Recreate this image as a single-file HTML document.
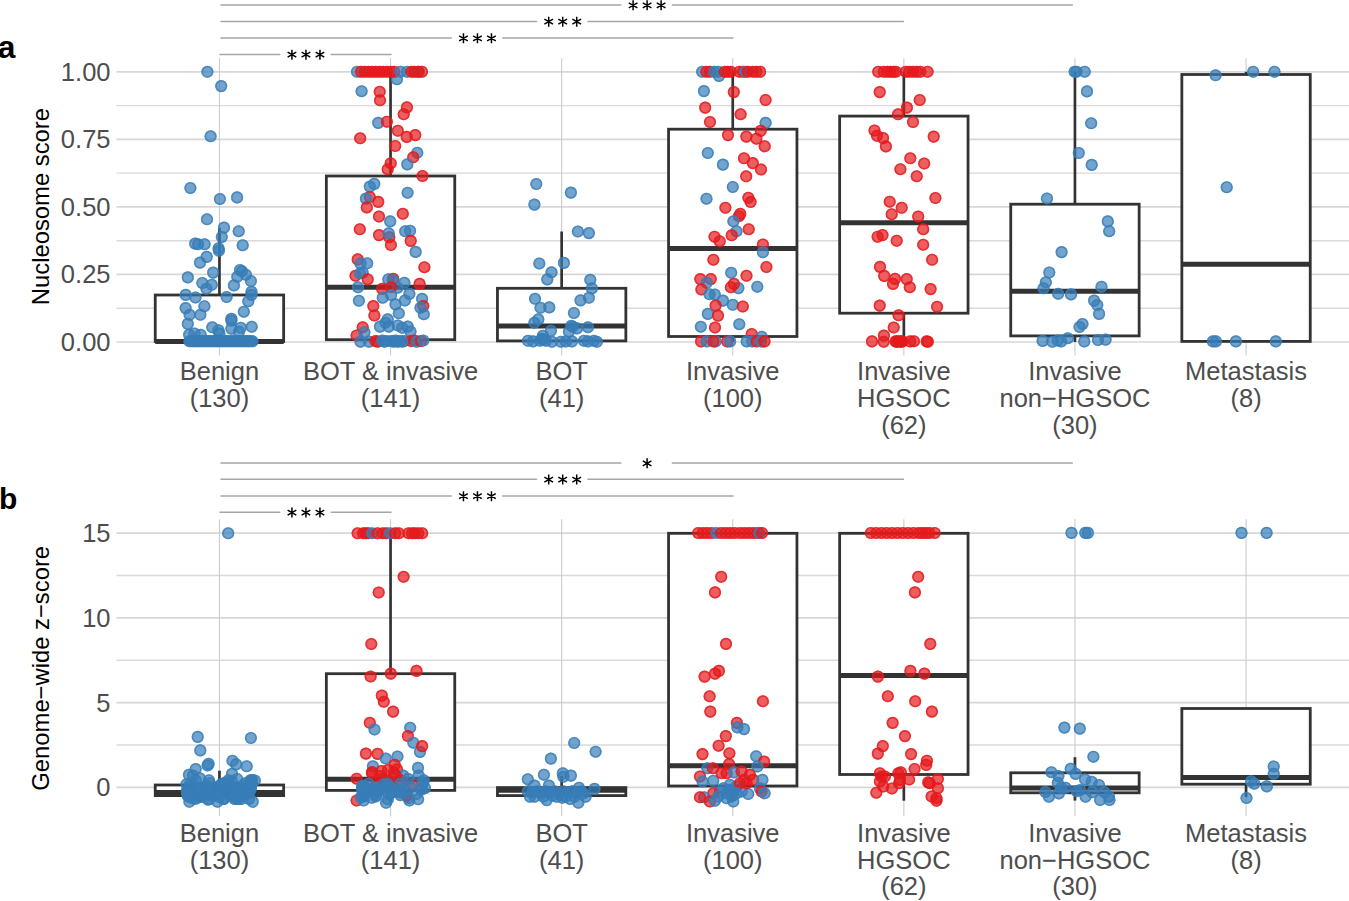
<!DOCTYPE html><html><head><meta charset="utf-8"><style>html,body{margin:0;padding:0;background:#fff;}svg{display:block;}text{font-family:"Liberation Sans",sans-serif;}</style></head><body>
<svg width="1349" height="901" viewBox="0 0 1349 901">
<rect width="1349" height="901" fill="#fff"/>
<line x1="116.5" x2="1349" y1="308.23" y2="308.23" stroke="#dadada" stroke-width="1.4"/>
<line x1="116.5" x2="1349" y1="240.68" y2="240.68" stroke="#dadada" stroke-width="1.4"/>
<line x1="116.5" x2="1349" y1="173.12" y2="173.12" stroke="#dadada" stroke-width="1.4"/>
<line x1="116.5" x2="1349" y1="105.58" y2="105.58" stroke="#dadada" stroke-width="1.4"/>
<line x1="116.5" x2="1349" y1="342.00" y2="342.00" stroke="#d7d7d7" stroke-width="1.7"/>
<line x1="116.5" x2="1349" y1="274.45" y2="274.45" stroke="#d7d7d7" stroke-width="1.7"/>
<line x1="116.5" x2="1349" y1="206.90" y2="206.90" stroke="#d7d7d7" stroke-width="1.7"/>
<line x1="116.5" x2="1349" y1="139.35" y2="139.35" stroke="#d7d7d7" stroke-width="1.7"/>
<line x1="116.5" x2="1349" y1="71.80" y2="71.80" stroke="#d7d7d7" stroke-width="1.7"/>
<line x1="219.45" x2="219.45" y1="58.3" y2="355.5" stroke="#cdcdcd" stroke-width="1.15"/>
<line x1="390.55" x2="390.55" y1="58.3" y2="355.5" stroke="#cdcdcd" stroke-width="1.15"/>
<line x1="561.65" x2="561.65" y1="58.3" y2="355.5" stroke="#cdcdcd" stroke-width="1.15"/>
<line x1="732.75" x2="732.75" y1="58.3" y2="355.5" stroke="#cdcdcd" stroke-width="1.15"/>
<line x1="903.85" x2="903.85" y1="58.3" y2="355.5" stroke="#cdcdcd" stroke-width="1.15"/>
<line x1="1074.95" x2="1074.95" y1="58.3" y2="355.5" stroke="#cdcdcd" stroke-width="1.15"/>
<line x1="1246.05" x2="1246.05" y1="58.3" y2="355.5" stroke="#cdcdcd" stroke-width="1.15"/>
<line x1="116.5" x2="1349" y1="745.03" y2="745.03" stroke="#dadada" stroke-width="1.4"/>
<line x1="116.5" x2="1349" y1="660.30" y2="660.30" stroke="#dadada" stroke-width="1.4"/>
<line x1="116.5" x2="1349" y1="575.56" y2="575.56" stroke="#dadada" stroke-width="1.4"/>
<line x1="116.5" x2="1349" y1="787.40" y2="787.40" stroke="#d7d7d7" stroke-width="1.7"/>
<line x1="116.5" x2="1349" y1="702.66" y2="702.66" stroke="#d7d7d7" stroke-width="1.7"/>
<line x1="116.5" x2="1349" y1="617.93" y2="617.93" stroke="#d7d7d7" stroke-width="1.7"/>
<line x1="116.5" x2="1349" y1="533.19" y2="533.19" stroke="#d7d7d7" stroke-width="1.7"/>
<line x1="219.45" x2="219.45" y1="519.3" y2="816.0" stroke="#cdcdcd" stroke-width="1.15"/>
<line x1="390.55" x2="390.55" y1="519.3" y2="816.0" stroke="#cdcdcd" stroke-width="1.15"/>
<line x1="561.65" x2="561.65" y1="519.3" y2="816.0" stroke="#cdcdcd" stroke-width="1.15"/>
<line x1="732.75" x2="732.75" y1="519.3" y2="816.0" stroke="#cdcdcd" stroke-width="1.15"/>
<line x1="903.85" x2="903.85" y1="519.3" y2="816.0" stroke="#cdcdcd" stroke-width="1.15"/>
<line x1="1074.95" x2="1074.95" y1="519.3" y2="816.0" stroke="#cdcdcd" stroke-width="1.15"/>
<line x1="1246.05" x2="1246.05" y1="519.3" y2="816.0" stroke="#cdcdcd" stroke-width="1.15"/>
<text x="110.5" y="351.00" text-anchor="end" fill="#4d4d4d" font-size="25.5">0.00</text>
<text x="110.5" y="283.45" text-anchor="end" fill="#4d4d4d" font-size="25.5">0.25</text>
<text x="110.5" y="215.90" text-anchor="end" fill="#4d4d4d" font-size="25.5">0.50</text>
<text x="110.5" y="148.35" text-anchor="end" fill="#4d4d4d" font-size="25.5">0.75</text>
<text x="110.5" y="80.80" text-anchor="end" fill="#4d4d4d" font-size="25.5">1.00</text>
<text x="110.5" y="796.40" text-anchor="end" fill="#4d4d4d" font-size="25.5">0</text>
<text x="110.5" y="711.66" text-anchor="end" fill="#4d4d4d" font-size="25.5">5</text>
<text x="110.5" y="626.93" text-anchor="end" fill="#4d4d4d" font-size="25.5">10</text>
<text x="110.5" y="542.19" text-anchor="end" fill="#4d4d4d" font-size="25.5">15</text>
<text x="219.45" y="380.10" text-anchor="middle" fill="#4d4d4d" font-size="25.5">Benign</text>
<text x="219.45" y="406.90" text-anchor="middle" fill="#4d4d4d" font-size="25.5">(130)</text>
<text x="390.55" y="380.10" text-anchor="middle" fill="#4d4d4d" font-size="25.5">BOT &amp; invasive</text>
<text x="390.55" y="406.90" text-anchor="middle" fill="#4d4d4d" font-size="25.5">(141)</text>
<text x="561.65" y="380.10" text-anchor="middle" fill="#4d4d4d" font-size="25.5">BOT</text>
<text x="561.65" y="406.90" text-anchor="middle" fill="#4d4d4d" font-size="25.5">(41)</text>
<text x="732.75" y="380.10" text-anchor="middle" fill="#4d4d4d" font-size="25.5">Invasive</text>
<text x="732.75" y="406.90" text-anchor="middle" fill="#4d4d4d" font-size="25.5">(100)</text>
<text x="903.85" y="380.10" text-anchor="middle" fill="#4d4d4d" font-size="25.5">Invasive</text>
<text x="903.85" y="406.90" text-anchor="middle" fill="#4d4d4d" font-size="25.5">HGSOC</text>
<text x="903.85" y="433.70" text-anchor="middle" fill="#4d4d4d" font-size="25.5">(62)</text>
<text x="1074.95" y="380.10" text-anchor="middle" fill="#4d4d4d" font-size="25.5">Invasive</text>
<text x="1074.95" y="406.90" text-anchor="middle" fill="#4d4d4d" font-size="25.5">non−HGSOC</text>
<text x="1074.95" y="433.70" text-anchor="middle" fill="#4d4d4d" font-size="25.5">(30)</text>
<text x="1246.05" y="380.10" text-anchor="middle" fill="#4d4d4d" font-size="25.5">Metastasis</text>
<text x="1246.05" y="406.90" text-anchor="middle" fill="#4d4d4d" font-size="25.5">(8)</text>
<text x="219.45" y="841.70" text-anchor="middle" fill="#4d4d4d" font-size="25.5">Benign</text>
<text x="219.45" y="868.50" text-anchor="middle" fill="#4d4d4d" font-size="25.5">(130)</text>
<text x="390.55" y="841.70" text-anchor="middle" fill="#4d4d4d" font-size="25.5">BOT &amp; invasive</text>
<text x="390.55" y="868.50" text-anchor="middle" fill="#4d4d4d" font-size="25.5">(141)</text>
<text x="561.65" y="841.70" text-anchor="middle" fill="#4d4d4d" font-size="25.5">BOT</text>
<text x="561.65" y="868.50" text-anchor="middle" fill="#4d4d4d" font-size="25.5">(41)</text>
<text x="732.75" y="841.70" text-anchor="middle" fill="#4d4d4d" font-size="25.5">Invasive</text>
<text x="732.75" y="868.50" text-anchor="middle" fill="#4d4d4d" font-size="25.5">(100)</text>
<text x="903.85" y="841.70" text-anchor="middle" fill="#4d4d4d" font-size="25.5">Invasive</text>
<text x="903.85" y="868.50" text-anchor="middle" fill="#4d4d4d" font-size="25.5">HGSOC</text>
<text x="903.85" y="895.30" text-anchor="middle" fill="#4d4d4d" font-size="25.5">(62)</text>
<text x="1074.95" y="841.70" text-anchor="middle" fill="#4d4d4d" font-size="25.5">Invasive</text>
<text x="1074.95" y="868.50" text-anchor="middle" fill="#4d4d4d" font-size="25.5">non−HGSOC</text>
<text x="1074.95" y="895.30" text-anchor="middle" fill="#4d4d4d" font-size="25.5">(30)</text>
<text x="1246.05" y="841.70" text-anchor="middle" fill="#4d4d4d" font-size="25.5">Metastasis</text>
<text x="1246.05" y="868.50" text-anchor="middle" fill="#4d4d4d" font-size="25.5">(8)</text>
<text transform="translate(48.8,206.6) rotate(-90)" text-anchor="middle" font-size="23.8" fill="#000">Nucleosome score</text>
<text transform="translate(48.8,668.3) rotate(-90)" text-anchor="middle" font-size="23.8" fill="#000">Genome−wide z−score</text>
<text x="-2.2" y="57.9" font-size="31.8" font-weight="bold" fill="#000">a</text>
<text x="-1" y="509" font-size="30" font-weight="bold" fill="#000">b</text>
<path d="M220,54.4H279.80M331.20,54.4H391" stroke="#a6a6a6" stroke-width="1.5" stroke-linecap="round" fill="none"/>
<path d="M291.95,49.70L291.95,59.70M287.62,52.20L296.28,57.20M287.62,57.20L296.28,52.20M305.95,49.70L305.95,59.70M301.62,52.20L310.28,57.20M301.62,57.20L310.28,52.20M319.95,49.70L319.95,59.70M315.62,52.20L324.28,57.20M315.62,57.20L324.28,52.20" stroke="#000" stroke-width="1.5" fill="none"/>
<path d="M221,38.0H451.30M502.70,38.0H733" stroke="#a6a6a6" stroke-width="1.5" stroke-linecap="round" fill="none"/>
<path d="M463.45,33.30L463.45,43.30M459.12,35.80L467.78,40.80M459.12,40.80L467.78,35.80M477.45,33.30L477.45,43.30M473.12,35.80L481.78,40.80M473.12,40.80L481.78,35.80M491.45,33.30L491.45,43.30M487.12,35.80L495.78,40.80M487.12,40.80L495.78,35.80" stroke="#000" stroke-width="1.5" fill="none"/>
<path d="M221,21.4H536.55M587.95,21.4H903.5" stroke="#a6a6a6" stroke-width="1.5" stroke-linecap="round" fill="none"/>
<path d="M548.70,16.70L548.70,26.70M544.37,19.20L553.03,24.20M544.37,24.20L553.03,19.20M562.70,16.70L562.70,26.70M558.37,19.20L567.03,24.20M558.37,24.20L567.03,19.20M576.70,16.70L576.70,26.70M572.37,19.20L581.03,24.20M572.37,24.20L581.03,19.20" stroke="#000" stroke-width="1.5" fill="none"/>
<path d="M221,5.0H620.95M672.35,5.0H1072.3" stroke="#a6a6a6" stroke-width="1.5" stroke-linecap="round" fill="none"/>
<path d="M633.10,0.30L633.10,10.30M628.77,2.80L637.43,7.80M628.77,7.80L637.43,2.80M647.10,0.30L647.10,10.30M642.77,2.80L651.43,7.80M642.77,7.80L651.43,2.80M661.10,0.30L661.10,10.30M656.77,2.80L665.43,7.80M656.77,7.80L665.43,2.80" stroke="#000" stroke-width="1.5" fill="none"/>
<path d="M220,512.3H279.80M331.20,512.3H391" stroke="#a6a6a6" stroke-width="1.5" stroke-linecap="round" fill="none"/>
<path d="M291.95,507.60L291.95,517.60M287.62,510.10L296.28,515.10M287.62,515.10L296.28,510.10M305.95,507.60L305.95,517.60M301.62,510.10L310.28,515.10M301.62,515.10L310.28,510.10M319.95,507.60L319.95,517.60M315.62,510.10L324.28,515.10M315.62,515.10L324.28,510.10" stroke="#000" stroke-width="1.5" fill="none"/>
<path d="M221,495.9H451.30M502.70,495.9H733" stroke="#a6a6a6" stroke-width="1.5" stroke-linecap="round" fill="none"/>
<path d="M463.45,491.20L463.45,501.20M459.12,493.70L467.78,498.70M459.12,498.70L467.78,493.70M477.45,491.20L477.45,501.20M473.12,493.70L481.78,498.70M473.12,498.70L481.78,493.70M491.45,491.20L491.45,501.20M487.12,493.70L495.78,498.70M487.12,498.70L495.78,493.70" stroke="#000" stroke-width="1.5" fill="none"/>
<path d="M221,479.3H536.55M587.95,479.3H903.5" stroke="#a6a6a6" stroke-width="1.5" stroke-linecap="round" fill="none"/>
<path d="M548.70,474.60L548.70,484.60M544.37,477.10L553.03,482.10M544.37,482.10L553.03,477.10M562.70,474.60L562.70,484.60M558.37,477.10L567.03,482.10M558.37,482.10L567.03,477.10M576.70,474.60L576.70,484.60M572.37,477.10L581.03,482.10M572.37,482.10L581.03,477.10" stroke="#000" stroke-width="1.5" fill="none"/>
<path d="M221,463.0H620.95M672.35,463.0H1072.3" stroke="#a6a6a6" stroke-width="1.5" stroke-linecap="round" fill="none"/>
<path d="M647.10,458.30L647.10,468.30M642.77,460.80L651.43,465.80M642.77,465.80L651.43,460.80" stroke="#000" stroke-width="1.5" fill="none"/>
<line x1="219.45" x2="219.45" y1="227.9" y2="295.0" stroke="#333333" fill="none" stroke-width="2.7"/>
<rect x="155.25" y="295.0" width="128.40" height="46.50" stroke="#333333" fill="#fff" stroke-width="2.8"/>
<line x1="155.25" x2="283.65" y1="341.5" y2="341.5" stroke="#333333" fill="none" stroke-width="5.0"/>
<line x1="390.55" x2="390.55" y1="71.8" y2="176" stroke="#333333" fill="none" stroke-width="2.7"/>
<line x1="390.55" x2="390.55" y1="339.7" y2="342" stroke="#333333" fill="none" stroke-width="2.7"/>
<rect x="326.35" y="176" width="128.40" height="163.70" stroke="#333333" fill="#fff" stroke-width="2.8"/>
<line x1="326.35" x2="454.75" y1="287.2" y2="287.2" stroke="#333333" fill="none" stroke-width="5.0"/>
<line x1="561.65" x2="561.65" y1="231.5" y2="288.3" stroke="#333333" fill="none" stroke-width="2.7"/>
<line x1="561.65" x2="561.65" y1="340.9" y2="342" stroke="#333333" fill="none" stroke-width="2.7"/>
<rect x="497.45" y="288.3" width="128.40" height="52.60" stroke="#333333" fill="#fff" stroke-width="2.8"/>
<line x1="497.45" x2="625.85" y1="326" y2="326" stroke="#333333" fill="none" stroke-width="5.0"/>
<line x1="732.75" x2="732.75" y1="71.8" y2="129.2" stroke="#333333" fill="none" stroke-width="2.7"/>
<line x1="732.75" x2="732.75" y1="336.5" y2="342" stroke="#333333" fill="none" stroke-width="2.7"/>
<rect x="668.55" y="129.2" width="128.40" height="207.30" stroke="#333333" fill="#fff" stroke-width="2.8"/>
<line x1="668.55" x2="796.95" y1="248.4" y2="248.4" stroke="#333333" fill="none" stroke-width="5.0"/>
<line x1="903.85" x2="903.85" y1="71.8" y2="116.1" stroke="#333333" fill="none" stroke-width="2.7"/>
<line x1="903.85" x2="903.85" y1="313.2" y2="342" stroke="#333333" fill="none" stroke-width="2.7"/>
<rect x="839.65" y="116.1" width="128.40" height="197.10" stroke="#333333" fill="#fff" stroke-width="2.8"/>
<line x1="839.65" x2="968.05" y1="222.8" y2="222.8" stroke="#333333" fill="none" stroke-width="5.0"/>
<line x1="1074.95" x2="1074.95" y1="71.8" y2="204.2" stroke="#333333" fill="none" stroke-width="2.7"/>
<line x1="1074.95" x2="1074.95" y1="335.9" y2="342" stroke="#333333" fill="none" stroke-width="2.7"/>
<rect x="1010.75" y="204.2" width="128.40" height="131.70" stroke="#333333" fill="#fff" stroke-width="2.8"/>
<line x1="1010.75" x2="1139.15" y1="291.2" y2="291.2" stroke="#333333" fill="none" stroke-width="5.0"/>
<line x1="1246.05" x2="1246.05" y1="71.8" y2="74.5" stroke="#333333" fill="none" stroke-width="2.7"/>
<rect x="1181.85" y="74.5" width="128.40" height="266.90" stroke="#333333" fill="#fff" stroke-width="2.8"/>
<line x1="1181.85" x2="1310.25" y1="264.3" y2="264.3" stroke="#333333" fill="none" stroke-width="5.0"/>
<line x1="219.45" x2="219.45" y1="770.7" y2="785.0" stroke="#333333" fill="none" stroke-width="2.7"/>
<line x1="219.45" x2="219.45" y1="795.6" y2="801" stroke="#333333" fill="none" stroke-width="2.7"/>
<rect x="155.25" y="785.0" width="128.40" height="10.60" stroke="#333333" fill="#fff" stroke-width="2.8"/>
<line x1="155.25" x2="283.65" y1="792.5" y2="792.5" stroke="#333333" fill="none" stroke-width="5.0"/>
<line x1="390.55" x2="390.55" y1="533.3" y2="673.7" stroke="#333333" fill="none" stroke-width="2.7"/>
<line x1="390.55" x2="390.55" y1="790.4" y2="802" stroke="#333333" fill="none" stroke-width="2.7"/>
<rect x="326.35" y="673.7" width="128.40" height="116.70" stroke="#333333" fill="#fff" stroke-width="2.8"/>
<line x1="326.35" x2="454.75" y1="779.2" y2="779.2" stroke="#333333" fill="none" stroke-width="5.0"/>
<line x1="561.65" x2="561.65" y1="776" y2="787.6" stroke="#333333" fill="none" stroke-width="2.7"/>
<line x1="561.65" x2="561.65" y1="795.6" y2="801" stroke="#333333" fill="none" stroke-width="2.7"/>
<rect x="497.45" y="787.6" width="128.40" height="8.00" stroke="#333333" fill="#fff" stroke-width="2.8"/>
<line x1="497.45" x2="625.85" y1="790.3" y2="790.3" stroke="#333333" fill="none" stroke-width="5.0"/>
<line x1="732.75" x2="732.75" y1="786.0" y2="801" stroke="#333333" fill="none" stroke-width="2.7"/>
<rect x="668.55" y="533.3" width="128.40" height="252.70" stroke="#333333" fill="#fff" stroke-width="2.8"/>
<line x1="668.55" x2="796.95" y1="765.7" y2="765.7" stroke="#333333" fill="none" stroke-width="5.0"/>
<line x1="903.85" x2="903.85" y1="774.5" y2="800.7" stroke="#333333" fill="none" stroke-width="2.7"/>
<rect x="839.65" y="533.3" width="128.40" height="241.20" stroke="#333333" fill="#fff" stroke-width="2.8"/>
<line x1="839.65" x2="968.05" y1="675.4" y2="675.4" stroke="#333333" fill="none" stroke-width="5.0"/>
<line x1="1074.95" x2="1074.95" y1="757.2" y2="772.8" stroke="#333333" fill="none" stroke-width="2.7"/>
<line x1="1074.95" x2="1074.95" y1="792.8" y2="800.6" stroke="#333333" fill="none" stroke-width="2.7"/>
<rect x="1010.75" y="772.8" width="128.40" height="20.00" stroke="#333333" fill="#fff" stroke-width="2.8"/>
<line x1="1010.75" x2="1139.15" y1="788.0" y2="788.0" stroke="#333333" fill="none" stroke-width="5.0"/>
<line x1="1246.05" x2="1246.05" y1="784.2" y2="797" stroke="#333333" fill="none" stroke-width="2.7"/>
<rect x="1181.85" y="708.5" width="128.40" height="75.70" stroke="#333333" fill="#fff" stroke-width="2.8"/>
<line x1="1181.85" x2="1310.25" y1="777.5" y2="777.5" stroke="#333333" fill="none" stroke-width="5.0"/>
<circle cx="207.0" cy="219.3" r="6.05" fill="#377EB8" fill-opacity="0.7"/><circle cx="207.0" cy="219.3" r="5.25" fill="none" stroke="#377EB8" stroke-opacity="0.7" stroke-width="1.6"/>
<circle cx="224.0" cy="227.6" r="6.05" fill="#377EB8" fill-opacity="0.7"/><circle cx="224.0" cy="227.6" r="5.25" fill="none" stroke="#377EB8" stroke-opacity="0.7" stroke-width="1.6"/>
<circle cx="238.7" cy="231.2" r="6.05" fill="#377EB8" fill-opacity="0.7"/><circle cx="238.7" cy="231.2" r="5.25" fill="none" stroke="#377EB8" stroke-opacity="0.7" stroke-width="1.6"/>
<circle cx="221.8" cy="237.0" r="6.05" fill="#377EB8" fill-opacity="0.7"/><circle cx="221.8" cy="237.0" r="5.25" fill="none" stroke="#377EB8" stroke-opacity="0.7" stroke-width="1.6"/>
<circle cx="195.2" cy="243.6" r="6.05" fill="#377EB8" fill-opacity="0.7"/><circle cx="195.2" cy="243.6" r="5.25" fill="none" stroke="#377EB8" stroke-opacity="0.7" stroke-width="1.6"/>
<circle cx="198.1" cy="244.2" r="6.05" fill="#377EB8" fill-opacity="0.7"/><circle cx="198.1" cy="244.2" r="5.25" fill="none" stroke="#377EB8" stroke-opacity="0.7" stroke-width="1.6"/>
<circle cx="204.6" cy="244.2" r="6.05" fill="#377EB8" fill-opacity="0.7"/><circle cx="204.6" cy="244.2" r="5.25" fill="none" stroke="#377EB8" stroke-opacity="0.7" stroke-width="1.6"/>
<circle cx="242.7" cy="245.3" r="6.05" fill="#377EB8" fill-opacity="0.7"/><circle cx="242.7" cy="245.3" r="5.25" fill="none" stroke="#377EB8" stroke-opacity="0.7" stroke-width="1.6"/>
<circle cx="218.6" cy="248.4" r="6.05" fill="#377EB8" fill-opacity="0.7"/><circle cx="218.6" cy="248.4" r="5.25" fill="none" stroke="#377EB8" stroke-opacity="0.7" stroke-width="1.6"/>
<circle cx="218.9" cy="250.8" r="6.05" fill="#377EB8" fill-opacity="0.7"/><circle cx="218.9" cy="250.8" r="5.25" fill="none" stroke="#377EB8" stroke-opacity="0.7" stroke-width="1.6"/>
<circle cx="206.7" cy="256.9" r="6.05" fill="#377EB8" fill-opacity="0.7"/><circle cx="206.7" cy="256.9" r="5.25" fill="none" stroke="#377EB8" stroke-opacity="0.7" stroke-width="1.6"/>
<circle cx="200.0" cy="262.6" r="6.05" fill="#377EB8" fill-opacity="0.7"/><circle cx="200.0" cy="262.6" r="5.25" fill="none" stroke="#377EB8" stroke-opacity="0.7" stroke-width="1.6"/>
<circle cx="213.2" cy="272.6" r="6.05" fill="#377EB8" fill-opacity="0.7"/><circle cx="213.2" cy="272.6" r="5.25" fill="none" stroke="#377EB8" stroke-opacity="0.7" stroke-width="1.6"/>
<circle cx="187.8" cy="277.4" r="6.05" fill="#377EB8" fill-opacity="0.7"/><circle cx="187.8" cy="277.4" r="5.25" fill="none" stroke="#377EB8" stroke-opacity="0.7" stroke-width="1.6"/>
<circle cx="240.0" cy="270.0" r="6.05" fill="#377EB8" fill-opacity="0.7"/><circle cx="240.0" cy="270.0" r="5.25" fill="none" stroke="#377EB8" stroke-opacity="0.7" stroke-width="1.6"/>
<circle cx="242.0" cy="271.2" r="6.05" fill="#377EB8" fill-opacity="0.7"/><circle cx="242.0" cy="271.2" r="5.25" fill="none" stroke="#377EB8" stroke-opacity="0.7" stroke-width="1.6"/>
<circle cx="245.9" cy="274.7" r="6.05" fill="#377EB8" fill-opacity="0.7"/><circle cx="245.9" cy="274.7" r="5.25" fill="none" stroke="#377EB8" stroke-opacity="0.7" stroke-width="1.6"/>
<circle cx="237.3" cy="276.7" r="6.05" fill="#377EB8" fill-opacity="0.7"/><circle cx="237.3" cy="276.7" r="5.25" fill="none" stroke="#377EB8" stroke-opacity="0.7" stroke-width="1.6"/>
<circle cx="250.9" cy="281.0" r="6.05" fill="#377EB8" fill-opacity="0.7"/><circle cx="250.9" cy="281.0" r="5.25" fill="none" stroke="#377EB8" stroke-opacity="0.7" stroke-width="1.6"/>
<circle cx="202.3" cy="283.0" r="6.05" fill="#377EB8" fill-opacity="0.7"/><circle cx="202.3" cy="283.0" r="5.25" fill="none" stroke="#377EB8" stroke-opacity="0.7" stroke-width="1.6"/>
<circle cx="211.8" cy="284.8" r="6.05" fill="#377EB8" fill-opacity="0.7"/><circle cx="211.8" cy="284.8" r="5.25" fill="none" stroke="#377EB8" stroke-opacity="0.7" stroke-width="1.6"/>
<circle cx="206.4" cy="288.7" r="6.05" fill="#377EB8" fill-opacity="0.7"/><circle cx="206.4" cy="288.7" r="5.25" fill="none" stroke="#377EB8" stroke-opacity="0.7" stroke-width="1.6"/>
<circle cx="233.9" cy="285.4" r="6.05" fill="#377EB8" fill-opacity="0.7"/><circle cx="233.9" cy="285.4" r="5.25" fill="none" stroke="#377EB8" stroke-opacity="0.7" stroke-width="1.6"/>
<circle cx="251.5" cy="291.9" r="6.05" fill="#377EB8" fill-opacity="0.7"/><circle cx="251.5" cy="291.9" r="5.25" fill="none" stroke="#377EB8" stroke-opacity="0.7" stroke-width="1.6"/>
<circle cx="185.7" cy="294.9" r="6.05" fill="#377EB8" fill-opacity="0.7"/><circle cx="185.7" cy="294.9" r="5.25" fill="none" stroke="#377EB8" stroke-opacity="0.7" stroke-width="1.6"/>
<circle cx="195.5" cy="297.5" r="6.05" fill="#377EB8" fill-opacity="0.7"/><circle cx="195.5" cy="297.5" r="5.25" fill="none" stroke="#377EB8" stroke-opacity="0.7" stroke-width="1.6"/>
<circle cx="226.6" cy="297.0" r="6.05" fill="#377EB8" fill-opacity="0.7"/><circle cx="226.6" cy="297.0" r="5.25" fill="none" stroke="#377EB8" stroke-opacity="0.7" stroke-width="1.6"/>
<circle cx="251.5" cy="294.9" r="6.05" fill="#377EB8" fill-opacity="0.7"/><circle cx="251.5" cy="294.9" r="5.25" fill="none" stroke="#377EB8" stroke-opacity="0.7" stroke-width="1.6"/>
<circle cx="207.4" cy="71.8" r="6.05" fill="#377EB8" fill-opacity="0.7"/><circle cx="207.4" cy="71.8" r="5.25" fill="none" stroke="#377EB8" stroke-opacity="0.7" stroke-width="1.6"/>
<circle cx="221.2" cy="86.1" r="6.05" fill="#377EB8" fill-opacity="0.7"/><circle cx="221.2" cy="86.1" r="5.25" fill="none" stroke="#377EB8" stroke-opacity="0.7" stroke-width="1.6"/>
<circle cx="210.6" cy="136.3" r="6.05" fill="#377EB8" fill-opacity="0.7"/><circle cx="210.6" cy="136.3" r="5.25" fill="none" stroke="#377EB8" stroke-opacity="0.7" stroke-width="1.6"/>
<circle cx="190.4" cy="188.0" r="6.05" fill="#377EB8" fill-opacity="0.7"/><circle cx="190.4" cy="188.0" r="5.25" fill="none" stroke="#377EB8" stroke-opacity="0.7" stroke-width="1.6"/>
<circle cx="219.9" cy="199.0" r="6.05" fill="#377EB8" fill-opacity="0.7"/><circle cx="219.9" cy="199.0" r="5.25" fill="none" stroke="#377EB8" stroke-opacity="0.7" stroke-width="1.6"/>
<circle cx="237.1" cy="197.4" r="6.05" fill="#377EB8" fill-opacity="0.7"/><circle cx="237.1" cy="197.4" r="5.25" fill="none" stroke="#377EB8" stroke-opacity="0.7" stroke-width="1.6"/>
<circle cx="185.6" cy="308.1" r="6.05" fill="#377EB8" fill-opacity="0.7"/><circle cx="185.6" cy="308.1" r="5.25" fill="none" stroke="#377EB8" stroke-opacity="0.7" stroke-width="1.6"/>
<circle cx="204.4" cy="306.2" r="6.05" fill="#377EB8" fill-opacity="0.7"/><circle cx="204.4" cy="306.2" r="5.25" fill="none" stroke="#377EB8" stroke-opacity="0.7" stroke-width="1.6"/>
<circle cx="189.6" cy="314.8" r="6.05" fill="#377EB8" fill-opacity="0.7"/><circle cx="189.6" cy="314.8" r="5.25" fill="none" stroke="#377EB8" stroke-opacity="0.7" stroke-width="1.6"/>
<circle cx="200.4" cy="314.8" r="6.05" fill="#377EB8" fill-opacity="0.7"/><circle cx="200.4" cy="314.8" r="5.25" fill="none" stroke="#377EB8" stroke-opacity="0.7" stroke-width="1.6"/>
<circle cx="187.8" cy="323.9" r="6.05" fill="#377EB8" fill-opacity="0.7"/><circle cx="187.8" cy="323.9" r="5.25" fill="none" stroke="#377EB8" stroke-opacity="0.7" stroke-width="1.6"/>
<circle cx="248.3" cy="301.2" r="6.05" fill="#377EB8" fill-opacity="0.7"/><circle cx="248.3" cy="301.2" r="5.25" fill="none" stroke="#377EB8" stroke-opacity="0.7" stroke-width="1.6"/>
<circle cx="243.8" cy="311.7" r="6.05" fill="#377EB8" fill-opacity="0.7"/><circle cx="243.8" cy="311.7" r="5.25" fill="none" stroke="#377EB8" stroke-opacity="0.7" stroke-width="1.6"/>
<circle cx="231.4" cy="318.8" r="6.05" fill="#377EB8" fill-opacity="0.7"/><circle cx="231.4" cy="318.8" r="5.25" fill="none" stroke="#377EB8" stroke-opacity="0.7" stroke-width="1.6"/>
<circle cx="231.4" cy="320.6" r="6.05" fill="#377EB8" fill-opacity="0.7"/><circle cx="231.4" cy="320.6" r="5.25" fill="none" stroke="#377EB8" stroke-opacity="0.7" stroke-width="1.6"/>
<circle cx="231.4" cy="328.6" r="6.05" fill="#377EB8" fill-opacity="0.7"/><circle cx="231.4" cy="328.6" r="5.25" fill="none" stroke="#377EB8" stroke-opacity="0.7" stroke-width="1.6"/>
<circle cx="240.7" cy="327.7" r="6.05" fill="#377EB8" fill-opacity="0.7"/><circle cx="240.7" cy="327.7" r="5.25" fill="none" stroke="#377EB8" stroke-opacity="0.7" stroke-width="1.6"/>
<circle cx="251.7" cy="326.8" r="6.05" fill="#377EB8" fill-opacity="0.7"/><circle cx="251.7" cy="326.8" r="5.25" fill="none" stroke="#377EB8" stroke-opacity="0.7" stroke-width="1.6"/>
<circle cx="212.3" cy="327.3" r="6.05" fill="#377EB8" fill-opacity="0.7"/><circle cx="212.3" cy="327.3" r="5.25" fill="none" stroke="#377EB8" stroke-opacity="0.7" stroke-width="1.6"/>
<circle cx="218.5" cy="330.4" r="6.05" fill="#377EB8" fill-opacity="0.7"/><circle cx="218.5" cy="330.4" r="5.25" fill="none" stroke="#377EB8" stroke-opacity="0.7" stroke-width="1.6"/>
<circle cx="219.4" cy="333.5" r="6.05" fill="#377EB8" fill-opacity="0.7"/><circle cx="219.4" cy="333.5" r="5.25" fill="none" stroke="#377EB8" stroke-opacity="0.7" stroke-width="1.6"/>
<circle cx="189.1" cy="334.8" r="6.05" fill="#377EB8" fill-opacity="0.7"/><circle cx="189.1" cy="334.8" r="5.25" fill="none" stroke="#377EB8" stroke-opacity="0.7" stroke-width="1.6"/>
<circle cx="194.5" cy="333.5" r="6.05" fill="#377EB8" fill-opacity="0.7"/><circle cx="194.5" cy="333.5" r="5.25" fill="none" stroke="#377EB8" stroke-opacity="0.7" stroke-width="1.6"/>
<circle cx="200.7" cy="334.8" r="6.05" fill="#377EB8" fill-opacity="0.7"/><circle cx="200.7" cy="334.8" r="5.25" fill="none" stroke="#377EB8" stroke-opacity="0.7" stroke-width="1.6"/>
<circle cx="239.0" cy="331.7" r="6.05" fill="#377EB8" fill-opacity="0.7"/><circle cx="239.0" cy="331.7" r="5.25" fill="none" stroke="#377EB8" stroke-opacity="0.7" stroke-width="1.6"/>
<circle cx="361.6" cy="91.2" r="6.05" fill="#377EB8" fill-opacity="0.7"/><circle cx="361.6" cy="91.2" r="5.25" fill="none" stroke="#377EB8" stroke-opacity="0.7" stroke-width="1.6"/>
<circle cx="379.7" cy="91.8" r="6.05" fill="#E41A1C" fill-opacity="0.7"/><circle cx="379.7" cy="91.8" r="5.25" fill="none" stroke="#E41A1C" stroke-opacity="0.7" stroke-width="1.6"/>
<circle cx="380.0" cy="100.3" r="6.05" fill="#E41A1C" fill-opacity="0.7"/><circle cx="380.0" cy="100.3" r="5.25" fill="none" stroke="#E41A1C" stroke-opacity="0.7" stroke-width="1.6"/>
<circle cx="406.9" cy="107.4" r="6.05" fill="#E41A1C" fill-opacity="0.7"/><circle cx="406.9" cy="107.4" r="5.25" fill="none" stroke="#E41A1C" stroke-opacity="0.7" stroke-width="1.6"/>
<circle cx="403.7" cy="114.3" r="6.05" fill="#E41A1C" fill-opacity="0.7"/><circle cx="403.7" cy="114.3" r="5.25" fill="none" stroke="#E41A1C" stroke-opacity="0.7" stroke-width="1.6"/>
<circle cx="378.2" cy="122.9" r="6.05" fill="#377EB8" fill-opacity="0.7"/><circle cx="378.2" cy="122.9" r="5.25" fill="none" stroke="#377EB8" stroke-opacity="0.7" stroke-width="1.6"/>
<circle cx="386.9" cy="121.7" r="6.05" fill="#E41A1C" fill-opacity="0.7"/><circle cx="386.9" cy="121.7" r="5.25" fill="none" stroke="#E41A1C" stroke-opacity="0.7" stroke-width="1.6"/>
<circle cx="397.8" cy="130.8" r="6.05" fill="#E41A1C" fill-opacity="0.7"/><circle cx="397.8" cy="130.8" r="5.25" fill="none" stroke="#E41A1C" stroke-opacity="0.7" stroke-width="1.6"/>
<circle cx="406.7" cy="136.9" r="6.05" fill="#E41A1C" fill-opacity="0.7"/><circle cx="406.7" cy="136.9" r="5.25" fill="none" stroke="#E41A1C" stroke-opacity="0.7" stroke-width="1.6"/>
<circle cx="415.3" cy="135.1" r="6.05" fill="#E41A1C" fill-opacity="0.7"/><circle cx="415.3" cy="135.1" r="5.25" fill="none" stroke="#E41A1C" stroke-opacity="0.7" stroke-width="1.6"/>
<circle cx="360.2" cy="138.3" r="6.05" fill="#E41A1C" fill-opacity="0.7"/><circle cx="360.2" cy="138.3" r="5.25" fill="none" stroke="#E41A1C" stroke-opacity="0.7" stroke-width="1.6"/>
<circle cx="395.2" cy="146.0" r="6.05" fill="#E41A1C" fill-opacity="0.7"/><circle cx="395.2" cy="146.0" r="5.25" fill="none" stroke="#E41A1C" stroke-opacity="0.7" stroke-width="1.6"/>
<circle cx="417.3" cy="152.8" r="6.05" fill="#377EB8" fill-opacity="0.7"/><circle cx="417.3" cy="152.8" r="5.25" fill="none" stroke="#377EB8" stroke-opacity="0.7" stroke-width="1.6"/>
<circle cx="413.2" cy="157.3" r="6.05" fill="#E41A1C" fill-opacity="0.7"/><circle cx="413.2" cy="157.3" r="5.25" fill="none" stroke="#E41A1C" stroke-opacity="0.7" stroke-width="1.6"/>
<circle cx="390.7" cy="163.2" r="6.05" fill="#E41A1C" fill-opacity="0.7"/><circle cx="390.7" cy="163.2" r="5.25" fill="none" stroke="#E41A1C" stroke-opacity="0.7" stroke-width="1.6"/>
<circle cx="407.3" cy="164.4" r="6.05" fill="#377EB8" fill-opacity="0.7"/><circle cx="407.3" cy="164.4" r="5.25" fill="none" stroke="#377EB8" stroke-opacity="0.7" stroke-width="1.6"/>
<circle cx="387.7" cy="169.3" r="6.05" fill="#E41A1C" fill-opacity="0.7"/><circle cx="387.7" cy="169.3" r="5.25" fill="none" stroke="#E41A1C" stroke-opacity="0.7" stroke-width="1.6"/>
<circle cx="422.5" cy="176.0" r="6.05" fill="#E41A1C" fill-opacity="0.7"/><circle cx="422.5" cy="176.0" r="5.25" fill="none" stroke="#E41A1C" stroke-opacity="0.7" stroke-width="1.6"/>
<circle cx="374.3" cy="183.9" r="6.05" fill="#377EB8" fill-opacity="0.7"/><circle cx="374.3" cy="183.9" r="5.25" fill="none" stroke="#377EB8" stroke-opacity="0.7" stroke-width="1.6"/>
<circle cx="369.8" cy="186.6" r="6.05" fill="#377EB8" fill-opacity="0.7"/><circle cx="369.8" cy="186.6" r="5.25" fill="none" stroke="#377EB8" stroke-opacity="0.7" stroke-width="1.6"/>
<circle cx="407.6" cy="192.7" r="6.05" fill="#377EB8" fill-opacity="0.7"/><circle cx="407.6" cy="192.7" r="5.25" fill="none" stroke="#377EB8" stroke-opacity="0.7" stroke-width="1.6"/>
<circle cx="369.8" cy="197.0" r="6.05" fill="#E41A1C" fill-opacity="0.7"/><circle cx="369.8" cy="197.0" r="5.25" fill="none" stroke="#E41A1C" stroke-opacity="0.7" stroke-width="1.6"/>
<circle cx="365.9" cy="198.6" r="6.05" fill="#377EB8" fill-opacity="0.7"/><circle cx="365.9" cy="198.6" r="5.25" fill="none" stroke="#377EB8" stroke-opacity="0.7" stroke-width="1.6"/>
<circle cx="378.3" cy="201.9" r="6.05" fill="#E41A1C" fill-opacity="0.7"/><circle cx="378.3" cy="201.9" r="5.25" fill="none" stroke="#E41A1C" stroke-opacity="0.7" stroke-width="1.6"/>
<circle cx="366.8" cy="207.4" r="6.05" fill="#E41A1C" fill-opacity="0.7"/><circle cx="366.8" cy="207.4" r="5.25" fill="none" stroke="#E41A1C" stroke-opacity="0.7" stroke-width="1.6"/>
<circle cx="379.0" cy="216.5" r="6.05" fill="#E41A1C" fill-opacity="0.7"/><circle cx="379.0" cy="216.5" r="5.25" fill="none" stroke="#E41A1C" stroke-opacity="0.7" stroke-width="1.6"/>
<circle cx="402.8" cy="213.8" r="6.05" fill="#E41A1C" fill-opacity="0.7"/><circle cx="402.8" cy="213.8" r="5.25" fill="none" stroke="#E41A1C" stroke-opacity="0.7" stroke-width="1.6"/>
<circle cx="390.2" cy="221.4" r="6.05" fill="#377EB8" fill-opacity="0.7"/><circle cx="390.2" cy="221.4" r="5.25" fill="none" stroke="#377EB8" stroke-opacity="0.7" stroke-width="1.6"/>
<circle cx="359.8" cy="229.3" r="6.05" fill="#E41A1C" fill-opacity="0.7"/><circle cx="359.8" cy="229.3" r="5.25" fill="none" stroke="#E41A1C" stroke-opacity="0.7" stroke-width="1.6"/>
<circle cx="379.0" cy="235.1" r="6.05" fill="#E41A1C" fill-opacity="0.7"/><circle cx="379.0" cy="235.1" r="5.25" fill="none" stroke="#E41A1C" stroke-opacity="0.7" stroke-width="1.6"/>
<circle cx="389.3" cy="237.3" r="6.05" fill="#E41A1C" fill-opacity="0.7"/><circle cx="389.3" cy="237.3" r="5.25" fill="none" stroke="#E41A1C" stroke-opacity="0.7" stroke-width="1.6"/>
<circle cx="388.7" cy="233.4" r="6.05" fill="#377EB8" fill-opacity="0.7"/><circle cx="388.7" cy="233.4" r="5.25" fill="none" stroke="#377EB8" stroke-opacity="0.7" stroke-width="1.6"/>
<circle cx="390.9" cy="245.0" r="6.05" fill="#E41A1C" fill-opacity="0.7"/><circle cx="390.9" cy="245.0" r="5.25" fill="none" stroke="#E41A1C" stroke-opacity="0.7" stroke-width="1.6"/>
<circle cx="405.2" cy="231.2" r="6.05" fill="#377EB8" fill-opacity="0.7"/><circle cx="405.2" cy="231.2" r="5.25" fill="none" stroke="#377EB8" stroke-opacity="0.7" stroke-width="1.6"/>
<circle cx="410.1" cy="230.8" r="6.05" fill="#377EB8" fill-opacity="0.7"/><circle cx="410.1" cy="230.8" r="5.25" fill="none" stroke="#377EB8" stroke-opacity="0.7" stroke-width="1.6"/>
<circle cx="410.7" cy="240.9" r="6.05" fill="#E41A1C" fill-opacity="0.7"/><circle cx="410.7" cy="240.9" r="5.25" fill="none" stroke="#E41A1C" stroke-opacity="0.7" stroke-width="1.6"/>
<circle cx="415.6" cy="251.9" r="6.05" fill="#377EB8" fill-opacity="0.7"/><circle cx="415.6" cy="251.9" r="5.25" fill="none" stroke="#377EB8" stroke-opacity="0.7" stroke-width="1.6"/>
<circle cx="357.7" cy="259.4" r="6.05" fill="#E41A1C" fill-opacity="0.7"/><circle cx="357.7" cy="259.4" r="5.25" fill="none" stroke="#E41A1C" stroke-opacity="0.7" stroke-width="1.6"/>
<circle cx="360.5" cy="263.5" r="6.05" fill="#377EB8" fill-opacity="0.7"/><circle cx="360.5" cy="263.5" r="5.25" fill="none" stroke="#377EB8" stroke-opacity="0.7" stroke-width="1.6"/>
<circle cx="367.2" cy="263.3" r="6.05" fill="#377EB8" fill-opacity="0.7"/><circle cx="367.2" cy="263.3" r="5.25" fill="none" stroke="#377EB8" stroke-opacity="0.7" stroke-width="1.6"/>
<circle cx="355.5" cy="275.8" r="6.05" fill="#E41A1C" fill-opacity="0.7"/><circle cx="355.5" cy="275.8" r="5.25" fill="none" stroke="#E41A1C" stroke-opacity="0.7" stroke-width="1.6"/>
<circle cx="360.0" cy="273.3" r="6.05" fill="#377EB8" fill-opacity="0.7"/><circle cx="360.0" cy="273.3" r="5.25" fill="none" stroke="#377EB8" stroke-opacity="0.7" stroke-width="1.6"/>
<circle cx="362.7" cy="272.8" r="6.05" fill="#377EB8" fill-opacity="0.7"/><circle cx="362.7" cy="272.8" r="5.25" fill="none" stroke="#377EB8" stroke-opacity="0.7" stroke-width="1.6"/>
<circle cx="367.7" cy="279.4" r="6.05" fill="#E41A1C" fill-opacity="0.7"/><circle cx="367.7" cy="279.4" r="5.25" fill="none" stroke="#E41A1C" stroke-opacity="0.7" stroke-width="1.6"/>
<circle cx="358.0" cy="287.2" r="6.05" fill="#377EB8" fill-opacity="0.7"/><circle cx="358.0" cy="287.2" r="5.25" fill="none" stroke="#377EB8" stroke-opacity="0.7" stroke-width="1.6"/>
<circle cx="358.9" cy="300.8" r="6.05" fill="#377EB8" fill-opacity="0.7"/><circle cx="358.9" cy="300.8" r="5.25" fill="none" stroke="#377EB8" stroke-opacity="0.7" stroke-width="1.6"/>
<circle cx="388.3" cy="279.4" r="6.05" fill="#377EB8" fill-opacity="0.7"/><circle cx="388.3" cy="279.4" r="5.25" fill="none" stroke="#377EB8" stroke-opacity="0.7" stroke-width="1.6"/>
<circle cx="393.3" cy="278.9" r="6.05" fill="#E41A1C" fill-opacity="0.7"/><circle cx="393.3" cy="278.9" r="5.25" fill="none" stroke="#E41A1C" stroke-opacity="0.7" stroke-width="1.6"/>
<circle cx="392.7" cy="280.0" r="6.05" fill="#377EB8" fill-opacity="0.7"/><circle cx="392.7" cy="280.0" r="5.25" fill="none" stroke="#377EB8" stroke-opacity="0.7" stroke-width="1.6"/>
<circle cx="382.2" cy="288.9" r="6.05" fill="#E41A1C" fill-opacity="0.7"/><circle cx="382.2" cy="288.9" r="5.25" fill="none" stroke="#E41A1C" stroke-opacity="0.7" stroke-width="1.6"/>
<circle cx="397.7" cy="287.7" r="6.05" fill="#377EB8" fill-opacity="0.7"/><circle cx="397.7" cy="287.7" r="5.25" fill="none" stroke="#377EB8" stroke-opacity="0.7" stroke-width="1.6"/>
<circle cx="404.4" cy="282.8" r="6.05" fill="#377EB8" fill-opacity="0.7"/><circle cx="404.4" cy="282.8" r="5.25" fill="none" stroke="#377EB8" stroke-opacity="0.7" stroke-width="1.6"/>
<circle cx="391.1" cy="287.2" r="6.05" fill="#E41A1C" fill-opacity="0.7"/><circle cx="391.1" cy="287.2" r="5.25" fill="none" stroke="#E41A1C" stroke-opacity="0.7" stroke-width="1.6"/>
<circle cx="419.6" cy="283.9" r="6.05" fill="#E41A1C" fill-opacity="0.7"/><circle cx="419.6" cy="283.9" r="5.25" fill="none" stroke="#E41A1C" stroke-opacity="0.7" stroke-width="1.6"/>
<circle cx="424.4" cy="267.2" r="6.05" fill="#E41A1C" fill-opacity="0.7"/><circle cx="424.4" cy="267.2" r="5.25" fill="none" stroke="#E41A1C" stroke-opacity="0.7" stroke-width="1.6"/>
<circle cx="409.4" cy="293.9" r="6.05" fill="#377EB8" fill-opacity="0.7"/><circle cx="409.4" cy="293.9" r="5.25" fill="none" stroke="#377EB8" stroke-opacity="0.7" stroke-width="1.6"/>
<circle cx="404.9" cy="300.5" r="6.05" fill="#377EB8" fill-opacity="0.7"/><circle cx="404.9" cy="300.5" r="5.25" fill="none" stroke="#377EB8" stroke-opacity="0.7" stroke-width="1.6"/>
<circle cx="391.1" cy="295.0" r="6.05" fill="#377EB8" fill-opacity="0.7"/><circle cx="391.1" cy="295.0" r="5.25" fill="none" stroke="#377EB8" stroke-opacity="0.7" stroke-width="1.6"/>
<circle cx="382.7" cy="297.7" r="6.05" fill="#377EB8" fill-opacity="0.7"/><circle cx="382.7" cy="297.7" r="5.25" fill="none" stroke="#377EB8" stroke-opacity="0.7" stroke-width="1.6"/>
<circle cx="395.5" cy="304.4" r="6.05" fill="#377EB8" fill-opacity="0.7"/><circle cx="395.5" cy="304.4" r="5.25" fill="none" stroke="#377EB8" stroke-opacity="0.7" stroke-width="1.6"/>
<circle cx="422.1" cy="298.9" r="6.05" fill="#377EB8" fill-opacity="0.7"/><circle cx="422.1" cy="298.9" r="5.25" fill="none" stroke="#377EB8" stroke-opacity="0.7" stroke-width="1.6"/>
<circle cx="423.3" cy="306.1" r="6.05" fill="#E41A1C" fill-opacity="0.7"/><circle cx="423.3" cy="306.1" r="5.25" fill="none" stroke="#E41A1C" stroke-opacity="0.7" stroke-width="1.6"/>
<circle cx="420.5" cy="307.7" r="6.05" fill="#377EB8" fill-opacity="0.7"/><circle cx="420.5" cy="307.7" r="5.25" fill="none" stroke="#377EB8" stroke-opacity="0.7" stroke-width="1.6"/>
<circle cx="423.8" cy="314.2" r="6.05" fill="#377EB8" fill-opacity="0.7"/><circle cx="423.8" cy="314.2" r="5.25" fill="none" stroke="#377EB8" stroke-opacity="0.7" stroke-width="1.6"/>
<circle cx="398.8" cy="313.3" r="6.05" fill="#377EB8" fill-opacity="0.7"/><circle cx="398.8" cy="313.3" r="5.25" fill="none" stroke="#377EB8" stroke-opacity="0.7" stroke-width="1.6"/>
<circle cx="373.3" cy="306.1" r="6.05" fill="#E41A1C" fill-opacity="0.7"/><circle cx="373.3" cy="306.1" r="5.25" fill="none" stroke="#E41A1C" stroke-opacity="0.7" stroke-width="1.6"/>
<circle cx="374.4" cy="315.5" r="6.05" fill="#E41A1C" fill-opacity="0.7"/><circle cx="374.4" cy="315.5" r="5.25" fill="none" stroke="#E41A1C" stroke-opacity="0.7" stroke-width="1.6"/>
<circle cx="387.7" cy="319.4" r="6.05" fill="#377EB8" fill-opacity="0.7"/><circle cx="387.7" cy="319.4" r="5.25" fill="none" stroke="#377EB8" stroke-opacity="0.7" stroke-width="1.6"/>
<circle cx="385.5" cy="322.7" r="6.05" fill="#377EB8" fill-opacity="0.7"/><circle cx="385.5" cy="322.7" r="5.25" fill="none" stroke="#377EB8" stroke-opacity="0.7" stroke-width="1.6"/>
<circle cx="380.0" cy="326.6" r="6.05" fill="#377EB8" fill-opacity="0.7"/><circle cx="380.0" cy="326.6" r="5.25" fill="none" stroke="#377EB8" stroke-opacity="0.7" stroke-width="1.6"/>
<circle cx="388.8" cy="326.6" r="6.05" fill="#377EB8" fill-opacity="0.7"/><circle cx="388.8" cy="326.6" r="5.25" fill="none" stroke="#377EB8" stroke-opacity="0.7" stroke-width="1.6"/>
<circle cx="397.7" cy="325.5" r="6.05" fill="#377EB8" fill-opacity="0.7"/><circle cx="397.7" cy="325.5" r="5.25" fill="none" stroke="#377EB8" stroke-opacity="0.7" stroke-width="1.6"/>
<circle cx="402.2" cy="327.7" r="6.05" fill="#377EB8" fill-opacity="0.7"/><circle cx="402.2" cy="327.7" r="5.25" fill="none" stroke="#377EB8" stroke-opacity="0.7" stroke-width="1.6"/>
<circle cx="407.7" cy="326.6" r="6.05" fill="#377EB8" fill-opacity="0.7"/><circle cx="407.7" cy="326.6" r="5.25" fill="none" stroke="#377EB8" stroke-opacity="0.7" stroke-width="1.6"/>
<circle cx="410.5" cy="331.6" r="6.05" fill="#377EB8" fill-opacity="0.7"/><circle cx="410.5" cy="331.6" r="5.25" fill="none" stroke="#377EB8" stroke-opacity="0.7" stroke-width="1.6"/>
<circle cx="362.7" cy="327.2" r="6.05" fill="#E41A1C" fill-opacity="0.7"/><circle cx="362.7" cy="327.2" r="5.25" fill="none" stroke="#E41A1C" stroke-opacity="0.7" stroke-width="1.6"/>
<circle cx="356.6" cy="335.5" r="6.05" fill="#E41A1C" fill-opacity="0.7"/><circle cx="356.6" cy="335.5" r="5.25" fill="none" stroke="#E41A1C" stroke-opacity="0.7" stroke-width="1.6"/>
<circle cx="364.4" cy="332.2" r="6.05" fill="#377EB8" fill-opacity="0.7"/><circle cx="364.4" cy="332.2" r="5.25" fill="none" stroke="#377EB8" stroke-opacity="0.7" stroke-width="1.6"/>
<circle cx="360.5" cy="341.6" r="6.05" fill="#377EB8" fill-opacity="0.7"/><circle cx="360.5" cy="341.6" r="5.25" fill="none" stroke="#377EB8" stroke-opacity="0.7" stroke-width="1.6"/>
<circle cx="368.9" cy="341.6" r="6.05" fill="#377EB8" fill-opacity="0.7"/><circle cx="368.9" cy="341.6" r="5.25" fill="none" stroke="#377EB8" stroke-opacity="0.7" stroke-width="1.6"/>
<circle cx="375.5" cy="341.0" r="6.05" fill="#E41A1C" fill-opacity="0.7"/><circle cx="375.5" cy="341.0" r="5.25" fill="none" stroke="#E41A1C" stroke-opacity="0.7" stroke-width="1.6"/>
<circle cx="377.7" cy="341.6" r="6.05" fill="#E41A1C" fill-opacity="0.7"/><circle cx="377.7" cy="341.6" r="5.25" fill="none" stroke="#E41A1C" stroke-opacity="0.7" stroke-width="1.6"/>
<circle cx="382.2" cy="340.5" r="6.05" fill="#377EB8" fill-opacity="0.7"/><circle cx="382.2" cy="340.5" r="5.25" fill="none" stroke="#377EB8" stroke-opacity="0.7" stroke-width="1.6"/>
<circle cx="386.6" cy="341.0" r="6.05" fill="#377EB8" fill-opacity="0.7"/><circle cx="386.6" cy="341.0" r="5.25" fill="none" stroke="#377EB8" stroke-opacity="0.7" stroke-width="1.6"/>
<circle cx="391.1" cy="341.0" r="6.05" fill="#377EB8" fill-opacity="0.7"/><circle cx="391.1" cy="341.0" r="5.25" fill="none" stroke="#377EB8" stroke-opacity="0.7" stroke-width="1.6"/>
<circle cx="395.5" cy="340.5" r="6.05" fill="#377EB8" fill-opacity="0.7"/><circle cx="395.5" cy="340.5" r="5.25" fill="none" stroke="#377EB8" stroke-opacity="0.7" stroke-width="1.6"/>
<circle cx="399.9" cy="341.0" r="6.05" fill="#377EB8" fill-opacity="0.7"/><circle cx="399.9" cy="341.0" r="5.25" fill="none" stroke="#377EB8" stroke-opacity="0.7" stroke-width="1.6"/>
<circle cx="404.4" cy="341.0" r="6.05" fill="#377EB8" fill-opacity="0.7"/><circle cx="404.4" cy="341.0" r="5.25" fill="none" stroke="#377EB8" stroke-opacity="0.7" stroke-width="1.6"/>
<circle cx="411.0" cy="341.0" r="6.05" fill="#E41A1C" fill-opacity="0.7"/><circle cx="411.0" cy="341.0" r="5.25" fill="none" stroke="#E41A1C" stroke-opacity="0.7" stroke-width="1.6"/>
<circle cx="414.4" cy="340.5" r="6.05" fill="#E41A1C" fill-opacity="0.7"/><circle cx="414.4" cy="340.5" r="5.25" fill="none" stroke="#E41A1C" stroke-opacity="0.7" stroke-width="1.6"/>
<circle cx="416.6" cy="341.6" r="6.05" fill="#377EB8" fill-opacity="0.7"/><circle cx="416.6" cy="341.6" r="5.25" fill="none" stroke="#377EB8" stroke-opacity="0.7" stroke-width="1.6"/>
<circle cx="421.0" cy="341.0" r="6.05" fill="#E41A1C" fill-opacity="0.7"/><circle cx="421.0" cy="341.0" r="5.25" fill="none" stroke="#E41A1C" stroke-opacity="0.7" stroke-width="1.6"/>
<circle cx="423.3" cy="340.5" r="6.05" fill="#377EB8" fill-opacity="0.7"/><circle cx="423.3" cy="340.5" r="5.25" fill="none" stroke="#377EB8" stroke-opacity="0.7" stroke-width="1.6"/>
<circle cx="384.4" cy="341.6" r="6.05" fill="#377EB8" fill-opacity="0.7"/><circle cx="384.4" cy="341.6" r="5.25" fill="none" stroke="#377EB8" stroke-opacity="0.7" stroke-width="1.6"/>
<circle cx="393.3" cy="341.6" r="6.05" fill="#377EB8" fill-opacity="0.7"/><circle cx="393.3" cy="341.6" r="5.25" fill="none" stroke="#377EB8" stroke-opacity="0.7" stroke-width="1.6"/>
<circle cx="397.7" cy="341.6" r="6.05" fill="#377EB8" fill-opacity="0.7"/><circle cx="397.7" cy="341.6" r="5.25" fill="none" stroke="#377EB8" stroke-opacity="0.7" stroke-width="1.6"/>
<circle cx="402.2" cy="341.6" r="6.05" fill="#377EB8" fill-opacity="0.7"/><circle cx="402.2" cy="341.6" r="5.25" fill="none" stroke="#377EB8" stroke-opacity="0.7" stroke-width="1.6"/>
<circle cx="536.3" cy="184.0" r="6.05" fill="#377EB8" fill-opacity="0.7"/><circle cx="536.3" cy="184.0" r="5.25" fill="none" stroke="#377EB8" stroke-opacity="0.7" stroke-width="1.6"/>
<circle cx="570.9" cy="192.6" r="6.05" fill="#377EB8" fill-opacity="0.7"/><circle cx="570.9" cy="192.6" r="5.25" fill="none" stroke="#377EB8" stroke-opacity="0.7" stroke-width="1.6"/>
<circle cx="534.4" cy="204.6" r="6.05" fill="#377EB8" fill-opacity="0.7"/><circle cx="534.4" cy="204.6" r="5.25" fill="none" stroke="#377EB8" stroke-opacity="0.7" stroke-width="1.6"/>
<circle cx="577.9" cy="231.5" r="6.05" fill="#377EB8" fill-opacity="0.7"/><circle cx="577.9" cy="231.5" r="5.25" fill="none" stroke="#377EB8" stroke-opacity="0.7" stroke-width="1.6"/>
<circle cx="588.9" cy="233.1" r="6.05" fill="#377EB8" fill-opacity="0.7"/><circle cx="588.9" cy="233.1" r="5.25" fill="none" stroke="#377EB8" stroke-opacity="0.7" stroke-width="1.6"/>
<circle cx="539.3" cy="263.5" r="6.05" fill="#377EB8" fill-opacity="0.7"/><circle cx="539.3" cy="263.5" r="5.25" fill="none" stroke="#377EB8" stroke-opacity="0.7" stroke-width="1.6"/>
<circle cx="563.9" cy="262.9" r="6.05" fill="#377EB8" fill-opacity="0.7"/><circle cx="563.9" cy="262.9" r="5.25" fill="none" stroke="#377EB8" stroke-opacity="0.7" stroke-width="1.6"/>
<circle cx="551.5" cy="272.3" r="6.05" fill="#377EB8" fill-opacity="0.7"/><circle cx="551.5" cy="272.3" r="5.25" fill="none" stroke="#377EB8" stroke-opacity="0.7" stroke-width="1.6"/>
<circle cx="547.3" cy="279.4" r="6.05" fill="#377EB8" fill-opacity="0.7"/><circle cx="547.3" cy="279.4" r="5.25" fill="none" stroke="#377EB8" stroke-opacity="0.7" stroke-width="1.6"/>
<circle cx="590.3" cy="279.8" r="6.05" fill="#377EB8" fill-opacity="0.7"/><circle cx="590.3" cy="279.8" r="5.25" fill="none" stroke="#377EB8" stroke-opacity="0.7" stroke-width="1.6"/>
<circle cx="591.9" cy="288.4" r="6.05" fill="#377EB8" fill-opacity="0.7"/><circle cx="591.9" cy="288.4" r="5.25" fill="none" stroke="#377EB8" stroke-opacity="0.7" stroke-width="1.6"/>
<circle cx="535.0" cy="298.8" r="6.05" fill="#377EB8" fill-opacity="0.7"/><circle cx="535.0" cy="298.8" r="5.25" fill="none" stroke="#377EB8" stroke-opacity="0.7" stroke-width="1.6"/>
<circle cx="588.9" cy="297.8" r="6.05" fill="#377EB8" fill-opacity="0.7"/><circle cx="588.9" cy="297.8" r="5.25" fill="none" stroke="#377EB8" stroke-opacity="0.7" stroke-width="1.6"/>
<circle cx="580.5" cy="300.4" r="6.05" fill="#377EB8" fill-opacity="0.7"/><circle cx="580.5" cy="300.4" r="5.25" fill="none" stroke="#377EB8" stroke-opacity="0.7" stroke-width="1.6"/>
<circle cx="540.5" cy="307.8" r="6.05" fill="#377EB8" fill-opacity="0.7"/><circle cx="540.5" cy="307.8" r="5.25" fill="none" stroke="#377EB8" stroke-opacity="0.7" stroke-width="1.6"/>
<circle cx="549.3" cy="307.4" r="6.05" fill="#377EB8" fill-opacity="0.7"/><circle cx="549.3" cy="307.4" r="5.25" fill="none" stroke="#377EB8" stroke-opacity="0.7" stroke-width="1.6"/>
<circle cx="573.9" cy="313.0" r="6.05" fill="#377EB8" fill-opacity="0.7"/><circle cx="573.9" cy="313.0" r="5.25" fill="none" stroke="#377EB8" stroke-opacity="0.7" stroke-width="1.6"/>
<circle cx="538.3" cy="319.4" r="6.05" fill="#377EB8" fill-opacity="0.7"/><circle cx="538.3" cy="319.4" r="5.25" fill="none" stroke="#377EB8" stroke-opacity="0.7" stroke-width="1.6"/>
<circle cx="534.4" cy="322.8" r="6.05" fill="#377EB8" fill-opacity="0.7"/><circle cx="534.4" cy="322.8" r="5.25" fill="none" stroke="#377EB8" stroke-opacity="0.7" stroke-width="1.6"/>
<circle cx="550.9" cy="330.8" r="6.05" fill="#377EB8" fill-opacity="0.7"/><circle cx="550.9" cy="330.8" r="5.25" fill="none" stroke="#377EB8" stroke-opacity="0.7" stroke-width="1.6"/>
<circle cx="568.9" cy="331.8" r="6.05" fill="#377EB8" fill-opacity="0.7"/><circle cx="568.9" cy="331.8" r="5.25" fill="none" stroke="#377EB8" stroke-opacity="0.7" stroke-width="1.6"/>
<circle cx="571.3" cy="325.8" r="6.05" fill="#377EB8" fill-opacity="0.7"/><circle cx="571.3" cy="325.8" r="5.25" fill="none" stroke="#377EB8" stroke-opacity="0.7" stroke-width="1.6"/>
<circle cx="576.9" cy="328.4" r="6.05" fill="#377EB8" fill-opacity="0.7"/><circle cx="576.9" cy="328.4" r="5.25" fill="none" stroke="#377EB8" stroke-opacity="0.7" stroke-width="1.6"/>
<circle cx="587.9" cy="327.2" r="6.05" fill="#377EB8" fill-opacity="0.7"/><circle cx="587.9" cy="327.2" r="5.25" fill="none" stroke="#377EB8" stroke-opacity="0.7" stroke-width="1.6"/>
<circle cx="542.9" cy="335.8" r="6.05" fill="#377EB8" fill-opacity="0.7"/><circle cx="542.9" cy="335.8" r="5.25" fill="none" stroke="#377EB8" stroke-opacity="0.7" stroke-width="1.6"/>
<circle cx="541.9" cy="338.8" r="6.05" fill="#377EB8" fill-opacity="0.7"/><circle cx="541.9" cy="338.8" r="5.25" fill="none" stroke="#377EB8" stroke-opacity="0.7" stroke-width="1.6"/>
<circle cx="572.9" cy="326.8" r="6.05" fill="#377EB8" fill-opacity="0.7"/><circle cx="572.9" cy="326.8" r="5.25" fill="none" stroke="#377EB8" stroke-opacity="0.7" stroke-width="1.6"/>
<circle cx="528.0" cy="340.8" r="6.05" fill="#377EB8" fill-opacity="0.7"/><circle cx="528.0" cy="340.8" r="5.25" fill="none" stroke="#377EB8" stroke-opacity="0.7" stroke-width="1.6"/>
<circle cx="533.0" cy="341.4" r="6.05" fill="#377EB8" fill-opacity="0.7"/><circle cx="533.0" cy="341.4" r="5.25" fill="none" stroke="#377EB8" stroke-opacity="0.7" stroke-width="1.6"/>
<circle cx="539.9" cy="340.8" r="6.05" fill="#377EB8" fill-opacity="0.7"/><circle cx="539.9" cy="340.8" r="5.25" fill="none" stroke="#377EB8" stroke-opacity="0.7" stroke-width="1.6"/>
<circle cx="542.9" cy="339.8" r="6.05" fill="#377EB8" fill-opacity="0.7"/><circle cx="542.9" cy="339.8" r="5.25" fill="none" stroke="#377EB8" stroke-opacity="0.7" stroke-width="1.6"/>
<circle cx="545.9" cy="340.8" r="6.05" fill="#377EB8" fill-opacity="0.7"/><circle cx="545.9" cy="340.8" r="5.25" fill="none" stroke="#377EB8" stroke-opacity="0.7" stroke-width="1.6"/>
<circle cx="551.9" cy="341.8" r="6.05" fill="#377EB8" fill-opacity="0.7"/><circle cx="551.9" cy="341.8" r="5.25" fill="none" stroke="#377EB8" stroke-opacity="0.7" stroke-width="1.6"/>
<circle cx="560.9" cy="341.8" r="6.05" fill="#377EB8" fill-opacity="0.7"/><circle cx="560.9" cy="341.8" r="5.25" fill="none" stroke="#377EB8" stroke-opacity="0.7" stroke-width="1.6"/>
<circle cx="565.9" cy="341.4" r="6.05" fill="#377EB8" fill-opacity="0.7"/><circle cx="565.9" cy="341.4" r="5.25" fill="none" stroke="#377EB8" stroke-opacity="0.7" stroke-width="1.6"/>
<circle cx="571.9" cy="341.4" r="6.05" fill="#377EB8" fill-opacity="0.7"/><circle cx="571.9" cy="341.4" r="5.25" fill="none" stroke="#377EB8" stroke-opacity="0.7" stroke-width="1.6"/>
<circle cx="583.9" cy="340.8" r="6.05" fill="#377EB8" fill-opacity="0.7"/><circle cx="583.9" cy="340.8" r="5.25" fill="none" stroke="#377EB8" stroke-opacity="0.7" stroke-width="1.6"/>
<circle cx="587.9" cy="341.4" r="6.05" fill="#377EB8" fill-opacity="0.7"/><circle cx="587.9" cy="341.4" r="5.25" fill="none" stroke="#377EB8" stroke-opacity="0.7" stroke-width="1.6"/>
<circle cx="593.9" cy="340.8" r="6.05" fill="#377EB8" fill-opacity="0.7"/><circle cx="593.9" cy="340.8" r="5.25" fill="none" stroke="#377EB8" stroke-opacity="0.7" stroke-width="1.6"/>
<circle cx="596.9" cy="341.8" r="6.05" fill="#377EB8" fill-opacity="0.7"/><circle cx="596.9" cy="341.8" r="5.25" fill="none" stroke="#377EB8" stroke-opacity="0.7" stroke-width="1.6"/>
<circle cx="702.1" cy="71.8" r="6.05" fill="#377EB8" fill-opacity="0.7"/><circle cx="702.1" cy="71.8" r="5.25" fill="none" stroke="#377EB8" stroke-opacity="0.7" stroke-width="1.6"/>
<circle cx="706.4" cy="71.8" r="6.05" fill="#E41A1C" fill-opacity="0.7"/><circle cx="706.4" cy="71.8" r="5.25" fill="none" stroke="#E41A1C" stroke-opacity="0.7" stroke-width="1.6"/>
<circle cx="710.0" cy="71.8" r="6.05" fill="#E41A1C" fill-opacity="0.7"/><circle cx="710.0" cy="71.8" r="5.25" fill="none" stroke="#E41A1C" stroke-opacity="0.7" stroke-width="1.6"/>
<circle cx="714.3" cy="71.8" r="6.05" fill="#377EB8" fill-opacity="0.7"/><circle cx="714.3" cy="71.8" r="5.25" fill="none" stroke="#377EB8" stroke-opacity="0.7" stroke-width="1.6"/>
<circle cx="718.3" cy="71.8" r="6.05" fill="#377EB8" fill-opacity="0.7"/><circle cx="718.3" cy="71.8" r="5.25" fill="none" stroke="#377EB8" stroke-opacity="0.7" stroke-width="1.6"/>
<circle cx="719.0" cy="75.9" r="6.05" fill="#377EB8" fill-opacity="0.7"/><circle cx="719.0" cy="75.9" r="5.25" fill="none" stroke="#377EB8" stroke-opacity="0.7" stroke-width="1.6"/>
<circle cx="724.7" cy="71.8" r="6.05" fill="#E41A1C" fill-opacity="0.7"/><circle cx="724.7" cy="71.8" r="5.25" fill="none" stroke="#E41A1C" stroke-opacity="0.7" stroke-width="1.6"/>
<circle cx="727.7" cy="71.8" r="6.05" fill="#E41A1C" fill-opacity="0.7"/><circle cx="727.7" cy="71.8" r="5.25" fill="none" stroke="#E41A1C" stroke-opacity="0.7" stroke-width="1.6"/>
<circle cx="730.8" cy="71.8" r="6.05" fill="#E41A1C" fill-opacity="0.7"/><circle cx="730.8" cy="71.8" r="5.25" fill="none" stroke="#E41A1C" stroke-opacity="0.7" stroke-width="1.6"/>
<circle cx="739.3" cy="71.8" r="6.05" fill="#E41A1C" fill-opacity="0.7"/><circle cx="739.3" cy="71.8" r="5.25" fill="none" stroke="#E41A1C" stroke-opacity="0.7" stroke-width="1.6"/>
<circle cx="743.0" cy="71.8" r="6.05" fill="#E41A1C" fill-opacity="0.7"/><circle cx="743.0" cy="71.8" r="5.25" fill="none" stroke="#E41A1C" stroke-opacity="0.7" stroke-width="1.6"/>
<circle cx="745.4" cy="71.8" r="6.05" fill="#377EB8" fill-opacity="0.7"/><circle cx="745.4" cy="71.8" r="5.25" fill="none" stroke="#377EB8" stroke-opacity="0.7" stroke-width="1.6"/>
<circle cx="747.9" cy="71.8" r="6.05" fill="#E41A1C" fill-opacity="0.7"/><circle cx="747.9" cy="71.8" r="5.25" fill="none" stroke="#E41A1C" stroke-opacity="0.7" stroke-width="1.6"/>
<circle cx="752.8" cy="71.8" r="6.05" fill="#E41A1C" fill-opacity="0.7"/><circle cx="752.8" cy="71.8" r="5.25" fill="none" stroke="#E41A1C" stroke-opacity="0.7" stroke-width="1.6"/>
<circle cx="756.4" cy="71.8" r="6.05" fill="#E41A1C" fill-opacity="0.7"/><circle cx="756.4" cy="71.8" r="5.25" fill="none" stroke="#E41A1C" stroke-opacity="0.7" stroke-width="1.6"/>
<circle cx="760.1" cy="71.8" r="6.05" fill="#E41A1C" fill-opacity="0.7"/><circle cx="760.1" cy="71.8" r="5.25" fill="none" stroke="#E41A1C" stroke-opacity="0.7" stroke-width="1.6"/>
<circle cx="703.9" cy="91.1" r="6.05" fill="#377EB8" fill-opacity="0.7"/><circle cx="703.9" cy="91.1" r="5.25" fill="none" stroke="#377EB8" stroke-opacity="0.7" stroke-width="1.6"/>
<circle cx="733.8" cy="92.1" r="6.05" fill="#E41A1C" fill-opacity="0.7"/><circle cx="733.8" cy="92.1" r="5.25" fill="none" stroke="#E41A1C" stroke-opacity="0.7" stroke-width="1.6"/>
<circle cx="765.6" cy="100.0" r="6.05" fill="#E41A1C" fill-opacity="0.7"/><circle cx="765.6" cy="100.0" r="5.25" fill="none" stroke="#E41A1C" stroke-opacity="0.7" stroke-width="1.6"/>
<circle cx="705.2" cy="107.6" r="6.05" fill="#E41A1C" fill-opacity="0.7"/><circle cx="705.2" cy="107.6" r="5.25" fill="none" stroke="#E41A1C" stroke-opacity="0.7" stroke-width="1.6"/>
<circle cx="740.6" cy="114.3" r="6.05" fill="#E41A1C" fill-opacity="0.7"/><circle cx="740.6" cy="114.3" r="5.25" fill="none" stroke="#E41A1C" stroke-opacity="0.7" stroke-width="1.6"/>
<circle cx="710.0" cy="122.0" r="6.05" fill="#E41A1C" fill-opacity="0.7"/><circle cx="710.0" cy="122.0" r="5.25" fill="none" stroke="#E41A1C" stroke-opacity="0.7" stroke-width="1.6"/>
<circle cx="765.6" cy="122.9" r="6.05" fill="#377EB8" fill-opacity="0.7"/><circle cx="765.6" cy="122.9" r="5.25" fill="none" stroke="#377EB8" stroke-opacity="0.7" stroke-width="1.6"/>
<circle cx="760.7" cy="130.8" r="6.05" fill="#E41A1C" fill-opacity="0.7"/><circle cx="760.7" cy="130.8" r="5.25" fill="none" stroke="#E41A1C" stroke-opacity="0.7" stroke-width="1.6"/>
<circle cx="728.0" cy="135.1" r="6.05" fill="#E41A1C" fill-opacity="0.7"/><circle cx="728.0" cy="135.1" r="5.25" fill="none" stroke="#E41A1C" stroke-opacity="0.7" stroke-width="1.6"/>
<circle cx="746.3" cy="136.6" r="6.05" fill="#E41A1C" fill-opacity="0.7"/><circle cx="746.3" cy="136.6" r="5.25" fill="none" stroke="#E41A1C" stroke-opacity="0.7" stroke-width="1.6"/>
<circle cx="756.4" cy="138.7" r="6.05" fill="#E41A1C" fill-opacity="0.7"/><circle cx="756.4" cy="138.7" r="5.25" fill="none" stroke="#E41A1C" stroke-opacity="0.7" stroke-width="1.6"/>
<circle cx="764.7" cy="146.3" r="6.05" fill="#E41A1C" fill-opacity="0.7"/><circle cx="764.7" cy="146.3" r="5.25" fill="none" stroke="#E41A1C" stroke-opacity="0.7" stroke-width="1.6"/>
<circle cx="707.8" cy="153.0" r="6.05" fill="#377EB8" fill-opacity="0.7"/><circle cx="707.8" cy="153.0" r="5.25" fill="none" stroke="#377EB8" stroke-opacity="0.7" stroke-width="1.6"/>
<circle cx="744.0" cy="158.3" r="6.05" fill="#E41A1C" fill-opacity="0.7"/><circle cx="744.0" cy="158.3" r="5.25" fill="none" stroke="#E41A1C" stroke-opacity="0.7" stroke-width="1.6"/>
<circle cx="752.8" cy="163.1" r="6.05" fill="#E41A1C" fill-opacity="0.7"/><circle cx="752.8" cy="163.1" r="5.25" fill="none" stroke="#E41A1C" stroke-opacity="0.7" stroke-width="1.6"/>
<circle cx="722.9" cy="164.6" r="6.05" fill="#377EB8" fill-opacity="0.7"/><circle cx="722.9" cy="164.6" r="5.25" fill="none" stroke="#377EB8" stroke-opacity="0.7" stroke-width="1.6"/>
<circle cx="761.0" cy="169.5" r="6.05" fill="#E41A1C" fill-opacity="0.7"/><circle cx="761.0" cy="169.5" r="5.25" fill="none" stroke="#E41A1C" stroke-opacity="0.7" stroke-width="1.6"/>
<circle cx="746.2" cy="176.3" r="6.05" fill="#E41A1C" fill-opacity="0.7"/><circle cx="746.2" cy="176.3" r="5.25" fill="none" stroke="#E41A1C" stroke-opacity="0.7" stroke-width="1.6"/>
<circle cx="732.8" cy="187.0" r="6.05" fill="#377EB8" fill-opacity="0.7"/><circle cx="732.8" cy="187.0" r="5.25" fill="none" stroke="#377EB8" stroke-opacity="0.7" stroke-width="1.6"/>
<circle cx="706.5" cy="198.7" r="6.05" fill="#377EB8" fill-opacity="0.7"/><circle cx="706.5" cy="198.7" r="5.25" fill="none" stroke="#377EB8" stroke-opacity="0.7" stroke-width="1.6"/>
<circle cx="748.4" cy="197.8" r="6.05" fill="#E41A1C" fill-opacity="0.7"/><circle cx="748.4" cy="197.8" r="5.25" fill="none" stroke="#E41A1C" stroke-opacity="0.7" stroke-width="1.6"/>
<circle cx="750.6" cy="202.0" r="6.05" fill="#E41A1C" fill-opacity="0.7"/><circle cx="750.6" cy="202.0" r="5.25" fill="none" stroke="#E41A1C" stroke-opacity="0.7" stroke-width="1.6"/>
<circle cx="725.4" cy="207.8" r="6.05" fill="#E41A1C" fill-opacity="0.7"/><circle cx="725.4" cy="207.8" r="5.25" fill="none" stroke="#E41A1C" stroke-opacity="0.7" stroke-width="1.6"/>
<circle cx="740.3" cy="213.9" r="6.05" fill="#E41A1C" fill-opacity="0.7"/><circle cx="740.3" cy="213.9" r="5.25" fill="none" stroke="#E41A1C" stroke-opacity="0.7" stroke-width="1.6"/>
<circle cx="738.9" cy="216.2" r="6.05" fill="#E41A1C" fill-opacity="0.7"/><circle cx="738.9" cy="216.2" r="5.25" fill="none" stroke="#E41A1C" stroke-opacity="0.7" stroke-width="1.6"/>
<circle cx="733.4" cy="221.2" r="6.05" fill="#377EB8" fill-opacity="0.7"/><circle cx="733.4" cy="221.2" r="5.25" fill="none" stroke="#377EB8" stroke-opacity="0.7" stroke-width="1.6"/>
<circle cx="748.7" cy="229.2" r="6.05" fill="#E41A1C" fill-opacity="0.7"/><circle cx="748.7" cy="229.2" r="5.25" fill="none" stroke="#E41A1C" stroke-opacity="0.7" stroke-width="1.6"/>
<circle cx="736.5" cy="231.2" r="6.05" fill="#377EB8" fill-opacity="0.7"/><circle cx="736.5" cy="231.2" r="5.25" fill="none" stroke="#377EB8" stroke-opacity="0.7" stroke-width="1.6"/>
<circle cx="731.7" cy="235.3" r="6.05" fill="#E41A1C" fill-opacity="0.7"/><circle cx="731.7" cy="235.3" r="5.25" fill="none" stroke="#E41A1C" stroke-opacity="0.7" stroke-width="1.6"/>
<circle cx="714.5" cy="236.7" r="6.05" fill="#E41A1C" fill-opacity="0.7"/><circle cx="714.5" cy="236.7" r="5.25" fill="none" stroke="#E41A1C" stroke-opacity="0.7" stroke-width="1.6"/>
<circle cx="719.7" cy="241.2" r="6.05" fill="#E41A1C" fill-opacity="0.7"/><circle cx="719.7" cy="241.2" r="5.25" fill="none" stroke="#E41A1C" stroke-opacity="0.7" stroke-width="1.6"/>
<circle cx="762.9" cy="244.5" r="6.05" fill="#E41A1C" fill-opacity="0.7"/><circle cx="762.9" cy="244.5" r="5.25" fill="none" stroke="#E41A1C" stroke-opacity="0.7" stroke-width="1.6"/>
<circle cx="762.9" cy="252.3" r="6.05" fill="#377EB8" fill-opacity="0.7"/><circle cx="762.9" cy="252.3" r="5.25" fill="none" stroke="#377EB8" stroke-opacity="0.7" stroke-width="1.6"/>
<circle cx="713.4" cy="259.7" r="6.05" fill="#E41A1C" fill-opacity="0.7"/><circle cx="713.4" cy="259.7" r="5.25" fill="none" stroke="#E41A1C" stroke-opacity="0.7" stroke-width="1.6"/>
<circle cx="766.4" cy="267.0" r="6.05" fill="#E41A1C" fill-opacity="0.7"/><circle cx="766.4" cy="267.0" r="5.25" fill="none" stroke="#E41A1C" stroke-opacity="0.7" stroke-width="1.6"/>
<circle cx="731.2" cy="272.8" r="6.05" fill="#377EB8" fill-opacity="0.7"/><circle cx="731.2" cy="272.8" r="5.25" fill="none" stroke="#377EB8" stroke-opacity="0.7" stroke-width="1.6"/>
<circle cx="746.5" cy="275.8" r="6.05" fill="#E41A1C" fill-opacity="0.7"/><circle cx="746.5" cy="275.8" r="5.25" fill="none" stroke="#E41A1C" stroke-opacity="0.7" stroke-width="1.6"/>
<circle cx="700.3" cy="279.1" r="6.05" fill="#E41A1C" fill-opacity="0.7"/><circle cx="700.3" cy="279.1" r="5.25" fill="none" stroke="#E41A1C" stroke-opacity="0.7" stroke-width="1.6"/>
<circle cx="710.8" cy="279.1" r="6.05" fill="#E41A1C" fill-opacity="0.7"/><circle cx="710.8" cy="279.1" r="5.25" fill="none" stroke="#E41A1C" stroke-opacity="0.7" stroke-width="1.6"/>
<circle cx="706.7" cy="282.8" r="6.05" fill="#377EB8" fill-opacity="0.7"/><circle cx="706.7" cy="282.8" r="5.25" fill="none" stroke="#377EB8" stroke-opacity="0.7" stroke-width="1.6"/>
<circle cx="701.4" cy="289.5" r="6.05" fill="#E41A1C" fill-opacity="0.7"/><circle cx="701.4" cy="289.5" r="5.25" fill="none" stroke="#E41A1C" stroke-opacity="0.7" stroke-width="1.6"/>
<circle cx="738.4" cy="288.1" r="6.05" fill="#377EB8" fill-opacity="0.7"/><circle cx="738.4" cy="288.1" r="5.25" fill="none" stroke="#377EB8" stroke-opacity="0.7" stroke-width="1.6"/>
<circle cx="730.9" cy="287.2" r="6.05" fill="#E41A1C" fill-opacity="0.7"/><circle cx="730.9" cy="287.2" r="5.25" fill="none" stroke="#E41A1C" stroke-opacity="0.7" stroke-width="1.6"/>
<circle cx="733.9" cy="283.9" r="6.05" fill="#E41A1C" fill-opacity="0.7"/><circle cx="733.9" cy="283.9" r="5.25" fill="none" stroke="#E41A1C" stroke-opacity="0.7" stroke-width="1.6"/>
<circle cx="757.3" cy="286.7" r="6.05" fill="#377EB8" fill-opacity="0.7"/><circle cx="757.3" cy="286.7" r="5.25" fill="none" stroke="#377EB8" stroke-opacity="0.7" stroke-width="1.6"/>
<circle cx="709.5" cy="294.3" r="6.05" fill="#377EB8" fill-opacity="0.7"/><circle cx="709.5" cy="294.3" r="5.25" fill="none" stroke="#377EB8" stroke-opacity="0.7" stroke-width="1.6"/>
<circle cx="714.8" cy="294.5" r="6.05" fill="#377EB8" fill-opacity="0.7"/><circle cx="714.8" cy="294.5" r="5.25" fill="none" stroke="#377EB8" stroke-opacity="0.7" stroke-width="1.6"/>
<circle cx="723.0" cy="300.6" r="6.05" fill="#377EB8" fill-opacity="0.7"/><circle cx="723.0" cy="300.6" r="5.25" fill="none" stroke="#377EB8" stroke-opacity="0.7" stroke-width="1.6"/>
<circle cx="732.8" cy="304.8" r="6.05" fill="#377EB8" fill-opacity="0.7"/><circle cx="732.8" cy="304.8" r="5.25" fill="none" stroke="#377EB8" stroke-opacity="0.7" stroke-width="1.6"/>
<circle cx="715.6" cy="305.6" r="6.05" fill="#E41A1C" fill-opacity="0.7"/><circle cx="715.6" cy="305.6" r="5.25" fill="none" stroke="#E41A1C" stroke-opacity="0.7" stroke-width="1.6"/>
<circle cx="742.8" cy="306.5" r="6.05" fill="#E41A1C" fill-opacity="0.7"/><circle cx="742.8" cy="306.5" r="5.25" fill="none" stroke="#E41A1C" stroke-opacity="0.7" stroke-width="1.6"/>
<circle cx="707.8" cy="313.9" r="6.05" fill="#377EB8" fill-opacity="0.7"/><circle cx="707.8" cy="313.9" r="5.25" fill="none" stroke="#377EB8" stroke-opacity="0.7" stroke-width="1.6"/>
<circle cx="718.0" cy="315.6" r="6.05" fill="#E41A1C" fill-opacity="0.7"/><circle cx="718.0" cy="315.6" r="5.25" fill="none" stroke="#E41A1C" stroke-opacity="0.7" stroke-width="1.6"/>
<circle cx="739.3" cy="324.2" r="6.05" fill="#377EB8" fill-opacity="0.7"/><circle cx="739.3" cy="324.2" r="5.25" fill="none" stroke="#377EB8" stroke-opacity="0.7" stroke-width="1.6"/>
<circle cx="700.8" cy="326.7" r="6.05" fill="#377EB8" fill-opacity="0.7"/><circle cx="700.8" cy="326.7" r="5.25" fill="none" stroke="#377EB8" stroke-opacity="0.7" stroke-width="1.6"/>
<circle cx="715.0" cy="327.5" r="6.05" fill="#E41A1C" fill-opacity="0.7"/><circle cx="715.0" cy="327.5" r="5.25" fill="none" stroke="#E41A1C" stroke-opacity="0.7" stroke-width="1.6"/>
<circle cx="751.7" cy="334.0" r="6.05" fill="#E41A1C" fill-opacity="0.7"/><circle cx="751.7" cy="334.0" r="5.25" fill="none" stroke="#E41A1C" stroke-opacity="0.7" stroke-width="1.6"/>
<circle cx="761.7" cy="336.7" r="6.05" fill="#377EB8" fill-opacity="0.7"/><circle cx="761.7" cy="336.7" r="5.25" fill="none" stroke="#377EB8" stroke-opacity="0.7" stroke-width="1.6"/>
<circle cx="701.1" cy="341.4" r="6.05" fill="#E41A1C" fill-opacity="0.7"/><circle cx="701.1" cy="341.4" r="5.25" fill="none" stroke="#E41A1C" stroke-opacity="0.7" stroke-width="1.6"/>
<circle cx="706.7" cy="341.4" r="6.05" fill="#377EB8" fill-opacity="0.7"/><circle cx="706.7" cy="341.4" r="5.25" fill="none" stroke="#377EB8" stroke-opacity="0.7" stroke-width="1.6"/>
<circle cx="715.6" cy="341.4" r="6.05" fill="#377EB8" fill-opacity="0.7"/><circle cx="715.6" cy="341.4" r="5.25" fill="none" stroke="#377EB8" stroke-opacity="0.7" stroke-width="1.6"/>
<circle cx="713.4" cy="341.4" r="6.05" fill="#E41A1C" fill-opacity="0.7"/><circle cx="713.4" cy="341.4" r="5.25" fill="none" stroke="#E41A1C" stroke-opacity="0.7" stroke-width="1.6"/>
<circle cx="727.3" cy="341.4" r="6.05" fill="#E41A1C" fill-opacity="0.7"/><circle cx="727.3" cy="341.4" r="5.25" fill="none" stroke="#E41A1C" stroke-opacity="0.7" stroke-width="1.6"/>
<circle cx="730.1" cy="341.4" r="6.05" fill="#377EB8" fill-opacity="0.7"/><circle cx="730.1" cy="341.4" r="5.25" fill="none" stroke="#377EB8" stroke-opacity="0.7" stroke-width="1.6"/>
<circle cx="746.7" cy="341.4" r="6.05" fill="#377EB8" fill-opacity="0.7"/><circle cx="746.7" cy="341.4" r="5.25" fill="none" stroke="#377EB8" stroke-opacity="0.7" stroke-width="1.6"/>
<circle cx="752.3" cy="341.4" r="6.05" fill="#377EB8" fill-opacity="0.7"/><circle cx="752.3" cy="341.4" r="5.25" fill="none" stroke="#377EB8" stroke-opacity="0.7" stroke-width="1.6"/>
<circle cx="756.7" cy="341.4" r="6.05" fill="#E41A1C" fill-opacity="0.7"/><circle cx="756.7" cy="341.4" r="5.25" fill="none" stroke="#E41A1C" stroke-opacity="0.7" stroke-width="1.6"/>
<circle cx="761.2" cy="341.4" r="6.05" fill="#377EB8" fill-opacity="0.7"/><circle cx="761.2" cy="341.4" r="5.25" fill="none" stroke="#377EB8" stroke-opacity="0.7" stroke-width="1.6"/>
<circle cx="764.5" cy="341.4" r="6.05" fill="#E41A1C" fill-opacity="0.7"/><circle cx="764.5" cy="341.4" r="5.25" fill="none" stroke="#E41A1C" stroke-opacity="0.7" stroke-width="1.6"/>
<circle cx="878.2" cy="71.8" r="6.05" fill="#E41A1C" fill-opacity="0.7"/><circle cx="878.2" cy="71.8" r="5.25" fill="none" stroke="#E41A1C" stroke-opacity="0.7" stroke-width="1.6"/>
<circle cx="883.7" cy="71.8" r="6.05" fill="#E41A1C" fill-opacity="0.7"/><circle cx="883.7" cy="71.8" r="5.25" fill="none" stroke="#E41A1C" stroke-opacity="0.7" stroke-width="1.6"/>
<circle cx="887.4" cy="71.8" r="6.05" fill="#E41A1C" fill-opacity="0.7"/><circle cx="887.4" cy="71.8" r="5.25" fill="none" stroke="#E41A1C" stroke-opacity="0.7" stroke-width="1.6"/>
<circle cx="890.4" cy="71.8" r="6.05" fill="#E41A1C" fill-opacity="0.7"/><circle cx="890.4" cy="71.8" r="5.25" fill="none" stroke="#E41A1C" stroke-opacity="0.7" stroke-width="1.6"/>
<circle cx="893.5" cy="71.8" r="6.05" fill="#E41A1C" fill-opacity="0.7"/><circle cx="893.5" cy="71.8" r="5.25" fill="none" stroke="#E41A1C" stroke-opacity="0.7" stroke-width="1.6"/>
<circle cx="895.9" cy="71.8" r="6.05" fill="#E41A1C" fill-opacity="0.7"/><circle cx="895.9" cy="71.8" r="5.25" fill="none" stroke="#E41A1C" stroke-opacity="0.7" stroke-width="1.6"/>
<circle cx="905.7" cy="71.8" r="6.05" fill="#E41A1C" fill-opacity="0.7"/><circle cx="905.7" cy="71.8" r="5.25" fill="none" stroke="#E41A1C" stroke-opacity="0.7" stroke-width="1.6"/>
<circle cx="909.3" cy="71.8" r="6.05" fill="#E41A1C" fill-opacity="0.7"/><circle cx="909.3" cy="71.8" r="5.25" fill="none" stroke="#E41A1C" stroke-opacity="0.7" stroke-width="1.6"/>
<circle cx="913.0" cy="71.8" r="6.05" fill="#E41A1C" fill-opacity="0.7"/><circle cx="913.0" cy="71.8" r="5.25" fill="none" stroke="#E41A1C" stroke-opacity="0.7" stroke-width="1.6"/>
<circle cx="916.7" cy="71.8" r="6.05" fill="#E41A1C" fill-opacity="0.7"/><circle cx="916.7" cy="71.8" r="5.25" fill="none" stroke="#E41A1C" stroke-opacity="0.7" stroke-width="1.6"/>
<circle cx="920.3" cy="71.8" r="6.05" fill="#E41A1C" fill-opacity="0.7"/><circle cx="920.3" cy="71.8" r="5.25" fill="none" stroke="#E41A1C" stroke-opacity="0.7" stroke-width="1.6"/>
<circle cx="927.6" cy="71.8" r="6.05" fill="#E41A1C" fill-opacity="0.7"/><circle cx="927.6" cy="71.8" r="5.25" fill="none" stroke="#E41A1C" stroke-opacity="0.7" stroke-width="1.6"/>
<circle cx="879.7" cy="92.1" r="6.05" fill="#E41A1C" fill-opacity="0.7"/><circle cx="879.7" cy="92.1" r="5.25" fill="none" stroke="#E41A1C" stroke-opacity="0.7" stroke-width="1.6"/>
<circle cx="919.7" cy="100.0" r="6.05" fill="#E41A1C" fill-opacity="0.7"/><circle cx="919.7" cy="100.0" r="5.25" fill="none" stroke="#E41A1C" stroke-opacity="0.7" stroke-width="1.6"/>
<circle cx="906.9" cy="107.6" r="6.05" fill="#E41A1C" fill-opacity="0.7"/><circle cx="906.9" cy="107.6" r="5.25" fill="none" stroke="#E41A1C" stroke-opacity="0.7" stroke-width="1.6"/>
<circle cx="898.1" cy="114.3" r="6.05" fill="#E41A1C" fill-opacity="0.7"/><circle cx="898.1" cy="114.3" r="5.25" fill="none" stroke="#E41A1C" stroke-opacity="0.7" stroke-width="1.6"/>
<circle cx="913.0" cy="122.0" r="6.05" fill="#E41A1C" fill-opacity="0.7"/><circle cx="913.0" cy="122.0" r="5.25" fill="none" stroke="#E41A1C" stroke-opacity="0.7" stroke-width="1.6"/>
<circle cx="874.5" cy="130.5" r="6.05" fill="#E41A1C" fill-opacity="0.7"/><circle cx="874.5" cy="130.5" r="5.25" fill="none" stroke="#E41A1C" stroke-opacity="0.7" stroke-width="1.6"/>
<circle cx="877.0" cy="135.7" r="6.05" fill="#E41A1C" fill-opacity="0.7"/><circle cx="877.0" cy="135.7" r="5.25" fill="none" stroke="#E41A1C" stroke-opacity="0.7" stroke-width="1.6"/>
<circle cx="883.1" cy="138.1" r="6.05" fill="#E41A1C" fill-opacity="0.7"/><circle cx="883.1" cy="138.1" r="5.25" fill="none" stroke="#E41A1C" stroke-opacity="0.7" stroke-width="1.6"/>
<circle cx="885.9" cy="146.4" r="6.05" fill="#E41A1C" fill-opacity="0.7"/><circle cx="885.9" cy="146.4" r="5.25" fill="none" stroke="#E41A1C" stroke-opacity="0.7" stroke-width="1.6"/>
<circle cx="933.7" cy="136.6" r="6.05" fill="#E41A1C" fill-opacity="0.7"/><circle cx="933.7" cy="136.6" r="5.25" fill="none" stroke="#E41A1C" stroke-opacity="0.7" stroke-width="1.6"/>
<circle cx="910.3" cy="158.3" r="6.05" fill="#E41A1C" fill-opacity="0.7"/><circle cx="910.3" cy="158.3" r="5.25" fill="none" stroke="#E41A1C" stroke-opacity="0.7" stroke-width="1.6"/>
<circle cx="924.2" cy="163.5" r="6.05" fill="#E41A1C" fill-opacity="0.7"/><circle cx="924.2" cy="163.5" r="5.25" fill="none" stroke="#E41A1C" stroke-opacity="0.7" stroke-width="1.6"/>
<circle cx="900.4" cy="169.2" r="6.05" fill="#E41A1C" fill-opacity="0.7"/><circle cx="900.4" cy="169.2" r="5.25" fill="none" stroke="#E41A1C" stroke-opacity="0.7" stroke-width="1.6"/>
<circle cx="916.7" cy="176.3" r="6.05" fill="#E41A1C" fill-opacity="0.7"/><circle cx="916.7" cy="176.3" r="5.25" fill="none" stroke="#E41A1C" stroke-opacity="0.7" stroke-width="1.6"/>
<circle cx="935.4" cy="198.0" r="6.05" fill="#E41A1C" fill-opacity="0.7"/><circle cx="935.4" cy="198.0" r="5.25" fill="none" stroke="#E41A1C" stroke-opacity="0.7" stroke-width="1.6"/>
<circle cx="889.7" cy="201.7" r="6.05" fill="#E41A1C" fill-opacity="0.7"/><circle cx="889.7" cy="201.7" r="5.25" fill="none" stroke="#E41A1C" stroke-opacity="0.7" stroke-width="1.6"/>
<circle cx="901.7" cy="207.8" r="6.05" fill="#E41A1C" fill-opacity="0.7"/><circle cx="901.7" cy="207.8" r="5.25" fill="none" stroke="#E41A1C" stroke-opacity="0.7" stroke-width="1.6"/>
<circle cx="891.7" cy="214.2" r="6.05" fill="#E41A1C" fill-opacity="0.7"/><circle cx="891.7" cy="214.2" r="5.25" fill="none" stroke="#E41A1C" stroke-opacity="0.7" stroke-width="1.6"/>
<circle cx="918.2" cy="216.5" r="6.05" fill="#E41A1C" fill-opacity="0.7"/><circle cx="918.2" cy="216.5" r="5.25" fill="none" stroke="#E41A1C" stroke-opacity="0.7" stroke-width="1.6"/>
<circle cx="923.2" cy="229.2" r="6.05" fill="#E41A1C" fill-opacity="0.7"/><circle cx="923.2" cy="229.2" r="5.25" fill="none" stroke="#E41A1C" stroke-opacity="0.7" stroke-width="1.6"/>
<circle cx="882.5" cy="235.1" r="6.05" fill="#E41A1C" fill-opacity="0.7"/><circle cx="882.5" cy="235.1" r="5.25" fill="none" stroke="#E41A1C" stroke-opacity="0.7" stroke-width="1.6"/>
<circle cx="877.6" cy="236.7" r="6.05" fill="#E41A1C" fill-opacity="0.7"/><circle cx="877.6" cy="236.7" r="5.25" fill="none" stroke="#E41A1C" stroke-opacity="0.7" stroke-width="1.6"/>
<circle cx="896.7" cy="240.8" r="6.05" fill="#E41A1C" fill-opacity="0.7"/><circle cx="896.7" cy="240.8" r="5.25" fill="none" stroke="#E41A1C" stroke-opacity="0.7" stroke-width="1.6"/>
<circle cx="923.2" cy="244.7" r="6.05" fill="#E41A1C" fill-opacity="0.7"/><circle cx="923.2" cy="244.7" r="5.25" fill="none" stroke="#E41A1C" stroke-opacity="0.7" stroke-width="1.6"/>
<circle cx="932.1" cy="259.8" r="6.05" fill="#E41A1C" fill-opacity="0.7"/><circle cx="932.1" cy="259.8" r="5.25" fill="none" stroke="#E41A1C" stroke-opacity="0.7" stroke-width="1.6"/>
<circle cx="880.0" cy="266.9" r="6.05" fill="#E41A1C" fill-opacity="0.7"/><circle cx="880.0" cy="266.9" r="5.25" fill="none" stroke="#E41A1C" stroke-opacity="0.7" stroke-width="1.6"/>
<circle cx="884.2" cy="275.9" r="6.05" fill="#E41A1C" fill-opacity="0.7"/><circle cx="884.2" cy="275.9" r="5.25" fill="none" stroke="#E41A1C" stroke-opacity="0.7" stroke-width="1.6"/>
<circle cx="895.0" cy="278.9" r="6.05" fill="#E41A1C" fill-opacity="0.7"/><circle cx="895.0" cy="278.9" r="5.25" fill="none" stroke="#E41A1C" stroke-opacity="0.7" stroke-width="1.6"/>
<circle cx="893.0" cy="283.9" r="6.05" fill="#E41A1C" fill-opacity="0.7"/><circle cx="893.0" cy="283.9" r="5.25" fill="none" stroke="#E41A1C" stroke-opacity="0.7" stroke-width="1.6"/>
<circle cx="906.7" cy="279.1" r="6.05" fill="#E41A1C" fill-opacity="0.7"/><circle cx="906.7" cy="279.1" r="5.25" fill="none" stroke="#E41A1C" stroke-opacity="0.7" stroke-width="1.6"/>
<circle cx="909.8" cy="287.2" r="6.05" fill="#E41A1C" fill-opacity="0.7"/><circle cx="909.8" cy="287.2" r="5.25" fill="none" stroke="#E41A1C" stroke-opacity="0.7" stroke-width="1.6"/>
<circle cx="930.6" cy="289.1" r="6.05" fill="#E41A1C" fill-opacity="0.7"/><circle cx="930.6" cy="289.1" r="5.25" fill="none" stroke="#E41A1C" stroke-opacity="0.7" stroke-width="1.6"/>
<circle cx="879.7" cy="305.6" r="6.05" fill="#E41A1C" fill-opacity="0.7"/><circle cx="879.7" cy="305.6" r="5.25" fill="none" stroke="#E41A1C" stroke-opacity="0.7" stroke-width="1.6"/>
<circle cx="937.1" cy="306.7" r="6.05" fill="#E41A1C" fill-opacity="0.7"/><circle cx="937.1" cy="306.7" r="5.25" fill="none" stroke="#E41A1C" stroke-opacity="0.7" stroke-width="1.6"/>
<circle cx="898.6" cy="315.3" r="6.05" fill="#E41A1C" fill-opacity="0.7"/><circle cx="898.6" cy="315.3" r="5.25" fill="none" stroke="#E41A1C" stroke-opacity="0.7" stroke-width="1.6"/>
<circle cx="893.7" cy="327.5" r="6.05" fill="#E41A1C" fill-opacity="0.7"/><circle cx="893.7" cy="327.5" r="5.25" fill="none" stroke="#E41A1C" stroke-opacity="0.7" stroke-width="1.6"/>
<circle cx="883.9" cy="335.6" r="6.05" fill="#E41A1C" fill-opacity="0.7"/><circle cx="883.9" cy="335.6" r="5.25" fill="none" stroke="#E41A1C" stroke-opacity="0.7" stroke-width="1.6"/>
<circle cx="872.0" cy="341.4" r="6.05" fill="#E41A1C" fill-opacity="0.7"/><circle cx="872.0" cy="341.4" r="5.25" fill="none" stroke="#E41A1C" stroke-opacity="0.7" stroke-width="1.6"/>
<circle cx="883.7" cy="341.7" r="6.05" fill="#E41A1C" fill-opacity="0.7"/><circle cx="883.7" cy="341.7" r="5.25" fill="none" stroke="#E41A1C" stroke-opacity="0.7" stroke-width="1.6"/>
<circle cx="895.6" cy="341.4" r="6.05" fill="#E41A1C" fill-opacity="0.7"/><circle cx="895.6" cy="341.4" r="5.25" fill="none" stroke="#E41A1C" stroke-opacity="0.7" stroke-width="1.6"/>
<circle cx="897.8" cy="341.4" r="6.05" fill="#E41A1C" fill-opacity="0.7"/><circle cx="897.8" cy="341.4" r="5.25" fill="none" stroke="#E41A1C" stroke-opacity="0.7" stroke-width="1.6"/>
<circle cx="900.1" cy="341.4" r="6.05" fill="#E41A1C" fill-opacity="0.7"/><circle cx="900.1" cy="341.4" r="5.25" fill="none" stroke="#E41A1C" stroke-opacity="0.7" stroke-width="1.6"/>
<circle cx="902.3" cy="341.4" r="6.05" fill="#E41A1C" fill-opacity="0.7"/><circle cx="902.3" cy="341.4" r="5.25" fill="none" stroke="#E41A1C" stroke-opacity="0.7" stroke-width="1.6"/>
<circle cx="896.7" cy="341.7" r="6.05" fill="#E41A1C" fill-opacity="0.7"/><circle cx="896.7" cy="341.7" r="5.25" fill="none" stroke="#E41A1C" stroke-opacity="0.7" stroke-width="1.6"/>
<circle cx="901.2" cy="341.7" r="6.05" fill="#E41A1C" fill-opacity="0.7"/><circle cx="901.2" cy="341.7" r="5.25" fill="none" stroke="#E41A1C" stroke-opacity="0.7" stroke-width="1.6"/>
<circle cx="910.1" cy="341.4" r="6.05" fill="#E41A1C" fill-opacity="0.7"/><circle cx="910.1" cy="341.4" r="5.25" fill="none" stroke="#E41A1C" stroke-opacity="0.7" stroke-width="1.6"/>
<circle cx="914.0" cy="341.2" r="6.05" fill="#E41A1C" fill-opacity="0.7"/><circle cx="914.0" cy="341.2" r="5.25" fill="none" stroke="#E41A1C" stroke-opacity="0.7" stroke-width="1.6"/>
<circle cx="926.7" cy="341.4" r="6.05" fill="#E41A1C" fill-opacity="0.7"/><circle cx="926.7" cy="341.4" r="5.25" fill="none" stroke="#E41A1C" stroke-opacity="0.7" stroke-width="1.6"/>
<circle cx="927.9" cy="341.7" r="6.05" fill="#E41A1C" fill-opacity="0.7"/><circle cx="927.9" cy="341.7" r="5.25" fill="none" stroke="#E41A1C" stroke-opacity="0.7" stroke-width="1.6"/>
<circle cx="1074.6" cy="71.7" r="6.05" fill="#377EB8" fill-opacity="0.7"/><circle cx="1074.6" cy="71.7" r="5.25" fill="none" stroke="#377EB8" stroke-opacity="0.7" stroke-width="1.6"/>
<circle cx="1076.5" cy="71.7" r="6.05" fill="#377EB8" fill-opacity="0.7"/><circle cx="1076.5" cy="71.7" r="5.25" fill="none" stroke="#377EB8" stroke-opacity="0.7" stroke-width="1.6"/>
<circle cx="1084.7" cy="71.7" r="6.05" fill="#377EB8" fill-opacity="0.7"/><circle cx="1084.7" cy="71.7" r="5.25" fill="none" stroke="#377EB8" stroke-opacity="0.7" stroke-width="1.6"/>
<circle cx="1087.0" cy="91.4" r="6.05" fill="#377EB8" fill-opacity="0.7"/><circle cx="1087.0" cy="91.4" r="5.25" fill="none" stroke="#377EB8" stroke-opacity="0.7" stroke-width="1.6"/>
<circle cx="1091.2" cy="123.3" r="6.05" fill="#377EB8" fill-opacity="0.7"/><circle cx="1091.2" cy="123.3" r="5.25" fill="none" stroke="#377EB8" stroke-opacity="0.7" stroke-width="1.6"/>
<circle cx="1078.8" cy="153.0" r="6.05" fill="#377EB8" fill-opacity="0.7"/><circle cx="1078.8" cy="153.0" r="5.25" fill="none" stroke="#377EB8" stroke-opacity="0.7" stroke-width="1.6"/>
<circle cx="1091.7" cy="164.9" r="6.05" fill="#377EB8" fill-opacity="0.7"/><circle cx="1091.7" cy="164.9" r="5.25" fill="none" stroke="#377EB8" stroke-opacity="0.7" stroke-width="1.6"/>
<circle cx="1047.0" cy="198.5" r="6.05" fill="#377EB8" fill-opacity="0.7"/><circle cx="1047.0" cy="198.5" r="5.25" fill="none" stroke="#377EB8" stroke-opacity="0.7" stroke-width="1.6"/>
<circle cx="1107.8" cy="221.4" r="6.05" fill="#377EB8" fill-opacity="0.7"/><circle cx="1107.8" cy="221.4" r="5.25" fill="none" stroke="#377EB8" stroke-opacity="0.7" stroke-width="1.6"/>
<circle cx="1109.2" cy="231.2" r="6.05" fill="#377EB8" fill-opacity="0.7"/><circle cx="1109.2" cy="231.2" r="5.25" fill="none" stroke="#377EB8" stroke-opacity="0.7" stroke-width="1.6"/>
<circle cx="1061.6" cy="252.1" r="6.05" fill="#377EB8" fill-opacity="0.7"/><circle cx="1061.6" cy="252.1" r="5.25" fill="none" stroke="#377EB8" stroke-opacity="0.7" stroke-width="1.6"/>
<circle cx="1049.3" cy="272.5" r="6.05" fill="#377EB8" fill-opacity="0.7"/><circle cx="1049.3" cy="272.5" r="5.25" fill="none" stroke="#377EB8" stroke-opacity="0.7" stroke-width="1.6"/>
<circle cx="1045.8" cy="282.3" r="6.05" fill="#377EB8" fill-opacity="0.7"/><circle cx="1045.8" cy="282.3" r="5.25" fill="none" stroke="#377EB8" stroke-opacity="0.7" stroke-width="1.6"/>
<circle cx="1043.5" cy="288.2" r="6.05" fill="#377EB8" fill-opacity="0.7"/><circle cx="1043.5" cy="288.2" r="5.25" fill="none" stroke="#377EB8" stroke-opacity="0.7" stroke-width="1.6"/>
<circle cx="1058.2" cy="293.8" r="6.05" fill="#377EB8" fill-opacity="0.7"/><circle cx="1058.2" cy="293.8" r="5.25" fill="none" stroke="#377EB8" stroke-opacity="0.7" stroke-width="1.6"/>
<circle cx="1071.0" cy="294.4" r="6.05" fill="#377EB8" fill-opacity="0.7"/><circle cx="1071.0" cy="294.4" r="5.25" fill="none" stroke="#377EB8" stroke-opacity="0.7" stroke-width="1.6"/>
<circle cx="1101.5" cy="286.7" r="6.05" fill="#377EB8" fill-opacity="0.7"/><circle cx="1101.5" cy="286.7" r="5.25" fill="none" stroke="#377EB8" stroke-opacity="0.7" stroke-width="1.6"/>
<circle cx="1094.1" cy="300.6" r="6.05" fill="#377EB8" fill-opacity="0.7"/><circle cx="1094.1" cy="300.6" r="5.25" fill="none" stroke="#377EB8" stroke-opacity="0.7" stroke-width="1.6"/>
<circle cx="1097.3" cy="305.0" r="6.05" fill="#377EB8" fill-opacity="0.7"/><circle cx="1097.3" cy="305.0" r="5.25" fill="none" stroke="#377EB8" stroke-opacity="0.7" stroke-width="1.6"/>
<circle cx="1099.1" cy="313.9" r="6.05" fill="#377EB8" fill-opacity="0.7"/><circle cx="1099.1" cy="313.9" r="5.25" fill="none" stroke="#377EB8" stroke-opacity="0.7" stroke-width="1.6"/>
<circle cx="1082.5" cy="324.0" r="6.05" fill="#377EB8" fill-opacity="0.7"/><circle cx="1082.5" cy="324.0" r="5.25" fill="none" stroke="#377EB8" stroke-opacity="0.7" stroke-width="1.6"/>
<circle cx="1079.5" cy="327.0" r="6.05" fill="#377EB8" fill-opacity="0.7"/><circle cx="1079.5" cy="327.0" r="5.25" fill="none" stroke="#377EB8" stroke-opacity="0.7" stroke-width="1.6"/>
<circle cx="1042.6" cy="340.9" r="6.05" fill="#377EB8" fill-opacity="0.7"/><circle cx="1042.6" cy="340.9" r="5.25" fill="none" stroke="#377EB8" stroke-opacity="0.7" stroke-width="1.6"/>
<circle cx="1052.4" cy="341.8" r="6.05" fill="#377EB8" fill-opacity="0.7"/><circle cx="1052.4" cy="341.8" r="5.25" fill="none" stroke="#377EB8" stroke-opacity="0.7" stroke-width="1.6"/>
<circle cx="1057.7" cy="340.5" r="6.05" fill="#377EB8" fill-opacity="0.7"/><circle cx="1057.7" cy="340.5" r="5.25" fill="none" stroke="#377EB8" stroke-opacity="0.7" stroke-width="1.6"/>
<circle cx="1061.2" cy="341.4" r="6.05" fill="#377EB8" fill-opacity="0.7"/><circle cx="1061.2" cy="341.4" r="5.25" fill="none" stroke="#377EB8" stroke-opacity="0.7" stroke-width="1.6"/>
<circle cx="1067.8" cy="338.2" r="6.05" fill="#377EB8" fill-opacity="0.7"/><circle cx="1067.8" cy="338.2" r="5.25" fill="none" stroke="#377EB8" stroke-opacity="0.7" stroke-width="1.6"/>
<circle cx="1084.3" cy="341.4" r="6.05" fill="#377EB8" fill-opacity="0.7"/><circle cx="1084.3" cy="341.4" r="5.25" fill="none" stroke="#377EB8" stroke-opacity="0.7" stroke-width="1.6"/>
<circle cx="1098.0" cy="340.0" r="6.05" fill="#377EB8" fill-opacity="0.7"/><circle cx="1098.0" cy="340.0" r="5.25" fill="none" stroke="#377EB8" stroke-opacity="0.7" stroke-width="1.6"/>
<circle cx="1105.6" cy="339.6" r="6.05" fill="#377EB8" fill-opacity="0.7"/><circle cx="1105.6" cy="339.6" r="5.25" fill="none" stroke="#377EB8" stroke-opacity="0.7" stroke-width="1.6"/>
<circle cx="197.7" cy="736.9" r="6.05" fill="#377EB8" fill-opacity="0.7"/><circle cx="197.7" cy="736.9" r="5.25" fill="none" stroke="#377EB8" stroke-opacity="0.7" stroke-width="1.6"/>
<circle cx="200.3" cy="750.4" r="6.05" fill="#377EB8" fill-opacity="0.7"/><circle cx="200.3" cy="750.4" r="5.25" fill="none" stroke="#377EB8" stroke-opacity="0.7" stroke-width="1.6"/>
<circle cx="250.9" cy="738.0" r="6.05" fill="#377EB8" fill-opacity="0.7"/><circle cx="250.9" cy="738.0" r="5.25" fill="none" stroke="#377EB8" stroke-opacity="0.7" stroke-width="1.6"/>
<circle cx="232.5" cy="760.8" r="6.05" fill="#377EB8" fill-opacity="0.7"/><circle cx="232.5" cy="760.8" r="5.25" fill="none" stroke="#377EB8" stroke-opacity="0.7" stroke-width="1.6"/>
<circle cx="236.1" cy="764.4" r="6.05" fill="#377EB8" fill-opacity="0.7"/><circle cx="236.1" cy="764.4" r="5.25" fill="none" stroke="#377EB8" stroke-opacity="0.7" stroke-width="1.6"/>
<circle cx="246.7" cy="766.3" r="6.05" fill="#377EB8" fill-opacity="0.7"/><circle cx="246.7" cy="766.3" r="5.25" fill="none" stroke="#377EB8" stroke-opacity="0.7" stroke-width="1.6"/>
<circle cx="208.6" cy="763.9" r="6.05" fill="#377EB8" fill-opacity="0.7"/><circle cx="208.6" cy="763.9" r="5.25" fill="none" stroke="#377EB8" stroke-opacity="0.7" stroke-width="1.6"/>
<circle cx="207.6" cy="765.5" r="6.05" fill="#377EB8" fill-opacity="0.7"/><circle cx="207.6" cy="765.5" r="5.25" fill="none" stroke="#377EB8" stroke-opacity="0.7" stroke-width="1.6"/>
<circle cx="195.7" cy="769.1" r="6.05" fill="#377EB8" fill-opacity="0.7"/><circle cx="195.7" cy="769.1" r="5.25" fill="none" stroke="#377EB8" stroke-opacity="0.7" stroke-width="1.6"/>
<circle cx="188.9" cy="774.8" r="6.05" fill="#377EB8" fill-opacity="0.7"/><circle cx="188.9" cy="774.8" r="5.25" fill="none" stroke="#377EB8" stroke-opacity="0.7" stroke-width="1.6"/>
<circle cx="232.0" cy="773.8" r="6.05" fill="#377EB8" fill-opacity="0.7"/><circle cx="232.0" cy="773.8" r="5.25" fill="none" stroke="#377EB8" stroke-opacity="0.7" stroke-width="1.6"/>
<circle cx="237.2" cy="779.0" r="6.05" fill="#377EB8" fill-opacity="0.7"/><circle cx="237.2" cy="779.0" r="5.25" fill="none" stroke="#377EB8" stroke-opacity="0.7" stroke-width="1.6"/>
<circle cx="252.2" cy="780.0" r="6.05" fill="#377EB8" fill-opacity="0.7"/><circle cx="252.2" cy="780.0" r="5.25" fill="none" stroke="#377EB8" stroke-opacity="0.7" stroke-width="1.6"/>
<circle cx="254.8" cy="780.5" r="6.05" fill="#377EB8" fill-opacity="0.7"/><circle cx="254.8" cy="780.5" r="5.25" fill="none" stroke="#377EB8" stroke-opacity="0.7" stroke-width="1.6"/>
<circle cx="199.8" cy="778.4" r="6.05" fill="#377EB8" fill-opacity="0.7"/><circle cx="199.8" cy="778.4" r="5.25" fill="none" stroke="#377EB8" stroke-opacity="0.7" stroke-width="1.6"/>
<circle cx="189.4" cy="801.8" r="6.05" fill="#377EB8" fill-opacity="0.7"/><circle cx="189.4" cy="801.8" r="5.25" fill="none" stroke="#377EB8" stroke-opacity="0.7" stroke-width="1.6"/>
<circle cx="252.7" cy="801.8" r="6.05" fill="#377EB8" fill-opacity="0.7"/><circle cx="252.7" cy="801.8" r="5.25" fill="none" stroke="#377EB8" stroke-opacity="0.7" stroke-width="1.6"/>
<circle cx="217.5" cy="801.8" r="6.05" fill="#377EB8" fill-opacity="0.7"/><circle cx="217.5" cy="801.8" r="5.25" fill="none" stroke="#377EB8" stroke-opacity="0.7" stroke-width="1.6"/>
<circle cx="208.1" cy="799.7" r="6.05" fill="#377EB8" fill-opacity="0.7"/><circle cx="208.1" cy="799.7" r="5.25" fill="none" stroke="#377EB8" stroke-opacity="0.7" stroke-width="1.6"/>
<circle cx="357.6" cy="533.3" r="6.05" fill="#E41A1C" fill-opacity="0.7"/><circle cx="357.6" cy="533.3" r="5.25" fill="none" stroke="#E41A1C" stroke-opacity="0.7" stroke-width="1.6"/>
<circle cx="363.3" cy="533.3" r="6.05" fill="#E41A1C" fill-opacity="0.7"/><circle cx="363.3" cy="533.3" r="5.25" fill="none" stroke="#E41A1C" stroke-opacity="0.7" stroke-width="1.6"/>
<circle cx="365.9" cy="533.3" r="6.05" fill="#E41A1C" fill-opacity="0.7"/><circle cx="365.9" cy="533.3" r="5.25" fill="none" stroke="#E41A1C" stroke-opacity="0.7" stroke-width="1.6"/>
<circle cx="368.6" cy="533.3" r="6.05" fill="#E41A1C" fill-opacity="0.7"/><circle cx="368.6" cy="533.3" r="5.25" fill="none" stroke="#E41A1C" stroke-opacity="0.7" stroke-width="1.6"/>
<circle cx="372.2" cy="533.3" r="6.05" fill="#377EB8" fill-opacity="0.7"/><circle cx="372.2" cy="533.3" r="5.25" fill="none" stroke="#377EB8" stroke-opacity="0.7" stroke-width="1.6"/>
<circle cx="377.5" cy="533.3" r="6.05" fill="#E41A1C" fill-opacity="0.7"/><circle cx="377.5" cy="533.3" r="5.25" fill="none" stroke="#E41A1C" stroke-opacity="0.7" stroke-width="1.6"/>
<circle cx="382.8" cy="533.3" r="6.05" fill="#E41A1C" fill-opacity="0.7"/><circle cx="382.8" cy="533.3" r="5.25" fill="none" stroke="#E41A1C" stroke-opacity="0.7" stroke-width="1.6"/>
<circle cx="386.4" cy="533.3" r="6.05" fill="#E41A1C" fill-opacity="0.7"/><circle cx="386.4" cy="533.3" r="5.25" fill="none" stroke="#E41A1C" stroke-opacity="0.7" stroke-width="1.6"/>
<circle cx="390.3" cy="533.3" r="6.05" fill="#377EB8" fill-opacity="0.7"/><circle cx="390.3" cy="533.3" r="5.25" fill="none" stroke="#377EB8" stroke-opacity="0.7" stroke-width="1.6"/>
<circle cx="395.2" cy="533.3" r="6.05" fill="#E41A1C" fill-opacity="0.7"/><circle cx="395.2" cy="533.3" r="5.25" fill="none" stroke="#E41A1C" stroke-opacity="0.7" stroke-width="1.6"/>
<circle cx="398.8" cy="533.3" r="6.05" fill="#E41A1C" fill-opacity="0.7"/><circle cx="398.8" cy="533.3" r="5.25" fill="none" stroke="#E41A1C" stroke-opacity="0.7" stroke-width="1.6"/>
<circle cx="408.6" cy="533.3" r="6.05" fill="#E41A1C" fill-opacity="0.7"/><circle cx="408.6" cy="533.3" r="5.25" fill="none" stroke="#E41A1C" stroke-opacity="0.7" stroke-width="1.6"/>
<circle cx="412.1" cy="533.3" r="6.05" fill="#E41A1C" fill-opacity="0.7"/><circle cx="412.1" cy="533.3" r="5.25" fill="none" stroke="#E41A1C" stroke-opacity="0.7" stroke-width="1.6"/>
<circle cx="414.8" cy="533.3" r="6.05" fill="#E41A1C" fill-opacity="0.7"/><circle cx="414.8" cy="533.3" r="5.25" fill="none" stroke="#E41A1C" stroke-opacity="0.7" stroke-width="1.6"/>
<circle cx="418.3" cy="533.3" r="6.05" fill="#E41A1C" fill-opacity="0.7"/><circle cx="418.3" cy="533.3" r="5.25" fill="none" stroke="#E41A1C" stroke-opacity="0.7" stroke-width="1.6"/>
<circle cx="422.2" cy="533.3" r="6.05" fill="#E41A1C" fill-opacity="0.7"/><circle cx="422.2" cy="533.3" r="5.25" fill="none" stroke="#E41A1C" stroke-opacity="0.7" stroke-width="1.6"/>
<circle cx="403.6" cy="576.8" r="6.05" fill="#E41A1C" fill-opacity="0.7"/><circle cx="403.6" cy="576.8" r="5.25" fill="none" stroke="#E41A1C" stroke-opacity="0.7" stroke-width="1.6"/>
<circle cx="378.7" cy="592.5" r="6.05" fill="#E41A1C" fill-opacity="0.7"/><circle cx="378.7" cy="592.5" r="5.25" fill="none" stroke="#E41A1C" stroke-opacity="0.7" stroke-width="1.6"/>
<circle cx="371.3" cy="644.0" r="6.05" fill="#E41A1C" fill-opacity="0.7"/><circle cx="371.3" cy="644.0" r="5.25" fill="none" stroke="#E41A1C" stroke-opacity="0.7" stroke-width="1.6"/>
<circle cx="390.8" cy="673.6" r="6.05" fill="#E41A1C" fill-opacity="0.7"/><circle cx="390.8" cy="673.6" r="5.25" fill="none" stroke="#E41A1C" stroke-opacity="0.7" stroke-width="1.6"/>
<circle cx="416.5" cy="670.9" r="6.05" fill="#E41A1C" fill-opacity="0.7"/><circle cx="416.5" cy="670.9" r="5.25" fill="none" stroke="#E41A1C" stroke-opacity="0.7" stroke-width="1.6"/>
<circle cx="370.6" cy="676.5" r="6.05" fill="#E41A1C" fill-opacity="0.7"/><circle cx="370.6" cy="676.5" r="5.25" fill="none" stroke="#E41A1C" stroke-opacity="0.7" stroke-width="1.6"/>
<circle cx="381.8" cy="695.6" r="6.05" fill="#E41A1C" fill-opacity="0.7"/><circle cx="381.8" cy="695.6" r="5.25" fill="none" stroke="#E41A1C" stroke-opacity="0.7" stroke-width="1.6"/>
<circle cx="383.8" cy="701.8" r="6.05" fill="#E41A1C" fill-opacity="0.7"/><circle cx="383.8" cy="701.8" r="5.25" fill="none" stroke="#E41A1C" stroke-opacity="0.7" stroke-width="1.6"/>
<circle cx="393.1" cy="711.6" r="6.05" fill="#E41A1C" fill-opacity="0.7"/><circle cx="393.1" cy="711.6" r="5.25" fill="none" stroke="#E41A1C" stroke-opacity="0.7" stroke-width="1.6"/>
<circle cx="369.8" cy="722.8" r="6.05" fill="#E41A1C" fill-opacity="0.7"/><circle cx="369.8" cy="722.8" r="5.25" fill="none" stroke="#E41A1C" stroke-opacity="0.7" stroke-width="1.6"/>
<circle cx="374.5" cy="729.5" r="6.05" fill="#377EB8" fill-opacity="0.7"/><circle cx="374.5" cy="729.5" r="5.25" fill="none" stroke="#377EB8" stroke-opacity="0.7" stroke-width="1.6"/>
<circle cx="410.2" cy="727.8" r="6.05" fill="#377EB8" fill-opacity="0.7"/><circle cx="410.2" cy="727.8" r="5.25" fill="none" stroke="#377EB8" stroke-opacity="0.7" stroke-width="1.6"/>
<circle cx="407.9" cy="736.0" r="6.05" fill="#E41A1C" fill-opacity="0.7"/><circle cx="407.9" cy="736.0" r="5.25" fill="none" stroke="#E41A1C" stroke-opacity="0.7" stroke-width="1.6"/>
<circle cx="413.3" cy="742.7" r="6.05" fill="#377EB8" fill-opacity="0.7"/><circle cx="413.3" cy="742.7" r="5.25" fill="none" stroke="#377EB8" stroke-opacity="0.7" stroke-width="1.6"/>
<circle cx="420.0" cy="751.9" r="6.05" fill="#377EB8" fill-opacity="0.7"/><circle cx="420.0" cy="751.9" r="5.25" fill="none" stroke="#377EB8" stroke-opacity="0.7" stroke-width="1.6"/>
<circle cx="422.2" cy="746.1" r="6.05" fill="#E41A1C" fill-opacity="0.7"/><circle cx="422.2" cy="746.1" r="5.25" fill="none" stroke="#E41A1C" stroke-opacity="0.7" stroke-width="1.6"/>
<circle cx="365.9" cy="753.6" r="6.05" fill="#E41A1C" fill-opacity="0.7"/><circle cx="365.9" cy="753.6" r="5.25" fill="none" stroke="#E41A1C" stroke-opacity="0.7" stroke-width="1.6"/>
<circle cx="377.6" cy="753.9" r="6.05" fill="#E41A1C" fill-opacity="0.7"/><circle cx="377.6" cy="753.9" r="5.25" fill="none" stroke="#E41A1C" stroke-opacity="0.7" stroke-width="1.6"/>
<circle cx="385.7" cy="758.5" r="6.05" fill="#377EB8" fill-opacity="0.7"/><circle cx="385.7" cy="758.5" r="5.25" fill="none" stroke="#377EB8" stroke-opacity="0.7" stroke-width="1.6"/>
<circle cx="397.5" cy="756.5" r="6.05" fill="#377EB8" fill-opacity="0.7"/><circle cx="397.5" cy="756.5" r="5.25" fill="none" stroke="#377EB8" stroke-opacity="0.7" stroke-width="1.6"/>
<circle cx="372.9" cy="766.3" r="6.05" fill="#377EB8" fill-opacity="0.7"/><circle cx="372.9" cy="766.3" r="5.25" fill="none" stroke="#377EB8" stroke-opacity="0.7" stroke-width="1.6"/>
<circle cx="394.7" cy="764.8" r="6.05" fill="#E41A1C" fill-opacity="0.7"/><circle cx="394.7" cy="764.8" r="5.25" fill="none" stroke="#E41A1C" stroke-opacity="0.7" stroke-width="1.6"/>
<circle cx="397.0" cy="769.4" r="6.05" fill="#E41A1C" fill-opacity="0.7"/><circle cx="397.0" cy="769.4" r="5.25" fill="none" stroke="#E41A1C" stroke-opacity="0.7" stroke-width="1.6"/>
<circle cx="381.5" cy="771.0" r="6.05" fill="#E41A1C" fill-opacity="0.7"/><circle cx="381.5" cy="771.0" r="5.25" fill="none" stroke="#E41A1C" stroke-opacity="0.7" stroke-width="1.6"/>
<circle cx="356.6" cy="778.7" r="6.05" fill="#E41A1C" fill-opacity="0.7"/><circle cx="356.6" cy="778.7" r="5.25" fill="none" stroke="#E41A1C" stroke-opacity="0.7" stroke-width="1.6"/>
<circle cx="418.0" cy="767.9" r="6.05" fill="#377EB8" fill-opacity="0.7"/><circle cx="418.0" cy="767.9" r="5.25" fill="none" stroke="#377EB8" stroke-opacity="0.7" stroke-width="1.6"/>
<circle cx="403.2" cy="775.6" r="6.05" fill="#377EB8" fill-opacity="0.7"/><circle cx="403.2" cy="775.6" r="5.25" fill="none" stroke="#377EB8" stroke-opacity="0.7" stroke-width="1.6"/>
<circle cx="418.7" cy="775.6" r="6.05" fill="#377EB8" fill-opacity="0.7"/><circle cx="418.7" cy="775.6" r="5.25" fill="none" stroke="#377EB8" stroke-opacity="0.7" stroke-width="1.6"/>
<circle cx="372.1" cy="773.3" r="6.05" fill="#E41A1C" fill-opacity="0.7"/><circle cx="372.1" cy="773.3" r="5.25" fill="none" stroke="#E41A1C" stroke-opacity="0.7" stroke-width="1.6"/>
<circle cx="389.2" cy="781.1" r="6.05" fill="#377EB8" fill-opacity="0.7"/><circle cx="389.2" cy="781.1" r="5.25" fill="none" stroke="#377EB8" stroke-opacity="0.7" stroke-width="1.6"/>
<circle cx="383.0" cy="778.7" r="6.05" fill="#E41A1C" fill-opacity="0.7"/><circle cx="383.0" cy="778.7" r="5.25" fill="none" stroke="#E41A1C" stroke-opacity="0.7" stroke-width="1.6"/>
<circle cx="393.9" cy="772.5" r="6.05" fill="#E41A1C" fill-opacity="0.7"/><circle cx="393.9" cy="772.5" r="5.25" fill="none" stroke="#E41A1C" stroke-opacity="0.7" stroke-width="1.6"/>
<circle cx="356.6" cy="800.5" r="6.05" fill="#E41A1C" fill-opacity="0.7"/><circle cx="356.6" cy="800.5" r="5.25" fill="none" stroke="#E41A1C" stroke-opacity="0.7" stroke-width="1.6"/>
<circle cx="363.6" cy="800.5" r="6.05" fill="#377EB8" fill-opacity="0.7"/><circle cx="363.6" cy="800.5" r="5.25" fill="none" stroke="#377EB8" stroke-opacity="0.7" stroke-width="1.6"/>
<circle cx="386.1" cy="802.8" r="6.05" fill="#377EB8" fill-opacity="0.7"/><circle cx="386.1" cy="802.8" r="5.25" fill="none" stroke="#377EB8" stroke-opacity="0.7" stroke-width="1.6"/>
<circle cx="409.4" cy="800.5" r="6.05" fill="#377EB8" fill-opacity="0.7"/><circle cx="409.4" cy="800.5" r="5.25" fill="none" stroke="#377EB8" stroke-opacity="0.7" stroke-width="1.6"/>
<circle cx="425.0" cy="788.1" r="6.05" fill="#377EB8" fill-opacity="0.7"/><circle cx="425.0" cy="788.1" r="5.25" fill="none" stroke="#377EB8" stroke-opacity="0.7" stroke-width="1.6"/>
<circle cx="574.2" cy="743.0" r="6.05" fill="#377EB8" fill-opacity="0.7"/><circle cx="574.2" cy="743.0" r="5.25" fill="none" stroke="#377EB8" stroke-opacity="0.7" stroke-width="1.6"/>
<circle cx="595.6" cy="751.7" r="6.05" fill="#377EB8" fill-opacity="0.7"/><circle cx="595.6" cy="751.7" r="5.25" fill="none" stroke="#377EB8" stroke-opacity="0.7" stroke-width="1.6"/>
<circle cx="550.9" cy="758.6" r="6.05" fill="#377EB8" fill-opacity="0.7"/><circle cx="550.9" cy="758.6" r="5.25" fill="none" stroke="#377EB8" stroke-opacity="0.7" stroke-width="1.6"/>
<circle cx="543.9" cy="774.7" r="6.05" fill="#377EB8" fill-opacity="0.7"/><circle cx="543.9" cy="774.7" r="5.25" fill="none" stroke="#377EB8" stroke-opacity="0.7" stroke-width="1.6"/>
<circle cx="527.8" cy="779.2" r="6.05" fill="#377EB8" fill-opacity="0.7"/><circle cx="527.8" cy="779.2" r="5.25" fill="none" stroke="#377EB8" stroke-opacity="0.7" stroke-width="1.6"/>
<circle cx="562.8" cy="773.4" r="6.05" fill="#377EB8" fill-opacity="0.7"/><circle cx="562.8" cy="773.4" r="5.25" fill="none" stroke="#377EB8" stroke-opacity="0.7" stroke-width="1.6"/>
<circle cx="563.4" cy="776.7" r="6.05" fill="#377EB8" fill-opacity="0.7"/><circle cx="563.4" cy="776.7" r="5.25" fill="none" stroke="#377EB8" stroke-opacity="0.7" stroke-width="1.6"/>
<circle cx="570.9" cy="775.6" r="6.05" fill="#377EB8" fill-opacity="0.7"/><circle cx="570.9" cy="775.6" r="5.25" fill="none" stroke="#377EB8" stroke-opacity="0.7" stroke-width="1.6"/>
<circle cx="534.5" cy="785.6" r="6.05" fill="#377EB8" fill-opacity="0.7"/><circle cx="534.5" cy="785.6" r="5.25" fill="none" stroke="#377EB8" stroke-opacity="0.7" stroke-width="1.6"/>
<circle cx="548.9" cy="785.6" r="6.05" fill="#377EB8" fill-opacity="0.7"/><circle cx="548.9" cy="785.6" r="5.25" fill="none" stroke="#377EB8" stroke-opacity="0.7" stroke-width="1.6"/>
<circle cx="594.5" cy="788.9" r="6.05" fill="#377EB8" fill-opacity="0.7"/><circle cx="594.5" cy="788.9" r="5.25" fill="none" stroke="#377EB8" stroke-opacity="0.7" stroke-width="1.6"/>
<circle cx="579.0" cy="787.8" r="6.05" fill="#377EB8" fill-opacity="0.7"/><circle cx="579.0" cy="787.8" r="5.25" fill="none" stroke="#377EB8" stroke-opacity="0.7" stroke-width="1.6"/>
<circle cx="530.0" cy="796.7" r="6.05" fill="#377EB8" fill-opacity="0.7"/><circle cx="530.0" cy="796.7" r="5.25" fill="none" stroke="#377EB8" stroke-opacity="0.7" stroke-width="1.6"/>
<circle cx="546.7" cy="800.1" r="6.05" fill="#377EB8" fill-opacity="0.7"/><circle cx="546.7" cy="800.1" r="5.25" fill="none" stroke="#377EB8" stroke-opacity="0.7" stroke-width="1.6"/>
<circle cx="578.4" cy="802.8" r="6.05" fill="#377EB8" fill-opacity="0.7"/><circle cx="578.4" cy="802.8" r="5.25" fill="none" stroke="#377EB8" stroke-opacity="0.7" stroke-width="1.6"/>
<circle cx="562.3" cy="797.8" r="6.05" fill="#377EB8" fill-opacity="0.7"/><circle cx="562.3" cy="797.8" r="5.25" fill="none" stroke="#377EB8" stroke-opacity="0.7" stroke-width="1.6"/>
<circle cx="570.1" cy="798.9" r="6.05" fill="#377EB8" fill-opacity="0.7"/><circle cx="570.1" cy="798.9" r="5.25" fill="none" stroke="#377EB8" stroke-opacity="0.7" stroke-width="1.6"/>
<circle cx="585.6" cy="796.7" r="6.05" fill="#377EB8" fill-opacity="0.7"/><circle cx="585.6" cy="796.7" r="5.25" fill="none" stroke="#377EB8" stroke-opacity="0.7" stroke-width="1.6"/>
<circle cx="527.8" cy="791.2" r="6.05" fill="#377EB8" fill-opacity="0.7"/><circle cx="527.8" cy="791.2" r="5.25" fill="none" stroke="#377EB8" stroke-opacity="0.7" stroke-width="1.6"/>
<circle cx="532.3" cy="792.3" r="6.05" fill="#377EB8" fill-opacity="0.7"/><circle cx="532.3" cy="792.3" r="5.25" fill="none" stroke="#377EB8" stroke-opacity="0.7" stroke-width="1.6"/>
<circle cx="536.7" cy="791.2" r="6.05" fill="#377EB8" fill-opacity="0.7"/><circle cx="536.7" cy="791.2" r="5.25" fill="none" stroke="#377EB8" stroke-opacity="0.7" stroke-width="1.6"/>
<circle cx="541.1" cy="793.4" r="6.05" fill="#377EB8" fill-opacity="0.7"/><circle cx="541.1" cy="793.4" r="5.25" fill="none" stroke="#377EB8" stroke-opacity="0.7" stroke-width="1.6"/>
<circle cx="545.6" cy="791.2" r="6.05" fill="#377EB8" fill-opacity="0.7"/><circle cx="545.6" cy="791.2" r="5.25" fill="none" stroke="#377EB8" stroke-opacity="0.7" stroke-width="1.6"/>
<circle cx="550.0" cy="792.3" r="6.05" fill="#377EB8" fill-opacity="0.7"/><circle cx="550.0" cy="792.3" r="5.25" fill="none" stroke="#377EB8" stroke-opacity="0.7" stroke-width="1.6"/>
<circle cx="554.5" cy="791.2" r="6.05" fill="#377EB8" fill-opacity="0.7"/><circle cx="554.5" cy="791.2" r="5.25" fill="none" stroke="#377EB8" stroke-opacity="0.7" stroke-width="1.6"/>
<circle cx="558.9" cy="793.4" r="6.05" fill="#377EB8" fill-opacity="0.7"/><circle cx="558.9" cy="793.4" r="5.25" fill="none" stroke="#377EB8" stroke-opacity="0.7" stroke-width="1.6"/>
<circle cx="563.4" cy="791.2" r="6.05" fill="#377EB8" fill-opacity="0.7"/><circle cx="563.4" cy="791.2" r="5.25" fill="none" stroke="#377EB8" stroke-opacity="0.7" stroke-width="1.6"/>
<circle cx="567.8" cy="792.3" r="6.05" fill="#377EB8" fill-opacity="0.7"/><circle cx="567.8" cy="792.3" r="5.25" fill="none" stroke="#377EB8" stroke-opacity="0.7" stroke-width="1.6"/>
<circle cx="572.3" cy="791.2" r="6.05" fill="#377EB8" fill-opacity="0.7"/><circle cx="572.3" cy="791.2" r="5.25" fill="none" stroke="#377EB8" stroke-opacity="0.7" stroke-width="1.6"/>
<circle cx="576.7" cy="793.4" r="6.05" fill="#377EB8" fill-opacity="0.7"/><circle cx="576.7" cy="793.4" r="5.25" fill="none" stroke="#377EB8" stroke-opacity="0.7" stroke-width="1.6"/>
<circle cx="581.2" cy="791.2" r="6.05" fill="#377EB8" fill-opacity="0.7"/><circle cx="581.2" cy="791.2" r="5.25" fill="none" stroke="#377EB8" stroke-opacity="0.7" stroke-width="1.6"/>
<circle cx="534.5" cy="796.7" r="6.05" fill="#377EB8" fill-opacity="0.7"/><circle cx="534.5" cy="796.7" r="5.25" fill="none" stroke="#377EB8" stroke-opacity="0.7" stroke-width="1.6"/>
<circle cx="556.7" cy="796.7" r="6.05" fill="#377EB8" fill-opacity="0.7"/><circle cx="556.7" cy="796.7" r="5.25" fill="none" stroke="#377EB8" stroke-opacity="0.7" stroke-width="1.6"/>
<circle cx="574.5" cy="796.7" r="6.05" fill="#377EB8" fill-opacity="0.7"/><circle cx="574.5" cy="796.7" r="5.25" fill="none" stroke="#377EB8" stroke-opacity="0.7" stroke-width="1.6"/>
<circle cx="543.4" cy="796.7" r="6.05" fill="#377EB8" fill-opacity="0.7"/><circle cx="543.4" cy="796.7" r="5.25" fill="none" stroke="#377EB8" stroke-opacity="0.7" stroke-width="1.6"/>
<circle cx="552.3" cy="795.6" r="6.05" fill="#377EB8" fill-opacity="0.7"/><circle cx="552.3" cy="795.6" r="5.25" fill="none" stroke="#377EB8" stroke-opacity="0.7" stroke-width="1.6"/>
<circle cx="565.6" cy="796.7" r="6.05" fill="#377EB8" fill-opacity="0.7"/><circle cx="565.6" cy="796.7" r="5.25" fill="none" stroke="#377EB8" stroke-opacity="0.7" stroke-width="1.6"/>
<circle cx="583.4" cy="793.4" r="6.05" fill="#377EB8" fill-opacity="0.7"/><circle cx="583.4" cy="793.4" r="5.25" fill="none" stroke="#377EB8" stroke-opacity="0.7" stroke-width="1.6"/>
<circle cx="698.2" cy="533.0" r="6.05" fill="#E41A1C" fill-opacity="0.7"/><circle cx="698.2" cy="533.0" r="5.25" fill="none" stroke="#E41A1C" stroke-opacity="0.7" stroke-width="1.6"/>
<circle cx="702.6" cy="533.0" r="6.05" fill="#E41A1C" fill-opacity="0.7"/><circle cx="702.6" cy="533.0" r="5.25" fill="none" stroke="#E41A1C" stroke-opacity="0.7" stroke-width="1.6"/>
<circle cx="707.0" cy="533.0" r="6.05" fill="#E41A1C" fill-opacity="0.7"/><circle cx="707.0" cy="533.0" r="5.25" fill="none" stroke="#E41A1C" stroke-opacity="0.7" stroke-width="1.6"/>
<circle cx="711.5" cy="533.0" r="6.05" fill="#E41A1C" fill-opacity="0.7"/><circle cx="711.5" cy="533.0" r="5.25" fill="none" stroke="#E41A1C" stroke-opacity="0.7" stroke-width="1.6"/>
<circle cx="716.4" cy="533.0" r="6.05" fill="#377EB8" fill-opacity="0.7"/><circle cx="716.4" cy="533.0" r="5.25" fill="none" stroke="#377EB8" stroke-opacity="0.7" stroke-width="1.6"/>
<circle cx="721.2" cy="533.0" r="6.05" fill="#E41A1C" fill-opacity="0.7"/><circle cx="721.2" cy="533.0" r="5.25" fill="none" stroke="#E41A1C" stroke-opacity="0.7" stroke-width="1.6"/>
<circle cx="725.7" cy="533.0" r="6.05" fill="#E41A1C" fill-opacity="0.7"/><circle cx="725.7" cy="533.0" r="5.25" fill="none" stroke="#E41A1C" stroke-opacity="0.7" stroke-width="1.6"/>
<circle cx="730.1" cy="533.0" r="6.05" fill="#E41A1C" fill-opacity="0.7"/><circle cx="730.1" cy="533.0" r="5.25" fill="none" stroke="#E41A1C" stroke-opacity="0.7" stroke-width="1.6"/>
<circle cx="734.6" cy="533.0" r="6.05" fill="#E41A1C" fill-opacity="0.7"/><circle cx="734.6" cy="533.0" r="5.25" fill="none" stroke="#E41A1C" stroke-opacity="0.7" stroke-width="1.6"/>
<circle cx="739.9" cy="533.0" r="6.05" fill="#E41A1C" fill-opacity="0.7"/><circle cx="739.9" cy="533.0" r="5.25" fill="none" stroke="#E41A1C" stroke-opacity="0.7" stroke-width="1.6"/>
<circle cx="744.3" cy="533.0" r="6.05" fill="#E41A1C" fill-opacity="0.7"/><circle cx="744.3" cy="533.0" r="5.25" fill="none" stroke="#E41A1C" stroke-opacity="0.7" stroke-width="1.6"/>
<circle cx="748.8" cy="533.0" r="6.05" fill="#E41A1C" fill-opacity="0.7"/><circle cx="748.8" cy="533.0" r="5.25" fill="none" stroke="#E41A1C" stroke-opacity="0.7" stroke-width="1.6"/>
<circle cx="753.2" cy="533.0" r="6.05" fill="#E41A1C" fill-opacity="0.7"/><circle cx="753.2" cy="533.0" r="5.25" fill="none" stroke="#E41A1C" stroke-opacity="0.7" stroke-width="1.6"/>
<circle cx="757.6" cy="533.0" r="6.05" fill="#E41A1C" fill-opacity="0.7"/><circle cx="757.6" cy="533.0" r="5.25" fill="none" stroke="#E41A1C" stroke-opacity="0.7" stroke-width="1.6"/>
<circle cx="759.4" cy="533.0" r="6.05" fill="#377EB8" fill-opacity="0.7"/><circle cx="759.4" cy="533.0" r="5.25" fill="none" stroke="#377EB8" stroke-opacity="0.7" stroke-width="1.6"/>
<circle cx="762.1" cy="533.0" r="6.05" fill="#E41A1C" fill-opacity="0.7"/><circle cx="762.1" cy="533.0" r="5.25" fill="none" stroke="#E41A1C" stroke-opacity="0.7" stroke-width="1.6"/>
<circle cx="721.2" cy="576.8" r="6.05" fill="#E41A1C" fill-opacity="0.7"/><circle cx="721.2" cy="576.8" r="5.25" fill="none" stroke="#E41A1C" stroke-opacity="0.7" stroke-width="1.6"/>
<circle cx="715.0" cy="592.4" r="6.05" fill="#E41A1C" fill-opacity="0.7"/><circle cx="715.0" cy="592.4" r="5.25" fill="none" stroke="#E41A1C" stroke-opacity="0.7" stroke-width="1.6"/>
<circle cx="726.0" cy="643.9" r="6.05" fill="#E41A1C" fill-opacity="0.7"/><circle cx="726.0" cy="643.9" r="5.25" fill="none" stroke="#E41A1C" stroke-opacity="0.7" stroke-width="1.6"/>
<circle cx="718.9" cy="670.9" r="6.05" fill="#E41A1C" fill-opacity="0.7"/><circle cx="718.9" cy="670.9" r="5.25" fill="none" stroke="#E41A1C" stroke-opacity="0.7" stroke-width="1.6"/>
<circle cx="715.0" cy="673.6" r="6.05" fill="#E41A1C" fill-opacity="0.7"/><circle cx="715.0" cy="673.6" r="5.25" fill="none" stroke="#E41A1C" stroke-opacity="0.7" stroke-width="1.6"/>
<circle cx="704.6" cy="676.6" r="6.05" fill="#E41A1C" fill-opacity="0.7"/><circle cx="704.6" cy="676.6" r="5.25" fill="none" stroke="#E41A1C" stroke-opacity="0.7" stroke-width="1.6"/>
<circle cx="709.6" cy="696.3" r="6.05" fill="#E41A1C" fill-opacity="0.7"/><circle cx="709.6" cy="696.3" r="5.25" fill="none" stroke="#E41A1C" stroke-opacity="0.7" stroke-width="1.6"/>
<circle cx="710.3" cy="711.6" r="6.05" fill="#E41A1C" fill-opacity="0.7"/><circle cx="710.3" cy="711.6" r="5.25" fill="none" stroke="#E41A1C" stroke-opacity="0.7" stroke-width="1.6"/>
<circle cx="762.9" cy="701.3" r="6.05" fill="#E41A1C" fill-opacity="0.7"/><circle cx="762.9" cy="701.3" r="5.25" fill="none" stroke="#E41A1C" stroke-opacity="0.7" stroke-width="1.6"/>
<circle cx="736.9" cy="722.9" r="6.05" fill="#E41A1C" fill-opacity="0.7"/><circle cx="736.9" cy="722.9" r="5.25" fill="none" stroke="#E41A1C" stroke-opacity="0.7" stroke-width="1.6"/>
<circle cx="737.4" cy="727.4" r="6.05" fill="#377EB8" fill-opacity="0.7"/><circle cx="737.4" cy="727.4" r="5.25" fill="none" stroke="#377EB8" stroke-opacity="0.7" stroke-width="1.6"/>
<circle cx="744.1" cy="729.1" r="6.05" fill="#377EB8" fill-opacity="0.7"/><circle cx="744.1" cy="729.1" r="5.25" fill="none" stroke="#377EB8" stroke-opacity="0.7" stroke-width="1.6"/>
<circle cx="725.8" cy="736.1" r="6.05" fill="#E41A1C" fill-opacity="0.7"/><circle cx="725.8" cy="736.1" r="5.25" fill="none" stroke="#E41A1C" stroke-opacity="0.7" stroke-width="1.6"/>
<circle cx="718.6" cy="745.7" r="6.05" fill="#E41A1C" fill-opacity="0.7"/><circle cx="718.6" cy="745.7" r="5.25" fill="none" stroke="#E41A1C" stroke-opacity="0.7" stroke-width="1.6"/>
<circle cx="702.5" cy="754.1" r="6.05" fill="#E41A1C" fill-opacity="0.7"/><circle cx="702.5" cy="754.1" r="5.25" fill="none" stroke="#E41A1C" stroke-opacity="0.7" stroke-width="1.6"/>
<circle cx="729.4" cy="753.2" r="6.05" fill="#E41A1C" fill-opacity="0.7"/><circle cx="729.4" cy="753.2" r="5.25" fill="none" stroke="#E41A1C" stroke-opacity="0.7" stroke-width="1.6"/>
<circle cx="756.2" cy="756.2" r="6.05" fill="#377EB8" fill-opacity="0.7"/><circle cx="756.2" cy="756.2" r="5.25" fill="none" stroke="#377EB8" stroke-opacity="0.7" stroke-width="1.6"/>
<circle cx="764.1" cy="761.6" r="6.05" fill="#E41A1C" fill-opacity="0.7"/><circle cx="764.1" cy="761.6" r="5.25" fill="none" stroke="#E41A1C" stroke-opacity="0.7" stroke-width="1.6"/>
<circle cx="757.4" cy="766.5" r="6.05" fill="#377EB8" fill-opacity="0.7"/><circle cx="757.4" cy="766.5" r="5.25" fill="none" stroke="#377EB8" stroke-opacity="0.7" stroke-width="1.6"/>
<circle cx="729.1" cy="764.1" r="6.05" fill="#E41A1C" fill-opacity="0.7"/><circle cx="729.1" cy="764.1" r="5.25" fill="none" stroke="#E41A1C" stroke-opacity="0.7" stroke-width="1.6"/>
<circle cx="707.4" cy="768.2" r="6.05" fill="#377EB8" fill-opacity="0.7"/><circle cx="707.4" cy="768.2" r="5.25" fill="none" stroke="#377EB8" stroke-opacity="0.7" stroke-width="1.6"/>
<circle cx="712.9" cy="768.2" r="6.05" fill="#E41A1C" fill-opacity="0.7"/><circle cx="712.9" cy="768.2" r="5.25" fill="none" stroke="#E41A1C" stroke-opacity="0.7" stroke-width="1.6"/>
<circle cx="700.0" cy="776.5" r="6.05" fill="#E41A1C" fill-opacity="0.7"/><circle cx="700.0" cy="776.5" r="5.25" fill="none" stroke="#E41A1C" stroke-opacity="0.7" stroke-width="1.6"/>
<circle cx="702.5" cy="781.5" r="6.05" fill="#377EB8" fill-opacity="0.7"/><circle cx="702.5" cy="781.5" r="5.25" fill="none" stroke="#377EB8" stroke-opacity="0.7" stroke-width="1.6"/>
<circle cx="713.3" cy="780.7" r="6.05" fill="#377EB8" fill-opacity="0.7"/><circle cx="713.3" cy="780.7" r="5.25" fill="none" stroke="#377EB8" stroke-opacity="0.7" stroke-width="1.6"/>
<circle cx="721.6" cy="773.2" r="6.05" fill="#E41A1C" fill-opacity="0.7"/><circle cx="721.6" cy="773.2" r="5.25" fill="none" stroke="#E41A1C" stroke-opacity="0.7" stroke-width="1.6"/>
<circle cx="726.6" cy="773.2" r="6.05" fill="#E41A1C" fill-opacity="0.7"/><circle cx="726.6" cy="773.2" r="5.25" fill="none" stroke="#E41A1C" stroke-opacity="0.7" stroke-width="1.6"/>
<circle cx="734.1" cy="772.4" r="6.05" fill="#377EB8" fill-opacity="0.7"/><circle cx="734.1" cy="772.4" r="5.25" fill="none" stroke="#377EB8" stroke-opacity="0.7" stroke-width="1.6"/>
<circle cx="741.6" cy="771.5" r="6.05" fill="#E41A1C" fill-opacity="0.7"/><circle cx="741.6" cy="771.5" r="5.25" fill="none" stroke="#E41A1C" stroke-opacity="0.7" stroke-width="1.6"/>
<circle cx="744.1" cy="779.9" r="6.05" fill="#E41A1C" fill-opacity="0.7"/><circle cx="744.1" cy="779.9" r="5.25" fill="none" stroke="#E41A1C" stroke-opacity="0.7" stroke-width="1.6"/>
<circle cx="749.9" cy="774.9" r="6.05" fill="#E41A1C" fill-opacity="0.7"/><circle cx="749.9" cy="774.9" r="5.25" fill="none" stroke="#E41A1C" stroke-opacity="0.7" stroke-width="1.6"/>
<circle cx="753.2" cy="779.9" r="6.05" fill="#E41A1C" fill-opacity="0.7"/><circle cx="753.2" cy="779.9" r="5.25" fill="none" stroke="#E41A1C" stroke-opacity="0.7" stroke-width="1.6"/>
<circle cx="762.4" cy="779.9" r="6.05" fill="#377EB8" fill-opacity="0.7"/><circle cx="762.4" cy="779.9" r="5.25" fill="none" stroke="#377EB8" stroke-opacity="0.7" stroke-width="1.6"/>
<circle cx="759.9" cy="788.2" r="6.05" fill="#377EB8" fill-opacity="0.7"/><circle cx="759.9" cy="788.2" r="5.25" fill="none" stroke="#377EB8" stroke-opacity="0.7" stroke-width="1.6"/>
<circle cx="761.6" cy="791.5" r="6.05" fill="#E41A1C" fill-opacity="0.7"/><circle cx="761.6" cy="791.5" r="5.25" fill="none" stroke="#E41A1C" stroke-opacity="0.7" stroke-width="1.6"/>
<circle cx="764.6" cy="793.2" r="6.05" fill="#377EB8" fill-opacity="0.7"/><circle cx="764.6" cy="793.2" r="5.25" fill="none" stroke="#377EB8" stroke-opacity="0.7" stroke-width="1.6"/>
<circle cx="748.2" cy="794.0" r="6.05" fill="#377EB8" fill-opacity="0.7"/><circle cx="748.2" cy="794.0" r="5.25" fill="none" stroke="#377EB8" stroke-opacity="0.7" stroke-width="1.6"/>
<circle cx="741.6" cy="791.5" r="6.05" fill="#377EB8" fill-opacity="0.7"/><circle cx="741.6" cy="791.5" r="5.25" fill="none" stroke="#377EB8" stroke-opacity="0.7" stroke-width="1.6"/>
<circle cx="733.3" cy="791.5" r="6.05" fill="#377EB8" fill-opacity="0.7"/><circle cx="733.3" cy="791.5" r="5.25" fill="none" stroke="#377EB8" stroke-opacity="0.7" stroke-width="1.6"/>
<circle cx="726.6" cy="793.2" r="6.05" fill="#377EB8" fill-opacity="0.7"/><circle cx="726.6" cy="793.2" r="5.25" fill="none" stroke="#377EB8" stroke-opacity="0.7" stroke-width="1.6"/>
<circle cx="719.9" cy="791.5" r="6.05" fill="#377EB8" fill-opacity="0.7"/><circle cx="719.9" cy="791.5" r="5.25" fill="none" stroke="#377EB8" stroke-opacity="0.7" stroke-width="1.6"/>
<circle cx="713.3" cy="793.2" r="6.05" fill="#E41A1C" fill-opacity="0.7"/><circle cx="713.3" cy="793.2" r="5.25" fill="none" stroke="#E41A1C" stroke-opacity="0.7" stroke-width="1.6"/>
<circle cx="704.1" cy="797.3" r="6.05" fill="#377EB8" fill-opacity="0.7"/><circle cx="704.1" cy="797.3" r="5.25" fill="none" stroke="#377EB8" stroke-opacity="0.7" stroke-width="1.6"/>
<circle cx="700.0" cy="797.3" r="6.05" fill="#E41A1C" fill-opacity="0.7"/><circle cx="700.0" cy="797.3" r="5.25" fill="none" stroke="#E41A1C" stroke-opacity="0.7" stroke-width="1.6"/>
<circle cx="709.9" cy="801.5" r="6.05" fill="#E41A1C" fill-opacity="0.7"/><circle cx="709.9" cy="801.5" r="5.25" fill="none" stroke="#E41A1C" stroke-opacity="0.7" stroke-width="1.6"/>
<circle cx="714.9" cy="800.7" r="6.05" fill="#377EB8" fill-opacity="0.7"/><circle cx="714.9" cy="800.7" r="5.25" fill="none" stroke="#377EB8" stroke-opacity="0.7" stroke-width="1.6"/>
<circle cx="733.3" cy="801.5" r="6.05" fill="#377EB8" fill-opacity="0.7"/><circle cx="733.3" cy="801.5" r="5.25" fill="none" stroke="#377EB8" stroke-opacity="0.7" stroke-width="1.6"/>
<circle cx="736.6" cy="786.5" r="6.05" fill="#377EB8" fill-opacity="0.7"/><circle cx="736.6" cy="786.5" r="5.25" fill="none" stroke="#377EB8" stroke-opacity="0.7" stroke-width="1.6"/>
<circle cx="729.9" cy="784.9" r="6.05" fill="#377EB8" fill-opacity="0.7"/><circle cx="729.9" cy="784.9" r="5.25" fill="none" stroke="#377EB8" stroke-opacity="0.7" stroke-width="1.6"/>
<circle cx="739.9" cy="783.2" r="6.05" fill="#E41A1C" fill-opacity="0.7"/><circle cx="739.9" cy="783.2" r="5.25" fill="none" stroke="#E41A1C" stroke-opacity="0.7" stroke-width="1.6"/>
<circle cx="746.6" cy="783.2" r="6.05" fill="#E41A1C" fill-opacity="0.7"/><circle cx="746.6" cy="783.2" r="5.25" fill="none" stroke="#E41A1C" stroke-opacity="0.7" stroke-width="1.6"/>
<circle cx="723.3" cy="788.2" r="6.05" fill="#377EB8" fill-opacity="0.7"/><circle cx="723.3" cy="788.2" r="5.25" fill="none" stroke="#377EB8" stroke-opacity="0.7" stroke-width="1.6"/>
<circle cx="729.9" cy="789.9" r="6.05" fill="#377EB8" fill-opacity="0.7"/><circle cx="729.9" cy="789.9" r="5.25" fill="none" stroke="#377EB8" stroke-opacity="0.7" stroke-width="1.6"/>
<circle cx="736.6" cy="793.2" r="6.05" fill="#377EB8" fill-opacity="0.7"/><circle cx="736.6" cy="793.2" r="5.25" fill="none" stroke="#377EB8" stroke-opacity="0.7" stroke-width="1.6"/>
<circle cx="726.6" cy="798.2" r="6.05" fill="#377EB8" fill-opacity="0.7"/><circle cx="726.6" cy="798.2" r="5.25" fill="none" stroke="#377EB8" stroke-opacity="0.7" stroke-width="1.6"/>
<circle cx="731.6" cy="796.5" r="6.05" fill="#377EB8" fill-opacity="0.7"/><circle cx="731.6" cy="796.5" r="5.25" fill="none" stroke="#377EB8" stroke-opacity="0.7" stroke-width="1.6"/>
<circle cx="718.3" cy="796.5" r="6.05" fill="#377EB8" fill-opacity="0.7"/><circle cx="718.3" cy="796.5" r="5.25" fill="none" stroke="#377EB8" stroke-opacity="0.7" stroke-width="1.6"/>
<circle cx="870.8" cy="533.0" r="6.05" fill="#E41A1C" fill-opacity="0.7"/><circle cx="870.8" cy="533.0" r="5.25" fill="none" stroke="#E41A1C" stroke-opacity="0.7" stroke-width="1.6"/>
<circle cx="876.2" cy="533.0" r="6.05" fill="#E41A1C" fill-opacity="0.7"/><circle cx="876.2" cy="533.0" r="5.25" fill="none" stroke="#E41A1C" stroke-opacity="0.7" stroke-width="1.6"/>
<circle cx="881.5" cy="533.0" r="6.05" fill="#E41A1C" fill-opacity="0.7"/><circle cx="881.5" cy="533.0" r="5.25" fill="none" stroke="#E41A1C" stroke-opacity="0.7" stroke-width="1.6"/>
<circle cx="886.8" cy="533.0" r="6.05" fill="#E41A1C" fill-opacity="0.7"/><circle cx="886.8" cy="533.0" r="5.25" fill="none" stroke="#E41A1C" stroke-opacity="0.7" stroke-width="1.6"/>
<circle cx="892.1" cy="533.0" r="6.05" fill="#E41A1C" fill-opacity="0.7"/><circle cx="892.1" cy="533.0" r="5.25" fill="none" stroke="#E41A1C" stroke-opacity="0.7" stroke-width="1.6"/>
<circle cx="897.5" cy="533.0" r="6.05" fill="#E41A1C" fill-opacity="0.7"/><circle cx="897.5" cy="533.0" r="5.25" fill="none" stroke="#E41A1C" stroke-opacity="0.7" stroke-width="1.6"/>
<circle cx="902.8" cy="533.0" r="6.05" fill="#E41A1C" fill-opacity="0.7"/><circle cx="902.8" cy="533.0" r="5.25" fill="none" stroke="#E41A1C" stroke-opacity="0.7" stroke-width="1.6"/>
<circle cx="908.1" cy="533.0" r="6.05" fill="#E41A1C" fill-opacity="0.7"/><circle cx="908.1" cy="533.0" r="5.25" fill="none" stroke="#E41A1C" stroke-opacity="0.7" stroke-width="1.6"/>
<circle cx="913.4" cy="533.0" r="6.05" fill="#E41A1C" fill-opacity="0.7"/><circle cx="913.4" cy="533.0" r="5.25" fill="none" stroke="#E41A1C" stroke-opacity="0.7" stroke-width="1.6"/>
<circle cx="918.8" cy="533.0" r="6.05" fill="#E41A1C" fill-opacity="0.7"/><circle cx="918.8" cy="533.0" r="5.25" fill="none" stroke="#E41A1C" stroke-opacity="0.7" stroke-width="1.6"/>
<circle cx="922.3" cy="533.0" r="6.05" fill="#E41A1C" fill-opacity="0.7"/><circle cx="922.3" cy="533.0" r="5.25" fill="none" stroke="#E41A1C" stroke-opacity="0.7" stroke-width="1.6"/>
<circle cx="925.9" cy="533.0" r="6.05" fill="#E41A1C" fill-opacity="0.7"/><circle cx="925.9" cy="533.0" r="5.25" fill="none" stroke="#E41A1C" stroke-opacity="0.7" stroke-width="1.6"/>
<circle cx="929.4" cy="533.0" r="6.05" fill="#E41A1C" fill-opacity="0.7"/><circle cx="929.4" cy="533.0" r="5.25" fill="none" stroke="#E41A1C" stroke-opacity="0.7" stroke-width="1.6"/>
<circle cx="934.7" cy="533.0" r="6.05" fill="#E41A1C" fill-opacity="0.7"/><circle cx="934.7" cy="533.0" r="5.25" fill="none" stroke="#E41A1C" stroke-opacity="0.7" stroke-width="1.6"/>
<circle cx="918.2" cy="576.8" r="6.05" fill="#E41A1C" fill-opacity="0.7"/><circle cx="918.2" cy="576.8" r="5.25" fill="none" stroke="#E41A1C" stroke-opacity="0.7" stroke-width="1.6"/>
<circle cx="914.9" cy="592.4" r="6.05" fill="#E41A1C" fill-opacity="0.7"/><circle cx="914.9" cy="592.4" r="5.25" fill="none" stroke="#E41A1C" stroke-opacity="0.7" stroke-width="1.6"/>
<circle cx="930.3" cy="643.9" r="6.05" fill="#E41A1C" fill-opacity="0.7"/><circle cx="930.3" cy="643.9" r="5.25" fill="none" stroke="#E41A1C" stroke-opacity="0.7" stroke-width="1.6"/>
<circle cx="910.4" cy="670.9" r="6.05" fill="#E41A1C" fill-opacity="0.7"/><circle cx="910.4" cy="670.9" r="5.25" fill="none" stroke="#E41A1C" stroke-opacity="0.7" stroke-width="1.6"/>
<circle cx="924.4" cy="673.6" r="6.05" fill="#E41A1C" fill-opacity="0.7"/><circle cx="924.4" cy="673.6" r="5.25" fill="none" stroke="#E41A1C" stroke-opacity="0.7" stroke-width="1.6"/>
<circle cx="877.9" cy="676.6" r="6.05" fill="#E41A1C" fill-opacity="0.7"/><circle cx="877.9" cy="676.6" r="5.25" fill="none" stroke="#E41A1C" stroke-opacity="0.7" stroke-width="1.6"/>
<circle cx="887.8" cy="696.3" r="6.05" fill="#E41A1C" fill-opacity="0.7"/><circle cx="887.8" cy="696.3" r="5.25" fill="none" stroke="#E41A1C" stroke-opacity="0.7" stroke-width="1.6"/>
<circle cx="915.2" cy="701.3" r="6.05" fill="#E41A1C" fill-opacity="0.7"/><circle cx="915.2" cy="701.3" r="5.25" fill="none" stroke="#E41A1C" stroke-opacity="0.7" stroke-width="1.6"/>
<circle cx="931.9" cy="711.6" r="6.05" fill="#E41A1C" fill-opacity="0.7"/><circle cx="931.9" cy="711.6" r="5.25" fill="none" stroke="#E41A1C" stroke-opacity="0.7" stroke-width="1.6"/>
<circle cx="892.6" cy="722.9" r="6.05" fill="#E41A1C" fill-opacity="0.7"/><circle cx="892.6" cy="722.9" r="5.25" fill="none" stroke="#E41A1C" stroke-opacity="0.7" stroke-width="1.6"/>
<circle cx="904.9" cy="736.1" r="6.05" fill="#E41A1C" fill-opacity="0.7"/><circle cx="904.9" cy="736.1" r="5.25" fill="none" stroke="#E41A1C" stroke-opacity="0.7" stroke-width="1.6"/>
<circle cx="882.8" cy="746.1" r="6.05" fill="#E41A1C" fill-opacity="0.7"/><circle cx="882.8" cy="746.1" r="5.25" fill="none" stroke="#E41A1C" stroke-opacity="0.7" stroke-width="1.6"/>
<circle cx="877.8" cy="753.6" r="6.05" fill="#E41A1C" fill-opacity="0.7"/><circle cx="877.8" cy="753.6" r="5.25" fill="none" stroke="#E41A1C" stroke-opacity="0.7" stroke-width="1.6"/>
<circle cx="911.1" cy="754.1" r="6.05" fill="#E41A1C" fill-opacity="0.7"/><circle cx="911.1" cy="754.1" r="5.25" fill="none" stroke="#E41A1C" stroke-opacity="0.7" stroke-width="1.6"/>
<circle cx="926.9" cy="760.7" r="6.05" fill="#E41A1C" fill-opacity="0.7"/><circle cx="926.9" cy="760.7" r="5.25" fill="none" stroke="#E41A1C" stroke-opacity="0.7" stroke-width="1.6"/>
<circle cx="926.2" cy="764.9" r="6.05" fill="#E41A1C" fill-opacity="0.7"/><circle cx="926.2" cy="764.9" r="5.25" fill="none" stroke="#E41A1C" stroke-opacity="0.7" stroke-width="1.6"/>
<circle cx="914.6" cy="769.0" r="6.05" fill="#E41A1C" fill-opacity="0.7"/><circle cx="914.6" cy="769.0" r="5.25" fill="none" stroke="#E41A1C" stroke-opacity="0.7" stroke-width="1.6"/>
<circle cx="879.9" cy="773.2" r="6.05" fill="#E41A1C" fill-opacity="0.7"/><circle cx="879.9" cy="773.2" r="5.25" fill="none" stroke="#E41A1C" stroke-opacity="0.7" stroke-width="1.6"/>
<circle cx="881.6" cy="776.5" r="6.05" fill="#E41A1C" fill-opacity="0.7"/><circle cx="881.6" cy="776.5" r="5.25" fill="none" stroke="#E41A1C" stroke-opacity="0.7" stroke-width="1.6"/>
<circle cx="884.9" cy="776.5" r="6.05" fill="#E41A1C" fill-opacity="0.7"/><circle cx="884.9" cy="776.5" r="5.25" fill="none" stroke="#E41A1C" stroke-opacity="0.7" stroke-width="1.6"/>
<circle cx="879.9" cy="781.5" r="6.05" fill="#E41A1C" fill-opacity="0.7"/><circle cx="879.9" cy="781.5" r="5.25" fill="none" stroke="#E41A1C" stroke-opacity="0.7" stroke-width="1.6"/>
<circle cx="883.3" cy="786.5" r="6.05" fill="#E41A1C" fill-opacity="0.7"/><circle cx="883.3" cy="786.5" r="5.25" fill="none" stroke="#E41A1C" stroke-opacity="0.7" stroke-width="1.6"/>
<circle cx="876.3" cy="792.7" r="6.05" fill="#E41A1C" fill-opacity="0.7"/><circle cx="876.3" cy="792.7" r="5.25" fill="none" stroke="#E41A1C" stroke-opacity="0.7" stroke-width="1.6"/>
<circle cx="891.9" cy="788.5" r="6.05" fill="#E41A1C" fill-opacity="0.7"/><circle cx="891.9" cy="788.5" r="5.25" fill="none" stroke="#E41A1C" stroke-opacity="0.7" stroke-width="1.6"/>
<circle cx="898.3" cy="773.2" r="6.05" fill="#E41A1C" fill-opacity="0.7"/><circle cx="898.3" cy="773.2" r="5.25" fill="none" stroke="#E41A1C" stroke-opacity="0.7" stroke-width="1.6"/>
<circle cx="900.8" cy="772.4" r="6.05" fill="#E41A1C" fill-opacity="0.7"/><circle cx="900.8" cy="772.4" r="5.25" fill="none" stroke="#E41A1C" stroke-opacity="0.7" stroke-width="1.6"/>
<circle cx="899.1" cy="783.2" r="6.05" fill="#E41A1C" fill-opacity="0.7"/><circle cx="899.1" cy="783.2" r="5.25" fill="none" stroke="#E41A1C" stroke-opacity="0.7" stroke-width="1.6"/>
<circle cx="899.9" cy="779.9" r="6.05" fill="#E41A1C" fill-opacity="0.7"/><circle cx="899.9" cy="779.9" r="5.25" fill="none" stroke="#E41A1C" stroke-opacity="0.7" stroke-width="1.6"/>
<circle cx="909.1" cy="779.5" r="6.05" fill="#E41A1C" fill-opacity="0.7"/><circle cx="909.1" cy="779.5" r="5.25" fill="none" stroke="#E41A1C" stroke-opacity="0.7" stroke-width="1.6"/>
<circle cx="928.2" cy="782.4" r="6.05" fill="#E41A1C" fill-opacity="0.7"/><circle cx="928.2" cy="782.4" r="5.25" fill="none" stroke="#E41A1C" stroke-opacity="0.7" stroke-width="1.6"/>
<circle cx="929.9" cy="783.2" r="6.05" fill="#E41A1C" fill-opacity="0.7"/><circle cx="929.9" cy="783.2" r="5.25" fill="none" stroke="#E41A1C" stroke-opacity="0.7" stroke-width="1.6"/>
<circle cx="937.9" cy="779.0" r="6.05" fill="#E41A1C" fill-opacity="0.7"/><circle cx="937.9" cy="779.0" r="5.25" fill="none" stroke="#E41A1C" stroke-opacity="0.7" stroke-width="1.6"/>
<circle cx="937.9" cy="788.2" r="6.05" fill="#E41A1C" fill-opacity="0.7"/><circle cx="937.9" cy="788.2" r="5.25" fill="none" stroke="#E41A1C" stroke-opacity="0.7" stroke-width="1.6"/>
<circle cx="931.6" cy="796.5" r="6.05" fill="#E41A1C" fill-opacity="0.7"/><circle cx="931.6" cy="796.5" r="5.25" fill="none" stroke="#E41A1C" stroke-opacity="0.7" stroke-width="1.6"/>
<circle cx="936.5" cy="798.2" r="6.05" fill="#E41A1C" fill-opacity="0.7"/><circle cx="936.5" cy="798.2" r="5.25" fill="none" stroke="#E41A1C" stroke-opacity="0.7" stroke-width="1.6"/>
<circle cx="936.5" cy="800.7" r="6.05" fill="#E41A1C" fill-opacity="0.7"/><circle cx="936.5" cy="800.7" r="5.25" fill="none" stroke="#E41A1C" stroke-opacity="0.7" stroke-width="1.6"/>
<circle cx="1093.4" cy="756.7" r="6.05" fill="#377EB8" fill-opacity="0.7"/><circle cx="1093.4" cy="756.7" r="5.25" fill="none" stroke="#377EB8" stroke-opacity="0.7" stroke-width="1.6"/>
<circle cx="1051.4" cy="772.2" r="6.05" fill="#377EB8" fill-opacity="0.7"/><circle cx="1051.4" cy="772.2" r="5.25" fill="none" stroke="#377EB8" stroke-opacity="0.7" stroke-width="1.6"/>
<circle cx="1058.4" cy="776.1" r="6.05" fill="#377EB8" fill-opacity="0.7"/><circle cx="1058.4" cy="776.1" r="5.25" fill="none" stroke="#377EB8" stroke-opacity="0.7" stroke-width="1.6"/>
<circle cx="1057.8" cy="782.8" r="6.05" fill="#377EB8" fill-opacity="0.7"/><circle cx="1057.8" cy="782.8" r="5.25" fill="none" stroke="#377EB8" stroke-opacity="0.7" stroke-width="1.6"/>
<circle cx="1070.7" cy="768.7" r="6.05" fill="#377EB8" fill-opacity="0.7"/><circle cx="1070.7" cy="768.7" r="5.25" fill="none" stroke="#377EB8" stroke-opacity="0.7" stroke-width="1.6"/>
<circle cx="1075.6" cy="773.9" r="6.05" fill="#377EB8" fill-opacity="0.7"/><circle cx="1075.6" cy="773.9" r="5.25" fill="none" stroke="#377EB8" stroke-opacity="0.7" stroke-width="1.6"/>
<circle cx="1061.2" cy="787.8" r="6.05" fill="#377EB8" fill-opacity="0.7"/><circle cx="1061.2" cy="787.8" r="5.25" fill="none" stroke="#377EB8" stroke-opacity="0.7" stroke-width="1.6"/>
<circle cx="1065.6" cy="787.8" r="6.05" fill="#377EB8" fill-opacity="0.7"/><circle cx="1065.6" cy="787.8" r="5.25" fill="none" stroke="#377EB8" stroke-opacity="0.7" stroke-width="1.6"/>
<circle cx="1045.4" cy="792.0" r="6.05" fill="#377EB8" fill-opacity="0.7"/><circle cx="1045.4" cy="792.0" r="5.25" fill="none" stroke="#377EB8" stroke-opacity="0.7" stroke-width="1.6"/>
<circle cx="1048.9" cy="796.7" r="6.05" fill="#377EB8" fill-opacity="0.7"/><circle cx="1048.9" cy="796.7" r="5.25" fill="none" stroke="#377EB8" stroke-opacity="0.7" stroke-width="1.6"/>
<circle cx="1058.9" cy="793.4" r="6.05" fill="#377EB8" fill-opacity="0.7"/><circle cx="1058.9" cy="793.4" r="5.25" fill="none" stroke="#377EB8" stroke-opacity="0.7" stroke-width="1.6"/>
<circle cx="1076.7" cy="791.1" r="6.05" fill="#377EB8" fill-opacity="0.7"/><circle cx="1076.7" cy="791.1" r="5.25" fill="none" stroke="#377EB8" stroke-opacity="0.7" stroke-width="1.6"/>
<circle cx="1085.1" cy="779.5" r="6.05" fill="#377EB8" fill-opacity="0.7"/><circle cx="1085.1" cy="779.5" r="5.25" fill="none" stroke="#377EB8" stroke-opacity="0.7" stroke-width="1.6"/>
<circle cx="1091.7" cy="781.7" r="6.05" fill="#377EB8" fill-opacity="0.7"/><circle cx="1091.7" cy="781.7" r="5.25" fill="none" stroke="#377EB8" stroke-opacity="0.7" stroke-width="1.6"/>
<circle cx="1099.0" cy="785.0" r="6.05" fill="#377EB8" fill-opacity="0.7"/><circle cx="1099.0" cy="785.0" r="5.25" fill="none" stroke="#377EB8" stroke-opacity="0.7" stroke-width="1.6"/>
<circle cx="1085.6" cy="796.7" r="6.05" fill="#377EB8" fill-opacity="0.7"/><circle cx="1085.6" cy="796.7" r="5.25" fill="none" stroke="#377EB8" stroke-opacity="0.7" stroke-width="1.6"/>
<circle cx="1092.3" cy="792.3" r="6.05" fill="#377EB8" fill-opacity="0.7"/><circle cx="1092.3" cy="792.3" r="5.25" fill="none" stroke="#377EB8" stroke-opacity="0.7" stroke-width="1.6"/>
<circle cx="1100.1" cy="800.0" r="6.05" fill="#377EB8" fill-opacity="0.7"/><circle cx="1100.1" cy="800.0" r="5.25" fill="none" stroke="#377EB8" stroke-opacity="0.7" stroke-width="1.6"/>
<circle cx="1104.5" cy="792.3" r="6.05" fill="#377EB8" fill-opacity="0.7"/><circle cx="1104.5" cy="792.3" r="5.25" fill="none" stroke="#377EB8" stroke-opacity="0.7" stroke-width="1.6"/>
<circle cx="1109.5" cy="800.0" r="6.05" fill="#377EB8" fill-opacity="0.7"/><circle cx="1109.5" cy="800.0" r="5.25" fill="none" stroke="#377EB8" stroke-opacity="0.7" stroke-width="1.6"/>
<circle cx="1109.0" cy="796.7" r="6.05" fill="#377EB8" fill-opacity="0.7"/><circle cx="1109.0" cy="796.7" r="5.25" fill="none" stroke="#377EB8" stroke-opacity="0.7" stroke-width="1.6"/>
<circle cx="1080.1" cy="790.0" r="6.05" fill="#377EB8" fill-opacity="0.7"/><circle cx="1080.1" cy="790.0" r="5.25" fill="none" stroke="#377EB8" stroke-opacity="0.7" stroke-width="1.6"/>
<circle cx="1273.7" cy="766.5" r="6.05" fill="#377EB8" fill-opacity="0.7"/><circle cx="1273.7" cy="766.5" r="5.25" fill="none" stroke="#377EB8" stroke-opacity="0.7" stroke-width="1.6"/>
<circle cx="1273.7" cy="773.8" r="6.05" fill="#377EB8" fill-opacity="0.7"/><circle cx="1273.7" cy="773.8" r="5.25" fill="none" stroke="#377EB8" stroke-opacity="0.7" stroke-width="1.6"/>
<circle cx="1251.2" cy="781.2" r="6.05" fill="#377EB8" fill-opacity="0.7"/><circle cx="1251.2" cy="781.2" r="5.25" fill="none" stroke="#377EB8" stroke-opacity="0.7" stroke-width="1.6"/>
<circle cx="1254.2" cy="783.6" r="6.05" fill="#377EB8" fill-opacity="0.7"/><circle cx="1254.2" cy="783.6" r="5.25" fill="none" stroke="#377EB8" stroke-opacity="0.7" stroke-width="1.6"/>
<circle cx="1266.8" cy="786.4" r="6.05" fill="#377EB8" fill-opacity="0.7"/><circle cx="1266.8" cy="786.4" r="5.25" fill="none" stroke="#377EB8" stroke-opacity="0.7" stroke-width="1.6"/>
<circle cx="1246.5" cy="798.0" r="6.05" fill="#377EB8" fill-opacity="0.7"/><circle cx="1246.5" cy="798.0" r="5.25" fill="none" stroke="#377EB8" stroke-opacity="0.7" stroke-width="1.6"/>
<circle cx="189.5" cy="341.3" r="6.05" fill="#377EB8" fill-opacity="0.7"/><circle cx="189.5" cy="341.3" r="5.25" fill="none" stroke="#377EB8" stroke-opacity="0.7" stroke-width="1.6"/>
<circle cx="190.9" cy="341.3" r="6.05" fill="#377EB8" fill-opacity="0.7"/><circle cx="190.9" cy="341.3" r="5.25" fill="none" stroke="#377EB8" stroke-opacity="0.7" stroke-width="1.6"/>
<circle cx="192.4" cy="341.3" r="6.05" fill="#377EB8" fill-opacity="0.7"/><circle cx="192.4" cy="341.3" r="5.25" fill="none" stroke="#377EB8" stroke-opacity="0.7" stroke-width="1.6"/>
<circle cx="193.8" cy="341.3" r="6.05" fill="#377EB8" fill-opacity="0.7"/><circle cx="193.8" cy="341.3" r="5.25" fill="none" stroke="#377EB8" stroke-opacity="0.7" stroke-width="1.6"/>
<circle cx="195.2" cy="341.3" r="6.05" fill="#377EB8" fill-opacity="0.7"/><circle cx="195.2" cy="341.3" r="5.25" fill="none" stroke="#377EB8" stroke-opacity="0.7" stroke-width="1.6"/>
<circle cx="196.7" cy="341.3" r="6.05" fill="#377EB8" fill-opacity="0.7"/><circle cx="196.7" cy="341.3" r="5.25" fill="none" stroke="#377EB8" stroke-opacity="0.7" stroke-width="1.6"/>
<circle cx="198.1" cy="341.3" r="6.05" fill="#377EB8" fill-opacity="0.7"/><circle cx="198.1" cy="341.3" r="5.25" fill="none" stroke="#377EB8" stroke-opacity="0.7" stroke-width="1.6"/>
<circle cx="199.5" cy="341.3" r="6.05" fill="#377EB8" fill-opacity="0.7"/><circle cx="199.5" cy="341.3" r="5.25" fill="none" stroke="#377EB8" stroke-opacity="0.7" stroke-width="1.6"/>
<circle cx="201.0" cy="341.3" r="6.05" fill="#377EB8" fill-opacity="0.7"/><circle cx="201.0" cy="341.3" r="5.25" fill="none" stroke="#377EB8" stroke-opacity="0.7" stroke-width="1.6"/>
<circle cx="202.4" cy="341.3" r="6.05" fill="#377EB8" fill-opacity="0.7"/><circle cx="202.4" cy="341.3" r="5.25" fill="none" stroke="#377EB8" stroke-opacity="0.7" stroke-width="1.6"/>
<circle cx="203.8" cy="341.3" r="6.05" fill="#377EB8" fill-opacity="0.7"/><circle cx="203.8" cy="341.3" r="5.25" fill="none" stroke="#377EB8" stroke-opacity="0.7" stroke-width="1.6"/>
<circle cx="205.2" cy="341.3" r="6.05" fill="#377EB8" fill-opacity="0.7"/><circle cx="205.2" cy="341.3" r="5.25" fill="none" stroke="#377EB8" stroke-opacity="0.7" stroke-width="1.6"/>
<circle cx="206.7" cy="341.3" r="6.05" fill="#377EB8" fill-opacity="0.7"/><circle cx="206.7" cy="341.3" r="5.25" fill="none" stroke="#377EB8" stroke-opacity="0.7" stroke-width="1.6"/>
<circle cx="208.1" cy="341.3" r="6.05" fill="#377EB8" fill-opacity="0.7"/><circle cx="208.1" cy="341.3" r="5.25" fill="none" stroke="#377EB8" stroke-opacity="0.7" stroke-width="1.6"/>
<circle cx="209.5" cy="341.3" r="6.05" fill="#377EB8" fill-opacity="0.7"/><circle cx="209.5" cy="341.3" r="5.25" fill="none" stroke="#377EB8" stroke-opacity="0.7" stroke-width="1.6"/>
<circle cx="211.0" cy="341.3" r="6.05" fill="#377EB8" fill-opacity="0.7"/><circle cx="211.0" cy="341.3" r="5.25" fill="none" stroke="#377EB8" stroke-opacity="0.7" stroke-width="1.6"/>
<circle cx="212.4" cy="341.3" r="6.05" fill="#377EB8" fill-opacity="0.7"/><circle cx="212.4" cy="341.3" r="5.25" fill="none" stroke="#377EB8" stroke-opacity="0.7" stroke-width="1.6"/>
<circle cx="213.8" cy="341.3" r="6.05" fill="#377EB8" fill-opacity="0.7"/><circle cx="213.8" cy="341.3" r="5.25" fill="none" stroke="#377EB8" stroke-opacity="0.7" stroke-width="1.6"/>
<circle cx="215.3" cy="341.3" r="6.05" fill="#377EB8" fill-opacity="0.7"/><circle cx="215.3" cy="341.3" r="5.25" fill="none" stroke="#377EB8" stroke-opacity="0.7" stroke-width="1.6"/>
<circle cx="216.7" cy="341.3" r="6.05" fill="#377EB8" fill-opacity="0.7"/><circle cx="216.7" cy="341.3" r="5.25" fill="none" stroke="#377EB8" stroke-opacity="0.7" stroke-width="1.6"/>
<circle cx="218.1" cy="341.3" r="6.05" fill="#377EB8" fill-opacity="0.7"/><circle cx="218.1" cy="341.3" r="5.25" fill="none" stroke="#377EB8" stroke-opacity="0.7" stroke-width="1.6"/>
<circle cx="219.6" cy="341.3" r="6.05" fill="#377EB8" fill-opacity="0.7"/><circle cx="219.6" cy="341.3" r="5.25" fill="none" stroke="#377EB8" stroke-opacity="0.7" stroke-width="1.6"/>
<circle cx="221.0" cy="341.3" r="6.05" fill="#377EB8" fill-opacity="0.7"/><circle cx="221.0" cy="341.3" r="5.25" fill="none" stroke="#377EB8" stroke-opacity="0.7" stroke-width="1.6"/>
<circle cx="222.4" cy="341.3" r="6.05" fill="#377EB8" fill-opacity="0.7"/><circle cx="222.4" cy="341.3" r="5.25" fill="none" stroke="#377EB8" stroke-opacity="0.7" stroke-width="1.6"/>
<circle cx="223.9" cy="341.3" r="6.05" fill="#377EB8" fill-opacity="0.7"/><circle cx="223.9" cy="341.3" r="5.25" fill="none" stroke="#377EB8" stroke-opacity="0.7" stroke-width="1.6"/>
<circle cx="225.3" cy="341.3" r="6.05" fill="#377EB8" fill-opacity="0.7"/><circle cx="225.3" cy="341.3" r="5.25" fill="none" stroke="#377EB8" stroke-opacity="0.7" stroke-width="1.6"/>
<circle cx="226.7" cy="341.3" r="6.05" fill="#377EB8" fill-opacity="0.7"/><circle cx="226.7" cy="341.3" r="5.25" fill="none" stroke="#377EB8" stroke-opacity="0.7" stroke-width="1.6"/>
<circle cx="228.2" cy="341.3" r="6.05" fill="#377EB8" fill-opacity="0.7"/><circle cx="228.2" cy="341.3" r="5.25" fill="none" stroke="#377EB8" stroke-opacity="0.7" stroke-width="1.6"/>
<circle cx="229.6" cy="341.3" r="6.05" fill="#377EB8" fill-opacity="0.7"/><circle cx="229.6" cy="341.3" r="5.25" fill="none" stroke="#377EB8" stroke-opacity="0.7" stroke-width="1.6"/>
<circle cx="231.0" cy="341.3" r="6.05" fill="#377EB8" fill-opacity="0.7"/><circle cx="231.0" cy="341.3" r="5.25" fill="none" stroke="#377EB8" stroke-opacity="0.7" stroke-width="1.6"/>
<circle cx="232.5" cy="341.3" r="6.05" fill="#377EB8" fill-opacity="0.7"/><circle cx="232.5" cy="341.3" r="5.25" fill="none" stroke="#377EB8" stroke-opacity="0.7" stroke-width="1.6"/>
<circle cx="233.9" cy="341.3" r="6.05" fill="#377EB8" fill-opacity="0.7"/><circle cx="233.9" cy="341.3" r="5.25" fill="none" stroke="#377EB8" stroke-opacity="0.7" stroke-width="1.6"/>
<circle cx="235.3" cy="341.3" r="6.05" fill="#377EB8" fill-opacity="0.7"/><circle cx="235.3" cy="341.3" r="5.25" fill="none" stroke="#377EB8" stroke-opacity="0.7" stroke-width="1.6"/>
<circle cx="236.8" cy="341.3" r="6.05" fill="#377EB8" fill-opacity="0.7"/><circle cx="236.8" cy="341.3" r="5.25" fill="none" stroke="#377EB8" stroke-opacity="0.7" stroke-width="1.6"/>
<circle cx="238.2" cy="341.3" r="6.05" fill="#377EB8" fill-opacity="0.7"/><circle cx="238.2" cy="341.3" r="5.25" fill="none" stroke="#377EB8" stroke-opacity="0.7" stroke-width="1.6"/>
<circle cx="239.6" cy="341.3" r="6.05" fill="#377EB8" fill-opacity="0.7"/><circle cx="239.6" cy="341.3" r="5.25" fill="none" stroke="#377EB8" stroke-opacity="0.7" stroke-width="1.6"/>
<circle cx="241.0" cy="341.3" r="6.05" fill="#377EB8" fill-opacity="0.7"/><circle cx="241.0" cy="341.3" r="5.25" fill="none" stroke="#377EB8" stroke-opacity="0.7" stroke-width="1.6"/>
<circle cx="242.5" cy="341.3" r="6.05" fill="#377EB8" fill-opacity="0.7"/><circle cx="242.5" cy="341.3" r="5.25" fill="none" stroke="#377EB8" stroke-opacity="0.7" stroke-width="1.6"/>
<circle cx="243.9" cy="341.3" r="6.05" fill="#377EB8" fill-opacity="0.7"/><circle cx="243.9" cy="341.3" r="5.25" fill="none" stroke="#377EB8" stroke-opacity="0.7" stroke-width="1.6"/>
<circle cx="245.3" cy="341.3" r="6.05" fill="#377EB8" fill-opacity="0.7"/><circle cx="245.3" cy="341.3" r="5.25" fill="none" stroke="#377EB8" stroke-opacity="0.7" stroke-width="1.6"/>
<circle cx="246.8" cy="341.3" r="6.05" fill="#377EB8" fill-opacity="0.7"/><circle cx="246.8" cy="341.3" r="5.25" fill="none" stroke="#377EB8" stroke-opacity="0.7" stroke-width="1.6"/>
<circle cx="248.2" cy="341.3" r="6.05" fill="#377EB8" fill-opacity="0.7"/><circle cx="248.2" cy="341.3" r="5.25" fill="none" stroke="#377EB8" stroke-opacity="0.7" stroke-width="1.6"/>
<circle cx="249.6" cy="341.3" r="6.05" fill="#377EB8" fill-opacity="0.7"/><circle cx="249.6" cy="341.3" r="5.25" fill="none" stroke="#377EB8" stroke-opacity="0.7" stroke-width="1.6"/>
<circle cx="251.1" cy="341.3" r="6.05" fill="#377EB8" fill-opacity="0.7"/><circle cx="251.1" cy="341.3" r="5.25" fill="none" stroke="#377EB8" stroke-opacity="0.7" stroke-width="1.6"/>
<circle cx="252.5" cy="341.3" r="6.05" fill="#377EB8" fill-opacity="0.7"/><circle cx="252.5" cy="341.3" r="5.25" fill="none" stroke="#377EB8" stroke-opacity="0.7" stroke-width="1.6"/>
<circle cx="396.9" cy="79.2" r="6.05" fill="#377EB8" fill-opacity="0.7"/><circle cx="396.9" cy="79.2" r="5.25" fill="none" stroke="#377EB8" stroke-opacity="0.7" stroke-width="1.6"/>
<circle cx="357.0" cy="71.7" r="6.05" fill="#377EB8" fill-opacity="0.7"/><circle cx="357.0" cy="71.7" r="5.25" fill="none" stroke="#377EB8" stroke-opacity="0.7" stroke-width="1.6"/>
<circle cx="361.0" cy="71.7" r="6.05" fill="#E41A1C" fill-opacity="0.7"/><circle cx="361.0" cy="71.7" r="5.25" fill="none" stroke="#E41A1C" stroke-opacity="0.7" stroke-width="1.6"/>
<circle cx="364.7" cy="71.7" r="6.05" fill="#E41A1C" fill-opacity="0.7"/><circle cx="364.7" cy="71.7" r="5.25" fill="none" stroke="#E41A1C" stroke-opacity="0.7" stroke-width="1.6"/>
<circle cx="368.4" cy="71.7" r="6.05" fill="#E41A1C" fill-opacity="0.7"/><circle cx="368.4" cy="71.7" r="5.25" fill="none" stroke="#E41A1C" stroke-opacity="0.7" stroke-width="1.6"/>
<circle cx="372.1" cy="71.7" r="6.05" fill="#E41A1C" fill-opacity="0.7"/><circle cx="372.1" cy="71.7" r="5.25" fill="none" stroke="#E41A1C" stroke-opacity="0.7" stroke-width="1.6"/>
<circle cx="375.8" cy="71.7" r="6.05" fill="#E41A1C" fill-opacity="0.7"/><circle cx="375.8" cy="71.7" r="5.25" fill="none" stroke="#E41A1C" stroke-opacity="0.7" stroke-width="1.6"/>
<circle cx="379.5" cy="71.7" r="6.05" fill="#E41A1C" fill-opacity="0.7"/><circle cx="379.5" cy="71.7" r="5.25" fill="none" stroke="#E41A1C" stroke-opacity="0.7" stroke-width="1.6"/>
<circle cx="383.2" cy="71.7" r="6.05" fill="#E41A1C" fill-opacity="0.7"/><circle cx="383.2" cy="71.7" r="5.25" fill="none" stroke="#E41A1C" stroke-opacity="0.7" stroke-width="1.6"/>
<circle cx="386.9" cy="71.7" r="6.05" fill="#E41A1C" fill-opacity="0.7"/><circle cx="386.9" cy="71.7" r="5.25" fill="none" stroke="#E41A1C" stroke-opacity="0.7" stroke-width="1.6"/>
<circle cx="390.6" cy="71.7" r="6.05" fill="#E41A1C" fill-opacity="0.7"/><circle cx="390.6" cy="71.7" r="5.25" fill="none" stroke="#E41A1C" stroke-opacity="0.7" stroke-width="1.6"/>
<circle cx="394.3" cy="71.7" r="6.05" fill="#E41A1C" fill-opacity="0.7"/><circle cx="394.3" cy="71.7" r="5.25" fill="none" stroke="#E41A1C" stroke-opacity="0.7" stroke-width="1.6"/>
<circle cx="400.4" cy="71.7" r="6.05" fill="#377EB8" fill-opacity="0.7"/><circle cx="400.4" cy="71.7" r="5.25" fill="none" stroke="#377EB8" stroke-opacity="0.7" stroke-width="1.6"/>
<circle cx="407.0" cy="71.7" r="6.05" fill="#377EB8" fill-opacity="0.7"/><circle cx="407.0" cy="71.7" r="5.25" fill="none" stroke="#377EB8" stroke-opacity="0.7" stroke-width="1.6"/>
<circle cx="411.5" cy="71.7" r="6.05" fill="#E41A1C" fill-opacity="0.7"/><circle cx="411.5" cy="71.7" r="5.25" fill="none" stroke="#E41A1C" stroke-opacity="0.7" stroke-width="1.6"/>
<circle cx="418.8" cy="71.7" r="6.05" fill="#377EB8" fill-opacity="0.7"/><circle cx="418.8" cy="71.7" r="5.25" fill="none" stroke="#377EB8" stroke-opacity="0.7" stroke-width="1.6"/>
<circle cx="414.5" cy="71.7" r="6.05" fill="#E41A1C" fill-opacity="0.7"/><circle cx="414.5" cy="71.7" r="5.25" fill="none" stroke="#E41A1C" stroke-opacity="0.7" stroke-width="1.6"/>
<circle cx="418.0" cy="71.7" r="6.05" fill="#E41A1C" fill-opacity="0.7"/><circle cx="418.0" cy="71.7" r="5.25" fill="none" stroke="#E41A1C" stroke-opacity="0.7" stroke-width="1.6"/>
<circle cx="422.0" cy="71.7" r="6.05" fill="#E41A1C" fill-opacity="0.7"/><circle cx="422.0" cy="71.7" r="5.25" fill="none" stroke="#E41A1C" stroke-opacity="0.7" stroke-width="1.6"/>
<circle cx="1215.6" cy="75.3" r="6.05" fill="#377EB8" fill-opacity="0.7"/><circle cx="1215.6" cy="75.3" r="5.25" fill="none" stroke="#377EB8" stroke-opacity="0.7" stroke-width="1.6"/>
<circle cx="1253.2" cy="71.7" r="6.05" fill="#377EB8" fill-opacity="0.7"/><circle cx="1253.2" cy="71.7" r="5.25" fill="none" stroke="#377EB8" stroke-opacity="0.7" stroke-width="1.6"/>
<circle cx="1274.5" cy="71.7" r="6.05" fill="#377EB8" fill-opacity="0.7"/><circle cx="1274.5" cy="71.7" r="5.25" fill="none" stroke="#377EB8" stroke-opacity="0.7" stroke-width="1.6"/>
<circle cx="1226.7" cy="187.2" r="6.05" fill="#377EB8" fill-opacity="0.7"/><circle cx="1226.7" cy="187.2" r="5.25" fill="none" stroke="#377EB8" stroke-opacity="0.7" stroke-width="1.6"/>
<circle cx="1212.9" cy="341.4" r="6.05" fill="#377EB8" fill-opacity="0.7"/><circle cx="1212.9" cy="341.4" r="5.25" fill="none" stroke="#377EB8" stroke-opacity="0.7" stroke-width="1.6"/>
<circle cx="1215.9" cy="341.4" r="6.05" fill="#377EB8" fill-opacity="0.7"/><circle cx="1215.9" cy="341.4" r="5.25" fill="none" stroke="#377EB8" stroke-opacity="0.7" stroke-width="1.6"/>
<circle cx="1235.9" cy="341.4" r="6.05" fill="#377EB8" fill-opacity="0.7"/><circle cx="1235.9" cy="341.4" r="5.25" fill="none" stroke="#377EB8" stroke-opacity="0.7" stroke-width="1.6"/>
<circle cx="1275.8" cy="341.4" r="6.05" fill="#377EB8" fill-opacity="0.7"/><circle cx="1275.8" cy="341.4" r="5.25" fill="none" stroke="#377EB8" stroke-opacity="0.7" stroke-width="1.6"/>
<circle cx="228.2" cy="533.3" r="6.05" fill="#377EB8" fill-opacity="0.7"/><circle cx="228.2" cy="533.3" r="5.25" fill="none" stroke="#377EB8" stroke-opacity="0.7" stroke-width="1.6"/>
<circle cx="206.7" cy="786.1" r="6.05" fill="#377EB8" fill-opacity="0.7"/><circle cx="206.7" cy="786.1" r="5.25" fill="none" stroke="#377EB8" stroke-opacity="0.7" stroke-width="1.6"/>
<circle cx="189.9" cy="784.2" r="6.05" fill="#377EB8" fill-opacity="0.7"/><circle cx="189.9" cy="784.2" r="5.25" fill="none" stroke="#377EB8" stroke-opacity="0.7" stroke-width="1.6"/>
<circle cx="220.9" cy="792.1" r="6.05" fill="#377EB8" fill-opacity="0.7"/><circle cx="220.9" cy="792.1" r="5.25" fill="none" stroke="#377EB8" stroke-opacity="0.7" stroke-width="1.6"/>
<circle cx="219.0" cy="789.3" r="6.05" fill="#377EB8" fill-opacity="0.7"/><circle cx="219.0" cy="789.3" r="5.25" fill="none" stroke="#377EB8" stroke-opacity="0.7" stroke-width="1.6"/>
<circle cx="187.5" cy="792.7" r="6.05" fill="#377EB8" fill-opacity="0.7"/><circle cx="187.5" cy="792.7" r="5.25" fill="none" stroke="#377EB8" stroke-opacity="0.7" stroke-width="1.6"/>
<circle cx="191.1" cy="789.9" r="6.05" fill="#377EB8" fill-opacity="0.7"/><circle cx="191.1" cy="789.9" r="5.25" fill="none" stroke="#377EB8" stroke-opacity="0.7" stroke-width="1.6"/>
<circle cx="213.4" cy="789.5" r="6.05" fill="#377EB8" fill-opacity="0.7"/><circle cx="213.4" cy="789.5" r="5.25" fill="none" stroke="#377EB8" stroke-opacity="0.7" stroke-width="1.6"/>
<circle cx="200.0" cy="793.3" r="6.05" fill="#377EB8" fill-opacity="0.7"/><circle cx="200.0" cy="793.3" r="5.25" fill="none" stroke="#377EB8" stroke-opacity="0.7" stroke-width="1.6"/>
<circle cx="227.0" cy="783.8" r="6.05" fill="#377EB8" fill-opacity="0.7"/><circle cx="227.0" cy="783.8" r="5.25" fill="none" stroke="#377EB8" stroke-opacity="0.7" stroke-width="1.6"/>
<circle cx="211.6" cy="793.2" r="6.05" fill="#377EB8" fill-opacity="0.7"/><circle cx="211.6" cy="793.2" r="5.25" fill="none" stroke="#377EB8" stroke-opacity="0.7" stroke-width="1.6"/>
<circle cx="250.4" cy="780.2" r="6.05" fill="#377EB8" fill-opacity="0.7"/><circle cx="250.4" cy="780.2" r="5.25" fill="none" stroke="#377EB8" stroke-opacity="0.7" stroke-width="1.6"/>
<circle cx="204.4" cy="787.6" r="6.05" fill="#377EB8" fill-opacity="0.7"/><circle cx="204.4" cy="787.6" r="5.25" fill="none" stroke="#377EB8" stroke-opacity="0.7" stroke-width="1.6"/>
<circle cx="194.7" cy="787.2" r="6.05" fill="#377EB8" fill-opacity="0.7"/><circle cx="194.7" cy="787.2" r="5.25" fill="none" stroke="#377EB8" stroke-opacity="0.7" stroke-width="1.6"/>
<circle cx="239.7" cy="787.6" r="6.05" fill="#377EB8" fill-opacity="0.7"/><circle cx="239.7" cy="787.6" r="5.25" fill="none" stroke="#377EB8" stroke-opacity="0.7" stroke-width="1.6"/>
<circle cx="197.1" cy="797.7" r="6.05" fill="#377EB8" fill-opacity="0.7"/><circle cx="197.1" cy="797.7" r="5.25" fill="none" stroke="#377EB8" stroke-opacity="0.7" stroke-width="1.6"/>
<circle cx="210.0" cy="794.7" r="6.05" fill="#377EB8" fill-opacity="0.7"/><circle cx="210.0" cy="794.7" r="5.25" fill="none" stroke="#377EB8" stroke-opacity="0.7" stroke-width="1.6"/>
<circle cx="221.7" cy="789.0" r="6.05" fill="#377EB8" fill-opacity="0.7"/><circle cx="221.7" cy="789.0" r="5.25" fill="none" stroke="#377EB8" stroke-opacity="0.7" stroke-width="1.6"/>
<circle cx="198.8" cy="790.0" r="6.05" fill="#377EB8" fill-opacity="0.7"/><circle cx="198.8" cy="790.0" r="5.25" fill="none" stroke="#377EB8" stroke-opacity="0.7" stroke-width="1.6"/>
<circle cx="230.6" cy="795.2" r="6.05" fill="#377EB8" fill-opacity="0.7"/><circle cx="230.6" cy="795.2" r="5.25" fill="none" stroke="#377EB8" stroke-opacity="0.7" stroke-width="1.6"/>
<circle cx="224.2" cy="788.7" r="6.05" fill="#377EB8" fill-opacity="0.7"/><circle cx="224.2" cy="788.7" r="5.25" fill="none" stroke="#377EB8" stroke-opacity="0.7" stroke-width="1.6"/>
<circle cx="215.4" cy="793.8" r="6.05" fill="#377EB8" fill-opacity="0.7"/><circle cx="215.4" cy="793.8" r="5.25" fill="none" stroke="#377EB8" stroke-opacity="0.7" stroke-width="1.6"/>
<circle cx="231.8" cy="781.3" r="6.05" fill="#377EB8" fill-opacity="0.7"/><circle cx="231.8" cy="781.3" r="5.25" fill="none" stroke="#377EB8" stroke-opacity="0.7" stroke-width="1.6"/>
<circle cx="201.4" cy="796.9" r="6.05" fill="#377EB8" fill-opacity="0.7"/><circle cx="201.4" cy="796.9" r="5.25" fill="none" stroke="#377EB8" stroke-opacity="0.7" stroke-width="1.6"/>
<circle cx="243.6" cy="793.9" r="6.05" fill="#377EB8" fill-opacity="0.7"/><circle cx="243.6" cy="793.9" r="5.25" fill="none" stroke="#377EB8" stroke-opacity="0.7" stroke-width="1.6"/>
<circle cx="233.9" cy="794.5" r="6.05" fill="#377EB8" fill-opacity="0.7"/><circle cx="233.9" cy="794.5" r="5.25" fill="none" stroke="#377EB8" stroke-opacity="0.7" stroke-width="1.6"/>
<circle cx="192.9" cy="775.6" r="6.05" fill="#377EB8" fill-opacity="0.7"/><circle cx="192.9" cy="775.6" r="5.25" fill="none" stroke="#377EB8" stroke-opacity="0.7" stroke-width="1.6"/>
<circle cx="213.0" cy="790.6" r="6.05" fill="#377EB8" fill-opacity="0.7"/><circle cx="213.0" cy="790.6" r="5.25" fill="none" stroke="#377EB8" stroke-opacity="0.7" stroke-width="1.6"/>
<circle cx="217.8" cy="794.0" r="6.05" fill="#377EB8" fill-opacity="0.7"/><circle cx="217.8" cy="794.0" r="5.25" fill="none" stroke="#377EB8" stroke-opacity="0.7" stroke-width="1.6"/>
<circle cx="187.6" cy="795.5" r="6.05" fill="#377EB8" fill-opacity="0.7"/><circle cx="187.6" cy="795.5" r="5.25" fill="none" stroke="#377EB8" stroke-opacity="0.7" stroke-width="1.6"/>
<circle cx="223.4" cy="798.9" r="6.05" fill="#377EB8" fill-opacity="0.7"/><circle cx="223.4" cy="798.9" r="5.25" fill="none" stroke="#377EB8" stroke-opacity="0.7" stroke-width="1.6"/>
<circle cx="243.7" cy="794.2" r="6.05" fill="#377EB8" fill-opacity="0.7"/><circle cx="243.7" cy="794.2" r="5.25" fill="none" stroke="#377EB8" stroke-opacity="0.7" stroke-width="1.6"/>
<circle cx="224.8" cy="782.8" r="6.05" fill="#377EB8" fill-opacity="0.7"/><circle cx="224.8" cy="782.8" r="5.25" fill="none" stroke="#377EB8" stroke-opacity="0.7" stroke-width="1.6"/>
<circle cx="223.9" cy="798.9" r="6.05" fill="#377EB8" fill-opacity="0.7"/><circle cx="223.9" cy="798.9" r="5.25" fill="none" stroke="#377EB8" stroke-opacity="0.7" stroke-width="1.6"/>
<circle cx="248.3" cy="787.9" r="6.05" fill="#377EB8" fill-opacity="0.7"/><circle cx="248.3" cy="787.9" r="5.25" fill="none" stroke="#377EB8" stroke-opacity="0.7" stroke-width="1.6"/>
<circle cx="216.8" cy="791.8" r="6.05" fill="#377EB8" fill-opacity="0.7"/><circle cx="216.8" cy="791.8" r="5.25" fill="none" stroke="#377EB8" stroke-opacity="0.7" stroke-width="1.6"/>
<circle cx="232.0" cy="792.5" r="6.05" fill="#377EB8" fill-opacity="0.7"/><circle cx="232.0" cy="792.5" r="5.25" fill="none" stroke="#377EB8" stroke-opacity="0.7" stroke-width="1.6"/>
<circle cx="228.4" cy="780.4" r="6.05" fill="#377EB8" fill-opacity="0.7"/><circle cx="228.4" cy="780.4" r="5.25" fill="none" stroke="#377EB8" stroke-opacity="0.7" stroke-width="1.6"/>
<circle cx="204.1" cy="791.2" r="6.05" fill="#377EB8" fill-opacity="0.7"/><circle cx="204.1" cy="791.2" r="5.25" fill="none" stroke="#377EB8" stroke-opacity="0.7" stroke-width="1.6"/>
<circle cx="210.8" cy="791.4" r="6.05" fill="#377EB8" fill-opacity="0.7"/><circle cx="210.8" cy="791.4" r="5.25" fill="none" stroke="#377EB8" stroke-opacity="0.7" stroke-width="1.6"/>
<circle cx="215.9" cy="791.8" r="6.05" fill="#377EB8" fill-opacity="0.7"/><circle cx="215.9" cy="791.8" r="5.25" fill="none" stroke="#377EB8" stroke-opacity="0.7" stroke-width="1.6"/>
<circle cx="196.3" cy="789.3" r="6.05" fill="#377EB8" fill-opacity="0.7"/><circle cx="196.3" cy="789.3" r="5.25" fill="none" stroke="#377EB8" stroke-opacity="0.7" stroke-width="1.6"/>
<circle cx="236.5" cy="789.5" r="6.05" fill="#377EB8" fill-opacity="0.7"/><circle cx="236.5" cy="789.5" r="5.25" fill="none" stroke="#377EB8" stroke-opacity="0.7" stroke-width="1.6"/>
<circle cx="193.7" cy="790.7" r="6.05" fill="#377EB8" fill-opacity="0.7"/><circle cx="193.7" cy="790.7" r="5.25" fill="none" stroke="#377EB8" stroke-opacity="0.7" stroke-width="1.6"/>
<circle cx="243.4" cy="785.2" r="6.05" fill="#377EB8" fill-opacity="0.7"/><circle cx="243.4" cy="785.2" r="5.25" fill="none" stroke="#377EB8" stroke-opacity="0.7" stroke-width="1.6"/>
<circle cx="190.4" cy="797.5" r="6.05" fill="#377EB8" fill-opacity="0.7"/><circle cx="190.4" cy="797.5" r="5.25" fill="none" stroke="#377EB8" stroke-opacity="0.7" stroke-width="1.6"/>
<circle cx="244.2" cy="788.6" r="6.05" fill="#377EB8" fill-opacity="0.7"/><circle cx="244.2" cy="788.6" r="5.25" fill="none" stroke="#377EB8" stroke-opacity="0.7" stroke-width="1.6"/>
<circle cx="239.9" cy="787.8" r="6.05" fill="#377EB8" fill-opacity="0.7"/><circle cx="239.9" cy="787.8" r="5.25" fill="none" stroke="#377EB8" stroke-opacity="0.7" stroke-width="1.6"/>
<circle cx="212.8" cy="794.2" r="6.05" fill="#377EB8" fill-opacity="0.7"/><circle cx="212.8" cy="794.2" r="5.25" fill="none" stroke="#377EB8" stroke-opacity="0.7" stroke-width="1.6"/>
<circle cx="209.0" cy="780.3" r="6.05" fill="#377EB8" fill-opacity="0.7"/><circle cx="209.0" cy="780.3" r="5.25" fill="none" stroke="#377EB8" stroke-opacity="0.7" stroke-width="1.6"/>
<circle cx="195.1" cy="798.9" r="6.05" fill="#377EB8" fill-opacity="0.7"/><circle cx="195.1" cy="798.9" r="5.25" fill="none" stroke="#377EB8" stroke-opacity="0.7" stroke-width="1.6"/>
<circle cx="196.8" cy="790.3" r="6.05" fill="#377EB8" fill-opacity="0.7"/><circle cx="196.8" cy="790.3" r="5.25" fill="none" stroke="#377EB8" stroke-opacity="0.7" stroke-width="1.6"/>
<circle cx="217.5" cy="786.7" r="6.05" fill="#377EB8" fill-opacity="0.7"/><circle cx="217.5" cy="786.7" r="5.25" fill="none" stroke="#377EB8" stroke-opacity="0.7" stroke-width="1.6"/>
<circle cx="224.5" cy="790.8" r="6.05" fill="#377EB8" fill-opacity="0.7"/><circle cx="224.5" cy="790.8" r="5.25" fill="none" stroke="#377EB8" stroke-opacity="0.7" stroke-width="1.6"/>
<circle cx="213.1" cy="790.3" r="6.05" fill="#377EB8" fill-opacity="0.7"/><circle cx="213.1" cy="790.3" r="5.25" fill="none" stroke="#377EB8" stroke-opacity="0.7" stroke-width="1.6"/>
<circle cx="209.7" cy="798.9" r="6.05" fill="#377EB8" fill-opacity="0.7"/><circle cx="209.7" cy="798.9" r="5.25" fill="none" stroke="#377EB8" stroke-opacity="0.7" stroke-width="1.6"/>
<circle cx="231.3" cy="796.4" r="6.05" fill="#377EB8" fill-opacity="0.7"/><circle cx="231.3" cy="796.4" r="5.25" fill="none" stroke="#377EB8" stroke-opacity="0.7" stroke-width="1.6"/>
<circle cx="219.5" cy="797.0" r="6.05" fill="#377EB8" fill-opacity="0.7"/><circle cx="219.5" cy="797.0" r="5.25" fill="none" stroke="#377EB8" stroke-opacity="0.7" stroke-width="1.6"/>
<circle cx="188.6" cy="796.4" r="6.05" fill="#377EB8" fill-opacity="0.7"/><circle cx="188.6" cy="796.4" r="5.25" fill="none" stroke="#377EB8" stroke-opacity="0.7" stroke-width="1.6"/>
<circle cx="245.3" cy="788.7" r="6.05" fill="#377EB8" fill-opacity="0.7"/><circle cx="245.3" cy="788.7" r="5.25" fill="none" stroke="#377EB8" stroke-opacity="0.7" stroke-width="1.6"/>
<circle cx="238.5" cy="798.9" r="6.05" fill="#377EB8" fill-opacity="0.7"/><circle cx="238.5" cy="798.9" r="5.25" fill="none" stroke="#377EB8" stroke-opacity="0.7" stroke-width="1.6"/>
<circle cx="211.3" cy="792.9" r="6.05" fill="#377EB8" fill-opacity="0.7"/><circle cx="211.3" cy="792.9" r="5.25" fill="none" stroke="#377EB8" stroke-opacity="0.7" stroke-width="1.6"/>
<circle cx="227.5" cy="789.2" r="6.05" fill="#377EB8" fill-opacity="0.7"/><circle cx="227.5" cy="789.2" r="5.25" fill="none" stroke="#377EB8" stroke-opacity="0.7" stroke-width="1.6"/>
<circle cx="189.2" cy="787.3" r="6.05" fill="#377EB8" fill-opacity="0.7"/><circle cx="189.2" cy="787.3" r="5.25" fill="none" stroke="#377EB8" stroke-opacity="0.7" stroke-width="1.6"/>
<circle cx="195.9" cy="789.2" r="6.05" fill="#377EB8" fill-opacity="0.7"/><circle cx="195.9" cy="789.2" r="5.25" fill="none" stroke="#377EB8" stroke-opacity="0.7" stroke-width="1.6"/>
<circle cx="207.8" cy="790.7" r="6.05" fill="#377EB8" fill-opacity="0.7"/><circle cx="207.8" cy="790.7" r="5.25" fill="none" stroke="#377EB8" stroke-opacity="0.7" stroke-width="1.6"/>
<circle cx="195.1" cy="790.8" r="6.05" fill="#377EB8" fill-opacity="0.7"/><circle cx="195.1" cy="790.8" r="5.25" fill="none" stroke="#377EB8" stroke-opacity="0.7" stroke-width="1.6"/>
<circle cx="191.8" cy="791.6" r="6.05" fill="#377EB8" fill-opacity="0.7"/><circle cx="191.8" cy="791.6" r="5.25" fill="none" stroke="#377EB8" stroke-opacity="0.7" stroke-width="1.6"/>
<circle cx="243.6" cy="789.8" r="6.05" fill="#377EB8" fill-opacity="0.7"/><circle cx="243.6" cy="789.8" r="5.25" fill="none" stroke="#377EB8" stroke-opacity="0.7" stroke-width="1.6"/>
<circle cx="226.1" cy="788.3" r="6.05" fill="#377EB8" fill-opacity="0.7"/><circle cx="226.1" cy="788.3" r="5.25" fill="none" stroke="#377EB8" stroke-opacity="0.7" stroke-width="1.6"/>
<circle cx="208.3" cy="787.4" r="6.05" fill="#377EB8" fill-opacity="0.7"/><circle cx="208.3" cy="787.4" r="5.25" fill="none" stroke="#377EB8" stroke-opacity="0.7" stroke-width="1.6"/>
<circle cx="209.4" cy="783.0" r="6.05" fill="#377EB8" fill-opacity="0.7"/><circle cx="209.4" cy="783.0" r="5.25" fill="none" stroke="#377EB8" stroke-opacity="0.7" stroke-width="1.6"/>
<circle cx="251.5" cy="783.2" r="6.05" fill="#377EB8" fill-opacity="0.7"/><circle cx="251.5" cy="783.2" r="5.25" fill="none" stroke="#377EB8" stroke-opacity="0.7" stroke-width="1.6"/>
<circle cx="216.2" cy="793.1" r="6.05" fill="#377EB8" fill-opacity="0.7"/><circle cx="216.2" cy="793.1" r="5.25" fill="none" stroke="#377EB8" stroke-opacity="0.7" stroke-width="1.6"/>
<circle cx="191.8" cy="790.5" r="6.05" fill="#377EB8" fill-opacity="0.7"/><circle cx="191.8" cy="790.5" r="5.25" fill="none" stroke="#377EB8" stroke-opacity="0.7" stroke-width="1.6"/>
<circle cx="208.0" cy="791.8" r="6.05" fill="#377EB8" fill-opacity="0.7"/><circle cx="208.0" cy="791.8" r="5.25" fill="none" stroke="#377EB8" stroke-opacity="0.7" stroke-width="1.6"/>
<circle cx="195.8" cy="780.3" r="6.05" fill="#377EB8" fill-opacity="0.7"/><circle cx="195.8" cy="780.3" r="5.25" fill="none" stroke="#377EB8" stroke-opacity="0.7" stroke-width="1.6"/>
<circle cx="186.5" cy="784.3" r="6.05" fill="#377EB8" fill-opacity="0.7"/><circle cx="186.5" cy="784.3" r="5.25" fill="none" stroke="#377EB8" stroke-opacity="0.7" stroke-width="1.6"/>
<circle cx="194.8" cy="792.9" r="6.05" fill="#377EB8" fill-opacity="0.7"/><circle cx="194.8" cy="792.9" r="5.25" fill="none" stroke="#377EB8" stroke-opacity="0.7" stroke-width="1.6"/>
<circle cx="221.4" cy="784.0" r="6.05" fill="#377EB8" fill-opacity="0.7"/><circle cx="221.4" cy="784.0" r="5.25" fill="none" stroke="#377EB8" stroke-opacity="0.7" stroke-width="1.6"/>
<circle cx="250.6" cy="789.6" r="6.05" fill="#377EB8" fill-opacity="0.7"/><circle cx="250.6" cy="789.6" r="5.25" fill="none" stroke="#377EB8" stroke-opacity="0.7" stroke-width="1.6"/>
<circle cx="242.8" cy="792.2" r="6.05" fill="#377EB8" fill-opacity="0.7"/><circle cx="242.8" cy="792.2" r="5.25" fill="none" stroke="#377EB8" stroke-opacity="0.7" stroke-width="1.6"/>
<circle cx="209.6" cy="794.9" r="6.05" fill="#377EB8" fill-opacity="0.7"/><circle cx="209.6" cy="794.9" r="5.25" fill="none" stroke="#377EB8" stroke-opacity="0.7" stroke-width="1.6"/>
<circle cx="196.2" cy="789.8" r="6.05" fill="#377EB8" fill-opacity="0.7"/><circle cx="196.2" cy="789.8" r="5.25" fill="none" stroke="#377EB8" stroke-opacity="0.7" stroke-width="1.6"/>
<circle cx="237.2" cy="797.6" r="6.05" fill="#377EB8" fill-opacity="0.7"/><circle cx="237.2" cy="797.6" r="5.25" fill="none" stroke="#377EB8" stroke-opacity="0.7" stroke-width="1.6"/>
<circle cx="207.1" cy="789.1" r="6.05" fill="#377EB8" fill-opacity="0.7"/><circle cx="207.1" cy="789.1" r="5.25" fill="none" stroke="#377EB8" stroke-opacity="0.7" stroke-width="1.6"/>
<circle cx="251.0" cy="780.7" r="6.05" fill="#377EB8" fill-opacity="0.7"/><circle cx="251.0" cy="780.7" r="5.25" fill="none" stroke="#377EB8" stroke-opacity="0.7" stroke-width="1.6"/>
<circle cx="242.1" cy="787.2" r="6.05" fill="#377EB8" fill-opacity="0.7"/><circle cx="242.1" cy="787.2" r="5.25" fill="none" stroke="#377EB8" stroke-opacity="0.7" stroke-width="1.6"/>
<circle cx="234.6" cy="798.9" r="6.05" fill="#377EB8" fill-opacity="0.7"/><circle cx="234.6" cy="798.9" r="5.25" fill="none" stroke="#377EB8" stroke-opacity="0.7" stroke-width="1.6"/>
<circle cx="200.2" cy="796.0" r="6.05" fill="#377EB8" fill-opacity="0.7"/><circle cx="200.2" cy="796.0" r="5.25" fill="none" stroke="#377EB8" stroke-opacity="0.7" stroke-width="1.6"/>
<circle cx="186.9" cy="791.4" r="6.05" fill="#377EB8" fill-opacity="0.7"/><circle cx="186.9" cy="791.4" r="5.25" fill="none" stroke="#377EB8" stroke-opacity="0.7" stroke-width="1.6"/>
<circle cx="186.9" cy="791.6" r="6.05" fill="#377EB8" fill-opacity="0.7"/><circle cx="186.9" cy="791.6" r="5.25" fill="none" stroke="#377EB8" stroke-opacity="0.7" stroke-width="1.6"/>
<circle cx="231.4" cy="786.5" r="6.05" fill="#377EB8" fill-opacity="0.7"/><circle cx="231.4" cy="786.5" r="5.25" fill="none" stroke="#377EB8" stroke-opacity="0.7" stroke-width="1.6"/>
<circle cx="249.1" cy="798.9" r="6.05" fill="#377EB8" fill-opacity="0.7"/><circle cx="249.1" cy="798.9" r="5.25" fill="none" stroke="#377EB8" stroke-opacity="0.7" stroke-width="1.6"/>
<circle cx="251.2" cy="786.5" r="6.05" fill="#377EB8" fill-opacity="0.7"/><circle cx="251.2" cy="786.5" r="5.25" fill="none" stroke="#377EB8" stroke-opacity="0.7" stroke-width="1.6"/>
<circle cx="249.0" cy="793.4" r="6.05" fill="#377EB8" fill-opacity="0.7"/><circle cx="249.0" cy="793.4" r="5.25" fill="none" stroke="#377EB8" stroke-opacity="0.7" stroke-width="1.6"/>
<circle cx="200.2" cy="787.8" r="6.05" fill="#377EB8" fill-opacity="0.7"/><circle cx="200.2" cy="787.8" r="5.25" fill="none" stroke="#377EB8" stroke-opacity="0.7" stroke-width="1.6"/>
<circle cx="198.2" cy="788.6" r="6.05" fill="#377EB8" fill-opacity="0.7"/><circle cx="198.2" cy="788.6" r="5.25" fill="none" stroke="#377EB8" stroke-opacity="0.7" stroke-width="1.6"/>
<circle cx="245.3" cy="783.3" r="6.05" fill="#377EB8" fill-opacity="0.7"/><circle cx="245.3" cy="783.3" r="5.25" fill="none" stroke="#377EB8" stroke-opacity="0.7" stroke-width="1.6"/>
<circle cx="241.3" cy="798.9" r="6.05" fill="#377EB8" fill-opacity="0.7"/><circle cx="241.3" cy="798.9" r="5.25" fill="none" stroke="#377EB8" stroke-opacity="0.7" stroke-width="1.6"/>
<circle cx="238.6" cy="789.7" r="6.05" fill="#377EB8" fill-opacity="0.7"/><circle cx="238.6" cy="789.7" r="5.25" fill="none" stroke="#377EB8" stroke-opacity="0.7" stroke-width="1.6"/>
<circle cx="190.7" cy="797.3" r="6.05" fill="#377EB8" fill-opacity="0.7"/><circle cx="190.7" cy="797.3" r="5.25" fill="none" stroke="#377EB8" stroke-opacity="0.7" stroke-width="1.6"/>
<circle cx="237.4" cy="798.9" r="6.05" fill="#377EB8" fill-opacity="0.7"/><circle cx="237.4" cy="798.9" r="5.25" fill="none" stroke="#377EB8" stroke-opacity="0.7" stroke-width="1.6"/>
<circle cx="235.3" cy="794.3" r="6.05" fill="#377EB8" fill-opacity="0.7"/><circle cx="235.3" cy="794.3" r="5.25" fill="none" stroke="#377EB8" stroke-opacity="0.7" stroke-width="1.6"/>
<circle cx="237.9" cy="790.3" r="6.05" fill="#377EB8" fill-opacity="0.7"/><circle cx="237.9" cy="790.3" r="5.25" fill="none" stroke="#377EB8" stroke-opacity="0.7" stroke-width="1.6"/>
<circle cx="207.3" cy="786.1" r="6.05" fill="#377EB8" fill-opacity="0.7"/><circle cx="207.3" cy="786.1" r="5.25" fill="none" stroke="#377EB8" stroke-opacity="0.7" stroke-width="1.6"/>
<circle cx="372.0" cy="772.0" r="6.05" fill="#E41A1C" fill-opacity="0.7"/><circle cx="372.0" cy="772.0" r="5.25" fill="none" stroke="#E41A1C" stroke-opacity="0.7" stroke-width="1.6"/>
<circle cx="380.0" cy="776.0" r="6.05" fill="#E41A1C" fill-opacity="0.7"/><circle cx="380.0" cy="776.0" r="5.25" fill="none" stroke="#E41A1C" stroke-opacity="0.7" stroke-width="1.6"/>
<circle cx="388.0" cy="770.0" r="6.05" fill="#E41A1C" fill-opacity="0.7"/><circle cx="388.0" cy="770.0" r="5.25" fill="none" stroke="#E41A1C" stroke-opacity="0.7" stroke-width="1.6"/>
<circle cx="395.0" cy="775.0" r="6.05" fill="#E41A1C" fill-opacity="0.7"/><circle cx="395.0" cy="775.0" r="5.25" fill="none" stroke="#E41A1C" stroke-opacity="0.7" stroke-width="1.6"/>
<circle cx="385.0" cy="783.0" r="6.05" fill="#E41A1C" fill-opacity="0.7"/><circle cx="385.0" cy="783.0" r="5.25" fill="none" stroke="#E41A1C" stroke-opacity="0.7" stroke-width="1.6"/>
<circle cx="376.0" cy="785.0" r="6.05" fill="#E41A1C" fill-opacity="0.7"/><circle cx="376.0" cy="785.0" r="5.25" fill="none" stroke="#E41A1C" stroke-opacity="0.7" stroke-width="1.6"/>
<circle cx="392.0" cy="786.0" r="6.05" fill="#E41A1C" fill-opacity="0.7"/><circle cx="392.0" cy="786.0" r="5.25" fill="none" stroke="#E41A1C" stroke-opacity="0.7" stroke-width="1.6"/>
<circle cx="400.0" cy="780.0" r="6.05" fill="#E41A1C" fill-opacity="0.7"/><circle cx="400.0" cy="780.0" r="5.25" fill="none" stroke="#E41A1C" stroke-opacity="0.7" stroke-width="1.6"/>
<circle cx="412.3" cy="784.5" r="6.05" fill="#E41A1C" fill-opacity="0.7"/><circle cx="412.3" cy="784.5" r="5.25" fill="none" stroke="#E41A1C" stroke-opacity="0.7" stroke-width="1.6"/>
<circle cx="406.7" cy="795.6" r="6.05" fill="#E41A1C" fill-opacity="0.7"/><circle cx="406.7" cy="795.6" r="5.25" fill="none" stroke="#E41A1C" stroke-opacity="0.7" stroke-width="1.6"/>
<circle cx="387.9" cy="799.3" r="6.05" fill="#377EB8" fill-opacity="0.7"/><circle cx="387.9" cy="799.3" r="5.25" fill="none" stroke="#377EB8" stroke-opacity="0.7" stroke-width="1.6"/>
<circle cx="388.7" cy="794.2" r="6.05" fill="#377EB8" fill-opacity="0.7"/><circle cx="388.7" cy="794.2" r="5.25" fill="none" stroke="#377EB8" stroke-opacity="0.7" stroke-width="1.6"/>
<circle cx="391.5" cy="792.7" r="6.05" fill="#377EB8" fill-opacity="0.7"/><circle cx="391.5" cy="792.7" r="5.25" fill="none" stroke="#377EB8" stroke-opacity="0.7" stroke-width="1.6"/>
<circle cx="391.8" cy="791.6" r="6.05" fill="#377EB8" fill-opacity="0.7"/><circle cx="391.8" cy="791.6" r="5.25" fill="none" stroke="#377EB8" stroke-opacity="0.7" stroke-width="1.6"/>
<circle cx="399.6" cy="789.3" r="6.05" fill="#377EB8" fill-opacity="0.7"/><circle cx="399.6" cy="789.3" r="5.25" fill="none" stroke="#377EB8" stroke-opacity="0.7" stroke-width="1.6"/>
<circle cx="378.0" cy="792.1" r="6.05" fill="#377EB8" fill-opacity="0.7"/><circle cx="378.0" cy="792.1" r="5.25" fill="none" stroke="#377EB8" stroke-opacity="0.7" stroke-width="1.6"/>
<circle cx="364.0" cy="787.1" r="6.05" fill="#377EB8" fill-opacity="0.7"/><circle cx="364.0" cy="787.1" r="5.25" fill="none" stroke="#377EB8" stroke-opacity="0.7" stroke-width="1.6"/>
<circle cx="360.8" cy="797.2" r="6.05" fill="#377EB8" fill-opacity="0.7"/><circle cx="360.8" cy="797.2" r="5.25" fill="none" stroke="#377EB8" stroke-opacity="0.7" stroke-width="1.6"/>
<circle cx="422.8" cy="782.7" r="6.05" fill="#377EB8" fill-opacity="0.7"/><circle cx="422.8" cy="782.7" r="5.25" fill="none" stroke="#377EB8" stroke-opacity="0.7" stroke-width="1.6"/>
<circle cx="398.6" cy="791.6" r="6.05" fill="#377EB8" fill-opacity="0.7"/><circle cx="398.6" cy="791.6" r="5.25" fill="none" stroke="#377EB8" stroke-opacity="0.7" stroke-width="1.6"/>
<circle cx="368.4" cy="783.7" r="6.05" fill="#377EB8" fill-opacity="0.7"/><circle cx="368.4" cy="783.7" r="5.25" fill="none" stroke="#377EB8" stroke-opacity="0.7" stroke-width="1.6"/>
<circle cx="361.9" cy="789.4" r="6.05" fill="#377EB8" fill-opacity="0.7"/><circle cx="361.9" cy="789.4" r="5.25" fill="none" stroke="#377EB8" stroke-opacity="0.7" stroke-width="1.6"/>
<circle cx="370.6" cy="789.9" r="6.05" fill="#377EB8" fill-opacity="0.7"/><circle cx="370.6" cy="789.9" r="5.25" fill="none" stroke="#377EB8" stroke-opacity="0.7" stroke-width="1.6"/>
<circle cx="388.6" cy="788.7" r="6.05" fill="#377EB8" fill-opacity="0.7"/><circle cx="388.6" cy="788.7" r="5.25" fill="none" stroke="#377EB8" stroke-opacity="0.7" stroke-width="1.6"/>
<circle cx="387.1" cy="786.6" r="6.05" fill="#377EB8" fill-opacity="0.7"/><circle cx="387.1" cy="786.6" r="5.25" fill="none" stroke="#377EB8" stroke-opacity="0.7" stroke-width="1.6"/>
<circle cx="400.3" cy="795.1" r="6.05" fill="#377EB8" fill-opacity="0.7"/><circle cx="400.3" cy="795.1" r="5.25" fill="none" stroke="#377EB8" stroke-opacity="0.7" stroke-width="1.6"/>
<circle cx="391.0" cy="792.9" r="6.05" fill="#377EB8" fill-opacity="0.7"/><circle cx="391.0" cy="792.9" r="5.25" fill="none" stroke="#377EB8" stroke-opacity="0.7" stroke-width="1.6"/>
<circle cx="376.4" cy="794.7" r="6.05" fill="#377EB8" fill-opacity="0.7"/><circle cx="376.4" cy="794.7" r="5.25" fill="none" stroke="#377EB8" stroke-opacity="0.7" stroke-width="1.6"/>
<circle cx="423.8" cy="780.2" r="6.05" fill="#377EB8" fill-opacity="0.7"/><circle cx="423.8" cy="780.2" r="5.25" fill="none" stroke="#377EB8" stroke-opacity="0.7" stroke-width="1.6"/>
<circle cx="404.7" cy="790.2" r="6.05" fill="#377EB8" fill-opacity="0.7"/><circle cx="404.7" cy="790.2" r="5.25" fill="none" stroke="#377EB8" stroke-opacity="0.7" stroke-width="1.6"/>
<circle cx="378.8" cy="789.4" r="6.05" fill="#377EB8" fill-opacity="0.7"/><circle cx="378.8" cy="789.4" r="5.25" fill="none" stroke="#377EB8" stroke-opacity="0.7" stroke-width="1.6"/>
<circle cx="362.6" cy="785.8" r="6.05" fill="#377EB8" fill-opacity="0.7"/><circle cx="362.6" cy="785.8" r="5.25" fill="none" stroke="#377EB8" stroke-opacity="0.7" stroke-width="1.6"/>
<circle cx="408.6" cy="797.9" r="6.05" fill="#377EB8" fill-opacity="0.7"/><circle cx="408.6" cy="797.9" r="5.25" fill="none" stroke="#377EB8" stroke-opacity="0.7" stroke-width="1.6"/>
<circle cx="383.5" cy="784.2" r="6.05" fill="#377EB8" fill-opacity="0.7"/><circle cx="383.5" cy="784.2" r="5.25" fill="none" stroke="#377EB8" stroke-opacity="0.7" stroke-width="1.6"/>
<circle cx="421.2" cy="789.8" r="6.05" fill="#377EB8" fill-opacity="0.7"/><circle cx="421.2" cy="789.8" r="5.25" fill="none" stroke="#377EB8" stroke-opacity="0.7" stroke-width="1.6"/>
<circle cx="371.8" cy="790.1" r="6.05" fill="#377EB8" fill-opacity="0.7"/><circle cx="371.8" cy="790.1" r="5.25" fill="none" stroke="#377EB8" stroke-opacity="0.7" stroke-width="1.6"/>
<circle cx="418.1" cy="799.3" r="6.05" fill="#377EB8" fill-opacity="0.7"/><circle cx="418.1" cy="799.3" r="5.25" fill="none" stroke="#377EB8" stroke-opacity="0.7" stroke-width="1.6"/>
<circle cx="384.2" cy="787.3" r="6.05" fill="#377EB8" fill-opacity="0.7"/><circle cx="384.2" cy="787.3" r="5.25" fill="none" stroke="#377EB8" stroke-opacity="0.7" stroke-width="1.6"/>
<circle cx="362.8" cy="796.0" r="6.05" fill="#377EB8" fill-opacity="0.7"/><circle cx="362.8" cy="796.0" r="5.25" fill="none" stroke="#377EB8" stroke-opacity="0.7" stroke-width="1.6"/>
<circle cx="375.8" cy="796.4" r="6.05" fill="#377EB8" fill-opacity="0.7"/><circle cx="375.8" cy="796.4" r="5.25" fill="none" stroke="#377EB8" stroke-opacity="0.7" stroke-width="1.6"/>
<circle cx="363.8" cy="796.4" r="6.05" fill="#377EB8" fill-opacity="0.7"/><circle cx="363.8" cy="796.4" r="5.25" fill="none" stroke="#377EB8" stroke-opacity="0.7" stroke-width="1.6"/>
<circle cx="408.0" cy="778.9" r="6.05" fill="#377EB8" fill-opacity="0.7"/><circle cx="408.0" cy="778.9" r="5.25" fill="none" stroke="#377EB8" stroke-opacity="0.7" stroke-width="1.6"/>
<circle cx="365.8" cy="789.9" r="6.05" fill="#377EB8" fill-opacity="0.7"/><circle cx="365.8" cy="789.9" r="5.25" fill="none" stroke="#377EB8" stroke-opacity="0.7" stroke-width="1.6"/>
<circle cx="362.0" cy="787.6" r="6.05" fill="#377EB8" fill-opacity="0.7"/><circle cx="362.0" cy="787.6" r="5.25" fill="none" stroke="#377EB8" stroke-opacity="0.7" stroke-width="1.6"/>
<circle cx="410.6" cy="787.1" r="6.05" fill="#377EB8" fill-opacity="0.7"/><circle cx="410.6" cy="787.1" r="5.25" fill="none" stroke="#377EB8" stroke-opacity="0.7" stroke-width="1.6"/>
<circle cx="387.5" cy="784.1" r="6.05" fill="#377EB8" fill-opacity="0.7"/><circle cx="387.5" cy="784.1" r="5.25" fill="none" stroke="#377EB8" stroke-opacity="0.7" stroke-width="1.6"/>
<circle cx="370.6" cy="790.2" r="6.05" fill="#377EB8" fill-opacity="0.7"/><circle cx="370.6" cy="790.2" r="5.25" fill="none" stroke="#377EB8" stroke-opacity="0.7" stroke-width="1.6"/>
<circle cx="400.5" cy="792.6" r="6.05" fill="#377EB8" fill-opacity="0.7"/><circle cx="400.5" cy="792.6" r="5.25" fill="none" stroke="#377EB8" stroke-opacity="0.7" stroke-width="1.6"/>
<circle cx="365.7" cy="793.0" r="6.05" fill="#377EB8" fill-opacity="0.7"/><circle cx="365.7" cy="793.0" r="5.25" fill="none" stroke="#377EB8" stroke-opacity="0.7" stroke-width="1.6"/>
<circle cx="375.8" cy="788.3" r="6.05" fill="#377EB8" fill-opacity="0.7"/><circle cx="375.8" cy="788.3" r="5.25" fill="none" stroke="#377EB8" stroke-opacity="0.7" stroke-width="1.6"/>
<circle cx="422.1" cy="788.5" r="6.05" fill="#377EB8" fill-opacity="0.7"/><circle cx="422.1" cy="788.5" r="5.25" fill="none" stroke="#377EB8" stroke-opacity="0.7" stroke-width="1.6"/>
<circle cx="416.4" cy="794.0" r="6.05" fill="#377EB8" fill-opacity="0.7"/><circle cx="416.4" cy="794.0" r="5.25" fill="none" stroke="#377EB8" stroke-opacity="0.7" stroke-width="1.6"/>
<circle cx="371.9" cy="797.8" r="6.05" fill="#377EB8" fill-opacity="0.7"/><circle cx="371.9" cy="797.8" r="5.25" fill="none" stroke="#377EB8" stroke-opacity="0.7" stroke-width="1.6"/>
<circle cx="400.4" cy="783.8" r="6.05" fill="#377EB8" fill-opacity="0.7"/><circle cx="400.4" cy="783.8" r="5.25" fill="none" stroke="#377EB8" stroke-opacity="0.7" stroke-width="1.6"/>
<circle cx="364.6" cy="786.4" r="6.05" fill="#377EB8" fill-opacity="0.7"/><circle cx="364.6" cy="786.4" r="5.25" fill="none" stroke="#377EB8" stroke-opacity="0.7" stroke-width="1.6"/>
<circle cx="375.0" cy="790.2" r="6.05" fill="#377EB8" fill-opacity="0.7"/><circle cx="375.0" cy="790.2" r="5.25" fill="none" stroke="#377EB8" stroke-opacity="0.7" stroke-width="1.6"/>
<circle cx="1071.5" cy="532.9" r="6.05" fill="#377EB8" fill-opacity="0.7"/><circle cx="1071.5" cy="532.9" r="5.25" fill="none" stroke="#377EB8" stroke-opacity="0.7" stroke-width="1.6"/>
<circle cx="1085.3" cy="532.9" r="6.05" fill="#377EB8" fill-opacity="0.7"/><circle cx="1085.3" cy="532.9" r="5.25" fill="none" stroke="#377EB8" stroke-opacity="0.7" stroke-width="1.6"/>
<circle cx="1087.9" cy="532.9" r="6.05" fill="#377EB8" fill-opacity="0.7"/><circle cx="1087.9" cy="532.9" r="5.25" fill="none" stroke="#377EB8" stroke-opacity="0.7" stroke-width="1.6"/>
<circle cx="1064.4" cy="727.6" r="6.05" fill="#377EB8" fill-opacity="0.7"/><circle cx="1064.4" cy="727.6" r="5.25" fill="none" stroke="#377EB8" stroke-opacity="0.7" stroke-width="1.6"/>
<circle cx="1079.8" cy="728.6" r="6.05" fill="#377EB8" fill-opacity="0.7"/><circle cx="1079.8" cy="728.6" r="5.25" fill="none" stroke="#377EB8" stroke-opacity="0.7" stroke-width="1.6"/>
<circle cx="1241.5" cy="532.9" r="6.05" fill="#377EB8" fill-opacity="0.7"/><circle cx="1241.5" cy="532.9" r="5.25" fill="none" stroke="#377EB8" stroke-opacity="0.7" stroke-width="1.6"/>
<circle cx="1266.6" cy="532.9" r="6.05" fill="#377EB8" fill-opacity="0.7"/><circle cx="1266.6" cy="532.9" r="5.25" fill="none" stroke="#377EB8" stroke-opacity="0.7" stroke-width="1.6"/>
</svg></body></html>
